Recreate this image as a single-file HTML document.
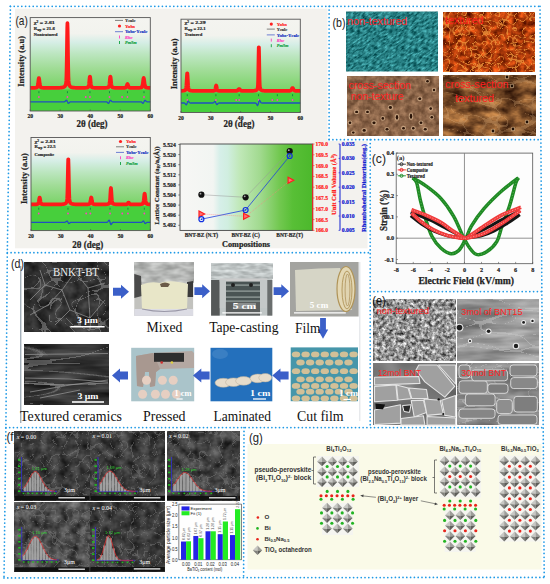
<!DOCTYPE html>
<html><head><meta charset="utf-8"><style>html,body{margin:0;padding:0;background:#fff;width:550px;height:584px;overflow:hidden}svg{display:block}</style></head><body><svg width="550" height="584" viewBox="0 0 550 584"><defs><linearGradient id="g1" x1="0" y1="0" x2="0" y2="1"><stop offset="0" stop-color="#f4f4f0"/><stop offset="0.22" stop-color="#f2f3ee"/><stop offset="0.34" stop-color="#d6eee6"/><stop offset="0.5" stop-color="#bce6c0"/><stop offset="0.7" stop-color="#a0dc96"/><stop offset="0.88" stop-color="#86d676"/><stop offset="1" stop-color="#74d264"/></linearGradient><linearGradient id="g2" x1="0" y1="0" x2="0" y2="1"><stop offset="0" stop-color="#f4f4f0"/><stop offset="0.22" stop-color="#f2f3ee"/><stop offset="0.34" stop-color="#d6eee6"/><stop offset="0.5" stop-color="#bce6c0"/><stop offset="0.7" stop-color="#a0dc96"/><stop offset="0.88" stop-color="#86d676"/><stop offset="1" stop-color="#74d264"/></linearGradient><linearGradient id="g3" x1="0" y1="0" x2="0" y2="1"><stop offset="0" stop-color="#f4f4f0"/><stop offset="0.22" stop-color="#f2f3ee"/><stop offset="0.34" stop-color="#d6eee6"/><stop offset="0.5" stop-color="#bce6c0"/><stop offset="0.7" stop-color="#a0dc96"/><stop offset="0.88" stop-color="#86d676"/><stop offset="1" stop-color="#74d264"/></linearGradient><linearGradient id="g4" x1="0" y1="0" x2="1" y2="0"><stop offset="0" stop-color="#f7f7f5"/><stop offset="0.25" stop-color="#f2f5f2"/><stop offset="0.3" stop-color="#d6efe9"/><stop offset="0.36" stop-color="#d0eee0"/><stop offset="0.45" stop-color="#c0e8b8"/><stop offset="0.6" stop-color="#a2da90"/><stop offset="0.75" stop-color="#72c850"/><stop offset="0.85" stop-color="#58bf36"/><stop offset="1" stop-color="#4cb82c"/></linearGradient><clipPath id="cpteal"><rect x="346" y="11.5" width="92" height="60"/></clipPath><filter id="f1" x="0" y="0" width="1" height="1" color-interpolation-filters="sRGB"><feTurbulence type="fractalNoise" baseFrequency="0.22 0.6" numOctaves="3" seed="3"/><feColorMatrix type="matrix" values="0.588 0 0 0 -0.137 0.850 0 0 0 0.077 0.850 0 0 0 0.093 0 0 0 0 1"/></filter><filter id="f2" x="0" y="0" width="1" height="1" color-interpolation-filters="sRGB"><feTurbulence type="fractalNoise" baseFrequency="0.15" numOctaves="3" seed="5" result="n"/><feColorMatrix in="n" type="matrix" values="1.046 0 0 0 0.136 0.523 0 0 0 -0.042 0.196 0 0 0 -0.059 0 0 0 0 1" result="base"/><feTurbulence type="turbulence" baseFrequency="0.12 0.14" numOctaves="1" seed="9" result="t"/><feColorMatrix in="t" type="matrix" values="0 0 0 0 0.933 0 0 0 0 0.580 0 0 0 0 0.227 -11.000 0 0 0 0.770" result="lines"/><feComposite in="lines" in2="base" operator="over"/></filter><filter id="f3" x="0" y="0" width="1" height="1" color-interpolation-filters="sRGB"><feTurbulence type="fractalNoise" baseFrequency="0.15" numOctaves="3" seed="8"/><feColorMatrix type="matrix" values="0.458 0 0 0 0.312 0.392 0 0 0 0.196 0.327 0 0 0 0.119 0 0 0 0 1"/></filter><filter id="f4" x="0" y="0" width="1" height="1" color-interpolation-filters="sRGB"><feTurbulence type="fractalNoise" baseFrequency="0.05 0.08" numOctaves="4" seed="11" result="n"/><feColorMatrix in="n" type="matrix" values="1.046 0 0 0 -0.029 0.784 0 0 0 -0.078 0.458 0 0 0 -0.064 0 0 0 0 1" result="base"/><feTurbulence type="turbulence" baseFrequency="0.03 0.06" numOctaves="1" seed="12" result="t"/><feColorMatrix in="t" type="matrix" values="0 0 0 0 0.843 0 0 0 0 0.667 0 0 0 0 0.471 -7.200 0 0 0 0.288" result="lines"/><feComposite in="lines" in2="base" operator="over"/></filter><filter id="f5" x="0" y="0" width="1" height="1" color-interpolation-filters="sRGB"><feTurbulence type="fractalNoise" baseFrequency="0.08" numOctaves="3" seed="21" result="n"/><feColorMatrix in="n" type="matrix" values="0.327 0 0 0 0.033 0.327 0 0 0 0.033 0.327 0 0 0 0.033 0 0 0 0 1" result="base"/><feTurbulence type="turbulence" baseFrequency="0.05" numOctaves="1" seed="22" result="t"/><feColorMatrix in="t" type="matrix" values="0 0 0 0 0.549 0 0 0 0 0.549 0 0 0 0 0.549 -22.000 0 0 0 0.550" result="lines"/><feComposite in="lines" in2="base" operator="over"/></filter><filter id="f6" x="0" y="0" width="1" height="1" color-interpolation-filters="sRGB"><feTurbulence type="fractalNoise" baseFrequency="0.02 0.12" numOctaves="3" seed="23" result="n"/><feColorMatrix in="n" type="matrix" values="0.327 0 0 0 0.033 0.327 0 0 0 0.033 0.327 0 0 0 0.033 0 0 0 0 1" result="base"/><feTurbulence type="turbulence" baseFrequency="0.006 0.05" numOctaves="1" seed="24" result="t"/><feColorMatrix in="t" type="matrix" values="0 0 0 0 0.588 0 0 0 0 0.588 0 0 0 0 0.588 -16.000 0 0 0 0.480" result="lines"/><feComposite in="lines" in2="base" operator="over"/></filter><filter id="f7" x="0" y="0" width="1" height="1" color-interpolation-filters="sRGB"><feTurbulence type="fractalNoise" baseFrequency="0.08 0.2" numOctaves="2" seed="61"/><feColorMatrix type="matrix" values="0.392 0 0 0 0.518 0.392 0 0 0 0.525 0.392 0 0 0 0.518 0 0 0 0 1"/></filter><filter id="f8" x="0" y="0" width="1" height="1" color-interpolation-filters="sRGB"><feTurbulence type="fractalNoise" baseFrequency="0.1 0.3" numOctaves="2" seed="62"/><feColorMatrix type="matrix" values="0.392 0 0 0 0.557 0.392 0 0 0 0.580 0.392 0 0 0 0.580 0 0 0 0 1"/></filter><filter id="f9" x="0" y="0" width="1" height="1" color-interpolation-filters="sRGB"><feTurbulence type="fractalNoise" baseFrequency="0.28" numOctaves="3" seed="31"/><feColorMatrix type="matrix" values="1.307 0 0 0 -0.073 1.307 0 0 0 -0.073 1.307 0 0 0 -0.073 0 0 0 0 1"/></filter><filter id="f10" x="0" y="0" width="1" height="1" color-interpolation-filters="sRGB"><feTurbulence type="fractalNoise" baseFrequency="0.02 0.1" numOctaves="3" seed="32" result="n"/><feColorMatrix in="n" type="matrix" values="0.523 0 0 0 0.327 0.523 0 0 0 0.327 0.523 0 0 0 0.327 0 0 0 0 1" result="base"/><feTurbulence type="turbulence" baseFrequency="0.02 0.06" numOctaves="1" seed="35" result="t"/><feColorMatrix in="t" type="matrix" values="0 0 0 0 0.804 0 0 0 0 0.804 0 0 0 0 0.804 -20.000 0 0 0 0.400" result="lines"/><feComposite in="lines" in2="base" operator="over"/></filter><filter id="f11" x="0" y="0" width="1" height="1" color-interpolation-filters="sRGB"><feTurbulence type="fractalNoise" baseFrequency="0.03" numOctaves="2" seed="33"/><feColorMatrix type="matrix" values="0.392 0 0 0 0.267 0.392 0 0 0 0.267 0.392 0 0 0 0.267 0 0 0 0 1"/></filter><filter id="f12" x="0" y="0" width="1" height="1" color-interpolation-filters="sRGB"><feTurbulence type="fractalNoise" baseFrequency="0.03 0.08" numOctaves="3" seed="34" result="n"/><feColorMatrix in="n" type="matrix" values="0.458 0 0 0 0.281 0.458 0 0 0 0.281 0.458 0 0 0 0.281 0 0 0 0 1" result="base"/><feTurbulence type="turbulence" baseFrequency="0.03 0.09" numOctaves="1" seed="36" result="t"/><feColorMatrix in="t" type="matrix" values="0 0 0 0 0.882 0 0 0 0 0.882 0 0 0 0 0.882 -13.200 0 0 0 0.264" result="lines"/><feComposite in="lines" in2="base" operator="over"/></filter><filter id="f13" x="0" y="0" width="1" height="1" color-interpolation-filters="sRGB"><feTurbulence type="fractalNoise" baseFrequency="0.1" numOctaves="3" seed="41" result="n"/><feColorMatrix in="n" type="matrix" values="0.366 0 0 0 0.041 0.366 0 0 0 0.041 0.366 0 0 0 0.041 0 0 0 0 1" result="base"/><feTurbulence type="turbulence" baseFrequency="0.09" numOctaves="1" seed="91" result="t"/><feColorMatrix in="t" type="matrix" values="0 0 0 0 0.471 0 0 0 0 0.471 0 0 0 0 0.471 -17.000 0 0 0 0.476" result="lines"/><feComposite in="lines" in2="base" operator="over"/></filter><filter id="f14" x="0" y="0" width="1" height="1" color-interpolation-filters="sRGB"><feTurbulence type="fractalNoise" baseFrequency="0.1" numOctaves="3" seed="42" result="n"/><feColorMatrix in="n" type="matrix" values="0.418 0 0 0 0.022 0.418 0 0 0 0.022 0.418 0 0 0 0.022 0 0 0 0 1" result="base"/><feTurbulence type="turbulence" baseFrequency="0.09" numOctaves="1" seed="92" result="t"/><feColorMatrix in="t" type="matrix" values="0 0 0 0 0.471 0 0 0 0 0.471 0 0 0 0 0.471 -17.000 0 0 0 0.476" result="lines"/><feComposite in="lines" in2="base" operator="over"/></filter><filter id="f15" x="0" y="0" width="1" height="1" color-interpolation-filters="sRGB"><feTurbulence type="fractalNoise" baseFrequency="0.1" numOctaves="3" seed="43" result="n"/><feColorMatrix in="n" type="matrix" values="0.471 0 0 0 0.020 0.471 0 0 0 0.020 0.471 0 0 0 0.020 0 0 0 0 1" result="base"/><feTurbulence type="turbulence" baseFrequency="0.09" numOctaves="1" seed="93" result="t"/><feColorMatrix in="t" type="matrix" values="0 0 0 0 0.471 0 0 0 0 0.471 0 0 0 0 0.471 -17.000 0 0 0 0.476" result="lines"/><feComposite in="lines" in2="base" operator="over"/></filter><filter id="f16" x="0" y="0" width="1" height="1" color-interpolation-filters="sRGB"><feTurbulence type="fractalNoise" baseFrequency="0.1" numOctaves="3" seed="44" result="n"/><feColorMatrix in="n" type="matrix" values="0.523 0 0 0 0.033 0.523 0 0 0 0.033 0.523 0 0 0 0.033 0 0 0 0 1" result="base"/><feTurbulence type="turbulence" baseFrequency="0.09" numOctaves="1" seed="94" result="t"/><feColorMatrix in="t" type="matrix" values="0 0 0 0 0.471 0 0 0 0 0.471 0 0 0 0 0.471 -17.000 0 0 0 0.476" result="lines"/><feComposite in="lines" in2="base" operator="over"/></filter><filter id="f17" x="0" y="0" width="1" height="1" color-interpolation-filters="sRGB"><feTurbulence type="fractalNoise" baseFrequency="0.1" numOctaves="3" seed="45" result="n"/><feColorMatrix in="n" type="matrix" values="0.366 0 0 0 0.041 0.366 0 0 0 0.041 0.366 0 0 0 0.041 0 0 0 0 1" result="base"/><feTurbulence type="turbulence" baseFrequency="0.09" numOctaves="1" seed="95" result="t"/><feColorMatrix in="t" type="matrix" values="0 0 0 0 0.471 0 0 0 0 0.471 0 0 0 0 0.471 -17.000 0 0 0 0.476" result="lines"/><feComposite in="lines" in2="base" operator="over"/></filter></defs><rect x="15" y="8.7" width="312.5" height="132.3" fill="#f3f2ee" /><rect x="15" y="141" width="352.5" height="107.3" fill="#f3f2ee" /><text x="15.5" y="25" font-family='"Liberation Sans", sans-serif' font-size="12.2" font-weight="normal" fill="#222" text-anchor="start" textLength="12.3" lengthAdjust="spacingAndGlyphs">(a)</text><rect x="30.2" y="17.6" width="120.1" height="72.4" fill="url(#g1)" /><rect x="30.2" y="89.5" width="120.1" height="21.5" fill="#47cf3c" /><line x1="38.91" y1="91.2" x2="38.91" y2="93.2" stroke="#109040" stroke-width="1" /><line x1="67.43" y1="91.2" x2="67.43" y2="93.2" stroke="#109040" stroke-width="1" /><line x1="89.95" y1="91.2" x2="89.95" y2="93.2" stroke="#109040" stroke-width="1" /><line x1="109.47" y1="91.2" x2="109.47" y2="93.2" stroke="#109040" stroke-width="1" /><line x1="127.48" y1="91.2" x2="127.48" y2="93.2" stroke="#109040" stroke-width="1" /><line x1="143.99" y1="91.2" x2="143.99" y2="93.2" stroke="#109040" stroke-width="1" /><circle cx="38.91" cy="97" r="0.9" fill="#ff40c0" /><circle cx="67.43" cy="97" r="0.9" fill="#ff40c0" /><circle cx="85.75" cy="97" r="0.9" fill="#ff40c0" /><circle cx="89.95" cy="97" r="0.9" fill="#ff40c0" /><circle cx="109.47" cy="97" r="0.9" fill="#ff40c0" /><circle cx="122.08" cy="97" r="0.9" fill="#ff40c0" /><circle cx="127.48" cy="97" r="0.9" fill="#ff40c0" /><circle cx="143.99" cy="97" r="0.9" fill="#ff40c0" /><polyline points="30.2,101.8 30.7,101.8 31.2,101.8 31.7,101.8 32.2,101.8 32.7,101.8 33.2,101.8 33.7,101.8 34.2,101.8 34.7,101.8 35.2,101.8 35.7,101.8 36.2,101.8 36.71,101.8 37.21,101.8 37.71,101.8 38.21,101.8 38.71,101.8 39.21,101.8 39.71,101.8 40.21,101.8 40.71,101.8 41.21,101.8 41.71,101.8 42.21,101.8 42.71,101.8 43.21,101.8 43.71,101.8 44.21,101.8 44.71,101.8 45.21,101.8 45.71,101.8 46.21,101.8 46.71,101.8 47.21,101.8 47.71,101.8 48.22,101.8 48.72,101.8 49.22,101.8 49.72,101.8 50.22,101.8 50.72,101.8 51.22,101.8 51.72,101.8 52.22,101.8 52.72,101.8 53.22,101.8 53.72,101.8 54.22,101.8 54.72,101.8 55.22,101.8 55.72,101.8 56.22,101.8 56.72,101.8 57.22,101.8 57.72,101.8 58.22,101.8 58.72,101.8 59.22,101.8 59.72,101.8 60.23,101.8 60.73,101.8 61.23,101.8 61.73,101.8 62.23,101.8 62.73,101.8 63.23,101.81 63.73,101.82 64.23,101.81 64.73,101.69 65.23,101.35 65.73,100.78 66.23,100.31 66.73,100.42 67.23,101.31 67.73,102.52 68.23,103.27 68.73,103.23 69.23,102.7 69.73,102.16 70.23,101.87 70.73,101.79 71.23,101.78 71.73,101.79 72.23,101.8 72.74,101.8 73.24,101.8 73.74,101.8 74.24,101.8 74.74,101.8 75.24,101.8 75.74,101.8 76.24,101.8 76.74,101.8 77.24,101.8 77.74,101.8 78.24,101.8 78.74,101.8 79.24,101.8 79.74,101.8 80.24,101.8 80.74,101.8 81.24,101.8 81.74,101.8 82.24,101.8 82.74,101.8 83.24,101.8 83.74,101.8 84.25,101.8 84.75,101.8 85.25,101.8 85.75,101.8 86.25,101.8 86.75,101.8 87.25,101.8 87.75,101.8 88.25,101.8 88.75,101.8 89.25,101.8 89.75,101.8 90.25,101.8 90.75,101.8 91.25,101.8 91.75,101.8 92.25,101.8 92.75,101.8 93.25,101.8 93.75,101.8 94.25,101.8 94.75,101.8 95.25,101.8 95.75,101.8 96.26,101.8 96.76,101.8 97.26,101.8 97.76,101.8 98.26,101.8 98.76,101.8 99.26,101.8 99.76,101.8 100.26,101.8 100.76,101.8 101.26,101.8 101.76,101.8 102.26,101.8 102.76,101.8 103.26,101.8 103.76,101.8 104.26,101.8 104.76,101.8 105.26,101.79 105.76,101.78 106.26,101.79 106.76,101.91 107.26,102.25 107.76,102.82 108.27,103.29 108.77,103.18 109.27,102.29 109.77,101.08 110.27,100.33 110.77,100.37 111.27,100.9 111.77,101.44 112.27,101.73 112.77,101.81 113.27,101.82 113.77,101.81 114.27,101.8 114.77,101.8 115.27,101.8 115.77,101.8 116.27,101.8 116.77,101.8 117.27,101.8 117.77,101.8 118.27,101.8 118.77,101.8 119.27,101.8 119.77,101.8 120.28,101.8 120.78,101.8 121.28,101.8 121.78,101.8 122.28,101.8 122.78,101.8 123.28,101.8 123.78,101.8 124.28,101.8 124.78,101.8 125.28,101.8 125.78,101.8 126.28,101.8 126.78,101.8 127.28,101.8 127.78,101.8 128.28,101.8 128.78,101.8 129.28,101.8 129.78,101.8 130.28,101.8 130.78,101.8 131.28,101.8 131.78,101.8 132.28,101.8 132.79,101.8 133.29,101.8 133.79,101.8 134.29,101.8 134.79,101.8 135.29,101.8 135.79,101.8 136.29,101.8 136.79,101.8 137.29,101.8 137.79,101.8 138.29,101.8 138.79,101.8 139.29,101.8 139.79,101.79 140.29,101.78 140.79,101.79 141.29,101.91 141.79,102.25 142.29,102.82 142.79,103.29 143.29,103.18 143.79,102.29 144.3,101.08 144.8,100.33 145.3,100.37 145.8,100.9 146.3,101.44 146.8,101.73 147.3,101.81 147.8,101.82 148.3,101.81 148.8,101.8 149.3,101.8 149.8,101.8 150.3,101.8" fill="none" stroke="#2050c0" stroke-width="1.3" /><polyline points="30.2,87.95 30.4,87.94 30.6,87.94 30.8,87.94 31,87.94 31.2,87.93 31.4,87.93 31.6,87.93 31.8,87.93 32,87.92 32.2,87.92 32.4,87.91 32.6,87.91 32.8,87.9 33,87.9 33.2,87.89 33.4,87.89 33.6,87.88 33.8,87.87 34,87.86 34.2,87.85 34.4,87.84 34.6,87.83 34.8,87.81 35,87.79 35.2,87.78 35.4,87.75 35.6,87.73 35.8,87.7 36,87.67 36.2,87.63 36.41,87.58 36.61,87.52 36.81,87.44 37.01,87.33 37.21,87.15 37.41,86.84 37.61,86.31 37.81,85.43 38.01,84.14 38.21,82.47 38.41,80.65 38.61,79.05 38.81,78.11 39.01,78.11 39.21,79.05 39.41,80.65 39.61,82.47 39.81,84.14 40.01,85.43 40.21,86.3 40.41,86.84 40.61,87.15 40.81,87.33 41.01,87.44 41.21,87.52 41.41,87.57 41.61,87.62 41.81,87.66 42.01,87.69 42.21,87.72 42.41,87.74 42.61,87.77 42.81,87.78 43.01,87.8 43.21,87.81 43.41,87.83 43.61,87.84 43.81,87.85 44.01,87.86 44.21,87.86 44.41,87.87 44.61,87.88 44.81,87.88 45.01,87.89 45.21,87.89 45.41,87.9 45.61,87.9 45.81,87.9 46.01,87.91 46.21,87.91 46.41,87.91 46.61,87.91 46.81,87.92 47.01,87.92 47.21,87.92 47.41,87.92 47.61,87.92 47.81,87.92 48.01,87.92 48.22,87.92 48.42,87.92 48.62,87.93 48.82,87.93 49.02,87.93 49.22,87.93 49.42,87.93 49.62,87.93 49.82,87.93 50.02,87.93 50.22,87.93 50.42,87.93 50.62,87.93 50.82,87.93 51.02,87.93 51.22,87.93 51.42,87.92 51.62,87.92 51.82,87.92 52.02,87.92 52.22,87.92 52.42,87.92 52.62,87.92 52.82,87.92 53.02,87.92 53.22,87.92 53.42,87.91 53.62,87.91 53.82,87.91 54.02,87.91 54.22,87.91 54.42,87.9 54.62,87.9 54.82,87.9 55.02,87.9 55.22,87.9 55.42,87.89 55.62,87.89 55.82,87.89 56.02,87.88 56.22,87.88 56.42,87.88 56.62,87.87 56.82,87.87 57.02,87.87 57.22,87.86 57.42,87.86 57.62,87.85 57.82,87.85 58.02,87.84 58.22,87.83 58.42,87.83 58.62,87.82 58.82,87.81 59.02,87.8 59.22,87.8 59.42,87.79 59.62,87.78 59.82,87.76 60.02,87.75 60.23,87.74 60.43,87.73 60.63,87.71 60.83,87.69 61.03,87.68 61.23,87.66 61.43,87.64 61.63,87.61 61.83,87.58 62.03,87.56 62.23,87.52 62.43,87.49 62.63,87.45 62.83,87.4 63.03,87.35 63.23,87.29 63.43,87.22 63.63,87.15 63.83,87.06 64.03,86.96 64.23,86.84 64.43,86.7 64.63,86.53 64.83,86.33 65.03,86.09 65.23,85.79 65.43,85.43 65.63,84.96 65.83,84.29 66.03,83.15 66.23,80.93 66.43,76.45 66.63,68.29 66.83,55.82 67.03,40.84 67.23,28.07 67.43,22.99 67.63,28.07 67.83,40.84 68.03,55.82 68.23,68.29 68.43,76.45 68.63,80.92 68.83,83.15 69.03,84.29 69.23,84.96 69.43,85.43 69.63,85.79 69.83,86.09 70.03,86.33 70.23,86.53 70.43,86.69 70.63,86.83 70.83,86.95 71.03,87.06 71.23,87.14 71.43,87.22 71.63,87.29 71.83,87.34 72.03,87.4 72.23,87.44 72.44,87.48 72.64,87.52 72.84,87.55 73.04,87.58 73.24,87.6 73.44,87.63 73.64,87.65 73.84,87.67 74.04,87.69 74.24,87.7 74.44,87.72 74.64,87.73 74.84,87.74 75.04,87.75 75.24,87.77 75.44,87.78 75.64,87.78 75.84,87.79 76.04,87.8 76.24,87.81 76.44,87.81 76.64,87.82 76.84,87.83 77.04,87.83 77.24,87.84 77.44,87.84 77.64,87.84 77.84,87.85 78.04,87.85 78.24,87.86 78.44,87.86 78.64,87.86 78.84,87.86 79.04,87.87 79.24,87.87 79.44,87.87 79.64,87.87 79.84,87.87 80.04,87.87 80.24,87.87 80.44,87.88 80.64,87.88 80.84,87.88 81.04,87.88 81.24,87.88 81.44,87.88 81.64,87.87 81.84,87.87 82.04,87.87 82.24,87.87 82.44,87.87 82.64,87.87 82.84,87.87 83.04,87.86 83.24,87.86 83.44,87.86 83.64,87.85 83.84,87.85 84.04,87.84 84.25,87.84 84.45,87.83 84.65,87.82 84.85,87.81 85.05,87.8 85.25,87.79 85.45,87.78 85.65,87.77 85.85,87.75 86.05,87.73 86.25,87.71 86.45,87.69 86.65,87.66 86.85,87.63 87.05,87.59 87.25,87.54 87.45,87.49 87.65,87.43 87.85,87.34 88.05,87.21 88.25,87.01 88.45,86.65 88.65,86.03 88.85,85.02 89.05,83.54 89.25,81.62 89.45,79.53 89.65,77.69 89.85,76.61 90.05,76.61 90.25,77.69 90.45,79.53 90.65,81.63 90.85,83.54 91.05,85.03 91.25,86.03 91.45,86.65 91.65,87.01 91.85,87.22 92.05,87.34 92.25,87.43 92.45,87.5 92.65,87.55 92.85,87.6 93.05,87.64 93.25,87.67 93.45,87.7 93.65,87.72 93.85,87.74 94.05,87.76 94.25,87.78 94.45,87.79 94.65,87.81 94.85,87.82 95.05,87.83 95.25,87.84 95.45,87.85 95.65,87.85 95.85,87.86 96.05,87.87 96.26,87.87 96.46,87.88 96.66,87.88 96.86,87.88 97.06,87.89 97.26,87.89 97.46,87.89 97.66,87.9 97.86,87.9 98.06,87.9 98.26,87.9 98.46,87.91 98.66,87.91 98.86,87.91 99.06,87.91 99.26,87.91 99.46,87.91 99.66,87.91 99.86,87.91 100.06,87.91 100.26,87.91 100.46,87.91 100.66,87.91 100.86,87.91 101.06,87.91 101.26,87.91 101.46,87.91 101.66,87.91 101.86,87.91 102.06,87.91 102.26,87.9 102.46,87.9 102.66,87.9 102.86,87.9 103.06,87.89 103.26,87.89 103.46,87.89 103.66,87.88 103.86,87.88 104.06,87.88 104.26,87.87 104.46,87.86 104.66,87.86 104.86,87.85 105.06,87.84 105.26,87.83 105.46,87.82 105.66,87.81 105.86,87.8 106.06,87.79 106.26,87.77 106.46,87.75 106.66,87.73 106.86,87.71 107.06,87.68 107.26,87.64 107.46,87.61 107.66,87.56 107.86,87.51 108.06,87.44 108.27,87.35 108.47,87.23 108.67,87.02 108.87,86.66 109.07,86.05 109.27,85.04 109.47,83.55 109.67,81.64 109.87,79.54 110.07,77.7 110.27,76.62 110.47,76.62 110.67,77.7 110.87,79.54 111.07,81.64 111.27,83.55 111.47,85.04 111.67,86.05 111.87,86.66 112.07,87.02 112.27,87.23 112.47,87.36 112.67,87.44 112.87,87.51 113.07,87.56 113.27,87.61 113.47,87.65 113.67,87.68 113.87,87.71 114.07,87.73 114.27,87.75 114.47,87.77 114.67,87.79 114.87,87.8 115.07,87.82 115.27,87.83 115.47,87.84 115.67,87.85 115.87,87.86 116.07,87.86 116.27,87.87 116.47,87.88 116.67,87.88 116.87,87.89 117.07,87.89 117.27,87.89 117.47,87.9 117.67,87.9 117.87,87.9 118.07,87.91 118.27,87.91 118.47,87.91 118.67,87.91 118.87,87.91 119.07,87.92 119.27,87.92 119.47,87.92 119.67,87.92 119.87,87.92 120.07,87.92 120.28,87.92 120.48,87.92 120.68,87.92 120.88,87.92 121.08,87.92 121.28,87.92 121.48,87.91 121.68,87.91 121.88,87.91 122.08,87.91 122.28,87.91 122.48,87.9 122.68,87.9 122.88,87.9 123.08,87.89 123.28,87.89 123.48,87.88 123.68,87.87 123.88,87.86 124.08,87.85 124.28,87.84 124.48,87.83 124.68,87.81 124.88,87.79 125.08,87.77 125.28,87.74 125.48,87.7 125.68,87.62 125.88,87.5 126.08,87.3 126.28,86.99 126.48,86.53 126.68,85.93 126.88,85.25 127.08,84.61 127.28,84.14 127.48,83.97 127.68,84.14 127.88,84.61 128.08,85.25 128.28,85.93 128.48,86.53 128.68,86.99 128.88,87.3 129.08,87.5 129.28,87.62 129.48,87.7 129.68,87.74 129.88,87.77 130.08,87.79 130.28,87.81 130.48,87.83 130.68,87.84 130.88,87.85 131.08,87.86 131.28,87.87 131.48,87.88 131.68,87.88 131.88,87.89 132.08,87.89 132.28,87.9 132.49,87.9 132.69,87.91 132.89,87.91 133.09,87.91 133.29,87.91 133.49,87.91 133.69,87.91 133.89,87.92 134.09,87.92 134.29,87.92 134.49,87.92 134.69,87.92 134.89,87.92 135.09,87.91 135.29,87.91 135.49,87.91 135.69,87.91 135.89,87.91 136.09,87.91 136.29,87.91 136.49,87.9 136.69,87.9 136.89,87.9 137.09,87.89 137.29,87.89 137.49,87.88 137.69,87.88 137.89,87.87 138.09,87.87 138.29,87.86 138.49,87.85 138.69,87.84 138.89,87.83 139.09,87.82 139.29,87.81 139.49,87.79 139.69,87.77 139.89,87.76 140.09,87.73 140.29,87.71 140.49,87.68 140.69,87.65 140.89,87.61 141.09,87.56 141.29,87.5 141.49,87.42 141.69,87.31 141.89,87.13 142.09,86.83 142.29,86.33 142.49,85.54 142.69,84.39 142.89,82.89 143.09,81.2 143.29,79.59 143.49,78.42 143.69,77.99 143.89,78.42 144.09,79.59 144.3,81.2 144.5,82.89 144.7,84.39 144.9,85.54 145.1,86.33 145.3,86.84 145.5,87.14 145.7,87.32 145.9,87.43 146.1,87.51 146.3,87.56 146.5,87.61 146.7,87.65 146.9,87.69 147.1,87.72 147.3,87.74 147.5,87.76 147.7,87.78 147.9,87.8 148.1,87.82 148.3,87.83 148.5,87.84 148.7,87.85 148.9,87.86 149.1,87.87 149.3,87.88 149.5,87.89 149.7,87.89 149.9,87.9 150.1,87.9 150.3,87.91" fill="none" stroke="#ff1a1a" stroke-width="3.7" stroke-linejoin="round"/><rect x="30.2" y="17.6" width="120.1" height="93.4" fill="none" stroke="#555" stroke-width="0.9"/><text x="30.2" y="117.8" font-family='"Liberation Serif", serif' font-size="5.6" font-weight="bold" fill="#222" text-anchor="middle" stroke="#222" stroke-width="0.2" stroke-linejoin="round">20</text><line x1="30.2" y1="111" x2="30.2" y2="109.5" stroke="#555" stroke-width="0.7" /><text x="60.23" y="117.8" font-family='"Liberation Serif", serif' font-size="5.6" font-weight="bold" fill="#222" text-anchor="middle" stroke="#222" stroke-width="0.2" stroke-linejoin="round">30</text><line x1="60.23" y1="111" x2="60.23" y2="109.5" stroke="#555" stroke-width="0.7" /><text x="90.25" y="117.8" font-family='"Liberation Serif", serif' font-size="5.6" font-weight="bold" fill="#222" text-anchor="middle" stroke="#222" stroke-width="0.2" stroke-linejoin="round">40</text><line x1="90.25" y1="111" x2="90.25" y2="109.5" stroke="#555" stroke-width="0.7" /><text x="120.28" y="117.8" font-family='"Liberation Serif", serif' font-size="5.6" font-weight="bold" fill="#222" text-anchor="middle" stroke="#222" stroke-width="0.2" stroke-linejoin="round">50</text><line x1="120.28" y1="111" x2="120.28" y2="109.5" stroke="#555" stroke-width="0.7" /><text x="150.3" y="117.8" font-family='"Liberation Serif", serif' font-size="5.6" font-weight="bold" fill="#222" text-anchor="middle" stroke="#222" stroke-width="0.2" stroke-linejoin="round">60</text><line x1="150.3" y1="111" x2="150.3" y2="109.5" stroke="#555" stroke-width="0.7" /><text x="33.8" y="23.6" font-family='"Liberation Serif", serif' font-size="4.8" font-weight="bold" fill="#222" text-anchor="start" textLength="21" lengthAdjust="spacingAndGlyphs" stroke="#222" stroke-width="0.18" stroke-linejoin="round">χ² = 2.61</text><text x="33.8" y="29.5" font-family='"Liberation Serif", serif' font-size="4.8" font-weight="bold" fill="#222" text-anchor="start" textLength="21" lengthAdjust="spacingAndGlyphs" stroke="#222" stroke-width="0.18" stroke-linejoin="round">R<tspan font-size="3.3" dy="1">wp</tspan><tspan dy="-1"> = 21.6</tspan></text><text x="33.8" y="36" font-family='"Liberation Serif", serif' font-size="4.8" font-weight="bold" fill="#222" text-anchor="start" textLength="23.7" lengthAdjust="spacingAndGlyphs" stroke="#222" stroke-width="0.18" stroke-linejoin="round">Nontextured</text><line x1="115" y1="20.4" x2="123" y2="20.4" stroke="#333" stroke-width="0.6" /><text x="125" y="22" font-family='"Liberation Serif", serif' font-size="4.9" font-weight="bold" fill="#333" text-anchor="start" textLength="10.4" lengthAdjust="spacingAndGlyphs" stroke="#333" stroke-width="0.18" stroke-linejoin="round">Ycalc</text><circle cx="119.5" cy="26" r="1.6" fill="#ff2020" /><text x="125" y="27.5" font-family='"Liberation Serif", serif' font-size="4.9" font-weight="bold" fill="#ff2020" text-anchor="start" textLength="10" lengthAdjust="spacingAndGlyphs" stroke="#ff2020" stroke-width="0.18" stroke-linejoin="round">Yobs</text><line x1="115" y1="31.7" x2="123" y2="31.7" stroke="#1030c0" stroke-width="0.6" /><text x="125" y="33.3" font-family='"Liberation Serif", serif' font-size="4.9" font-weight="bold" fill="#1030c0" text-anchor="start" textLength="22.3" lengthAdjust="spacingAndGlyphs" stroke="#1030c0" stroke-width="0.18" stroke-linejoin="round">Yobs-Ycalc</text><line x1="119.5" y1="35.5" x2="119.5" y2="38.5" stroke="#ff40c0" stroke-width="0.9" /><text x="125" y="38.5" font-family='"Liberation Serif", serif' font-size="4.9" font-weight="bold" fill="#ff40c0" text-anchor="start" font-style="italic" textLength="7.4" lengthAdjust="spacingAndGlyphs" stroke="#ff40c0" stroke-width="0.18" stroke-linejoin="round">Rhc</text><line x1="119.5" y1="41" x2="119.5" y2="44" stroke="#10a040" stroke-width="0.9" /><text x="125" y="44" font-family='"Liberation Serif", serif' font-size="4.9" font-weight="bold" fill="#10a040" text-anchor="start" font-style="italic" textLength="11.6" lengthAdjust="spacingAndGlyphs" stroke="#10a040" stroke-width="0.18" stroke-linejoin="round">Pm3m</text><text x="24.2" y="61.4" font-family='"Liberation Serif", serif' font-size="8.6" font-weight="bold" fill="#222" text-anchor="middle" transform="rotate(-90 24.2 61.4)" textLength="50.8" lengthAdjust="spacingAndGlyphs" stroke="#222" stroke-width="0.2" stroke-linejoin="round">Intensity (a.u)</text><text x="92.1" y="127" font-family='"Liberation Serif", serif' font-size="9.4" font-weight="bold" fill="#222" text-anchor="middle" textLength="31" lengthAdjust="spacingAndGlyphs" stroke="#222" stroke-width="0.2" stroke-linejoin="round">2θ (deg)</text><rect x="181" y="19.2" width="119.3" height="73.8" fill="url(#g2)" /><rect x="181" y="92.5" width="119.3" height="20" fill="#47cf3c" /><line x1="187.26" y1="94.2" x2="187.26" y2="96.2" stroke="#109040" stroke-width="1" /><line x1="215.9" y1="94.2" x2="215.9" y2="96.2" stroke="#109040" stroke-width="1" /><line x1="239.16" y1="94.2" x2="239.16" y2="96.2" stroke="#109040" stroke-width="1" /><line x1="258.55" y1="94.2" x2="258.55" y2="96.2" stroke="#109040" stroke-width="1" /><line x1="277.33" y1="94.2" x2="277.33" y2="96.2" stroke="#109040" stroke-width="1" /><line x1="292.55" y1="94.2" x2="292.55" y2="96.2" stroke="#109040" stroke-width="1" /><circle cx="187.26" cy="100" r="0.9" fill="#ff40c0" /><circle cx="215.9" cy="100" r="0.9" fill="#ff40c0" /><circle cx="236.18" cy="100" r="0.9" fill="#ff40c0" /><circle cx="239.16" cy="100" r="0.9" fill="#ff40c0" /><circle cx="258.55" cy="100" r="0.9" fill="#ff40c0" /><circle cx="272.26" cy="100" r="0.9" fill="#ff40c0" /><circle cx="277.33" cy="100" r="0.9" fill="#ff40c0" /><circle cx="292.55" cy="100" r="0.9" fill="#ff40c0" /><polyline points="181,103 181.5,103 181.99,103 182.49,103 182.99,102.99 183.49,102.98 183.98,102.98 184.48,103.09 184.98,103.44 185.47,104.07 185.97,104.72 186.47,104.77 186.97,103.86 187.46,102.41 187.96,101.34 188.46,101.21 188.95,101.78 189.45,102.46 189.95,102.86 190.44,103.01 190.94,103.02 191.44,103.01 191.94,103 192.43,103 192.93,103 193.43,103 193.92,103 194.42,103 194.92,103 195.42,103 195.91,103 196.41,103 196.91,103 197.4,103 197.9,103 198.4,103 198.9,103 199.39,103 199.89,103 200.39,103 200.88,103 201.38,103 201.88,103 202.37,103 202.87,103 203.37,103 203.87,103 204.36,103 204.86,103 205.36,103 205.85,103 206.35,103 206.85,103 207.35,103 207.84,103 208.34,103 208.84,103 209.33,103 209.83,103 210.33,103 210.82,103 211.32,103 211.82,103.01 212.32,103.02 212.81,102.99 213.31,102.84 213.81,102.45 214.3,101.87 214.8,101.47 215.3,101.74 215.8,102.75 216.29,103.93 216.79,104.53 217.29,104.35 217.78,103.78 218.28,103.29 218.78,103.04 219.28,102.98 219.77,102.98 220.27,102.99 220.77,103 221.26,103 221.76,103 222.26,103 222.75,103 223.25,103 223.75,103 224.25,103 224.74,103 225.24,103 225.74,103 226.23,103 226.73,103 227.23,103 227.73,103 228.22,103 228.72,103 229.22,103 229.71,103 230.21,103 230.71,103 231.21,103 231.7,103 232.2,103 232.7,103 233.19,103 233.69,103 234.19,103 234.69,103 235.18,103 235.68,103 236.18,103 236.67,103 237.17,103 237.67,103 238.16,103 238.66,103 239.16,103 239.66,103 240.15,103 240.65,103 241.15,103 241.64,103 242.14,103 242.64,103 243.14,103 243.63,103 244.13,103 244.63,103 245.12,103 245.62,103 246.12,103 246.62,103 247.11,103 247.61,103 248.11,103 248.6,103 249.1,103 249.6,103 250.09,103 250.59,103 251.09,103 251.59,103 252.08,103 252.58,103 253.08,103 253.57,103 254.07,102.99 254.57,102.98 255.07,102.97 255.56,103.04 256.06,103.35 256.56,104.06 257.05,104.99 257.55,105.47 258.05,104.78 258.55,103 259.04,101.22 259.54,100.53 260.04,101.01 260.53,101.94 261.03,102.65 261.53,102.96 262.02,103.03 262.52,103.02 263.02,103.01 263.52,103 264.01,103 264.51,103 265.01,103 265.5,103 266,103 266.5,103 267,103 267.49,103 267.99,103 268.49,103 268.98,103 269.48,103 269.98,103 270.48,103 270.97,103 271.47,103 271.97,103 272.46,103 272.96,103 273.46,103 273.95,103 274.45,103 274.95,103 275.45,103 275.94,103 276.44,103 276.94,103 277.43,103 277.93,103 278.43,103 278.93,103 279.42,103 279.92,103 280.42,103 280.91,103 281.41,103 281.91,103 282.41,103 282.9,103 283.4,103 283.9,103 284.39,103 284.89,103 285.39,103 285.88,103 286.38,103 286.88,103 287.38,103 287.87,103 288.37,103 288.87,103 289.36,103 289.86,103 290.36,103 290.86,103 291.35,103 291.85,103 292.35,103 292.84,103 293.34,103 293.84,103 294.34,103 294.83,103 295.33,103 295.83,103 296.32,103 296.82,103 297.32,103 297.81,103 298.31,103 298.81,103 299.31,103 299.8,103 300.3,103" fill="none" stroke="#2050c0" stroke-width="1.3" /><polyline points="181,90.88 181.2,90.88 181.4,90.87 181.6,90.86 181.8,90.85 181.99,90.84 182.19,90.83 182.39,90.81 182.59,90.8 182.79,90.78 182.99,90.76 183.19,90.74 183.39,90.72 183.58,90.69 183.78,90.66 183.98,90.62 184.18,90.57 184.38,90.52 184.58,90.46 184.78,90.39 184.98,90.3 185.18,90.19 185.37,90.05 185.57,89.83 185.77,89.46 185.97,88.77 186.17,87.52 186.37,85.43 186.57,82.4 186.77,78.77 186.97,75.37 187.16,73.28 187.36,73.28 187.56,75.37 187.76,78.77 187.96,82.4 188.16,85.43 188.36,87.52 188.56,88.77 188.75,89.46 188.95,89.83 189.15,90.05 189.35,90.19 189.55,90.3 189.75,90.39 189.95,90.46 190.15,90.52 190.35,90.57 190.54,90.62 190.74,90.65 190.94,90.69 191.14,90.72 191.34,90.74 191.54,90.76 191.74,90.78 191.94,90.8 192.13,90.81 192.33,90.83 192.53,90.84 192.73,90.85 192.93,90.86 193.13,90.87 193.33,90.87 193.53,90.88 193.73,90.89 193.92,90.89 194.12,90.9 194.32,90.9 194.52,90.91 194.72,90.91 194.92,90.92 195.12,90.92 195.32,90.92 195.51,90.93 195.71,90.93 195.91,90.93 196.11,90.94 196.31,90.94 196.51,90.94 196.71,90.94 196.91,90.94 197.11,90.95 197.3,90.95 197.5,90.95 197.7,90.95 197.9,90.95 198.1,90.95 198.3,90.96 198.5,90.96 198.7,90.96 198.9,90.96 199.09,90.96 199.29,90.96 199.49,90.96 199.69,90.96 199.89,90.96 200.09,90.96 200.29,90.96 200.49,90.97 200.68,90.97 200.88,90.97 201.08,90.97 201.28,90.97 201.48,90.97 201.68,90.97 201.88,90.97 202.08,90.97 202.28,90.97 202.47,90.97 202.67,90.97 202.87,90.97 203.07,90.97 203.27,90.97 203.47,90.97 203.67,90.97 203.87,90.97 204.06,90.97 204.26,90.97 204.46,90.97 204.66,90.97 204.86,90.97 205.06,90.97 205.26,90.97 205.46,90.97 205.66,90.97 205.85,90.97 206.05,90.97 206.25,90.97 206.45,90.97 206.65,90.97 206.85,90.97 207.05,90.97 207.25,90.97 207.44,90.97 207.64,90.97 207.84,90.97 208.04,90.96 208.24,90.96 208.44,90.96 208.64,90.96 208.84,90.96 209.04,90.96 209.23,90.96 209.43,90.96 209.63,90.95 209.83,90.95 210.03,90.95 210.23,90.95 210.43,90.95 210.63,90.94 210.82,90.94 211.02,90.94 211.22,90.93 211.42,90.93 211.62,90.92 211.82,90.92 212.02,90.91 212.22,90.91 212.42,90.9 212.61,90.89 212.81,90.88 213.01,90.87 213.21,90.85 213.41,90.83 213.61,90.81 213.81,90.79 214.01,90.76 214.21,90.72 214.4,90.67 214.6,90.58 214.8,90.43 215,90.14 215.2,89.64 215.4,88.86 215.6,87.82 215.8,86.7 215.99,85.82 216.19,85.49 216.39,85.82 216.59,86.7 216.79,87.82 216.99,88.86 217.19,89.64 217.39,90.14 217.59,90.43 217.78,90.58 217.98,90.67 218.18,90.72 218.38,90.76 218.58,90.79 218.78,90.81 218.98,90.83 219.18,90.85 219.37,90.87 219.57,90.88 219.77,90.89 219.97,90.9 220.17,90.91 220.37,90.91 220.57,90.92 220.77,90.92 220.97,90.93 221.16,90.93 221.36,90.94 221.56,90.94 221.76,90.94 221.96,90.95 222.16,90.95 222.36,90.95 222.56,90.95 222.75,90.95 222.95,90.96 223.15,90.96 223.35,90.96 223.55,90.96 223.75,90.96 223.95,90.96 224.15,90.96 224.35,90.96 224.54,90.97 224.74,90.97 224.94,90.97 225.14,90.97 225.34,90.97 225.54,90.97 225.74,90.97 225.94,90.97 226.14,90.97 226.33,90.97 226.53,90.97 226.73,90.97 226.93,90.97 227.13,90.97 227.33,90.97 227.53,90.97 227.73,90.97 227.92,90.97 228.12,90.97 228.32,90.97 228.52,90.97 228.72,90.97 228.92,90.97 229.12,90.97 229.32,90.97 229.52,90.97 229.71,90.97 229.91,90.97 230.11,90.97 230.31,90.97 230.51,90.97 230.71,90.97 230.91,90.96 231.11,90.96 231.3,90.96 231.5,90.96 231.7,90.96 231.9,90.96 232.1,90.96 232.3,90.96 232.5,90.96 232.7,90.95 232.9,90.95 233.09,90.95 233.29,90.95 233.49,90.95 233.69,90.94 233.89,90.94 234.09,90.94 234.29,90.94 234.49,90.93 234.69,90.93 234.88,90.92 235.08,90.92 235.28,90.91 235.48,90.91 235.68,90.9 235.88,90.89 236.08,90.88 236.28,90.87 236.47,90.85 236.67,90.83 236.87,90.79 237.07,90.74 237.27,90.67 237.47,90.56 237.67,90.41 237.87,90.23 238.07,90 238.26,89.75 238.46,89.5 238.66,89.26 238.86,89.09 239.06,88.99 239.26,88.99 239.46,89.09 239.66,89.26 239.85,89.49 240.05,89.75 240.25,90 240.45,90.22 240.65,90.41 240.85,90.55 241.05,90.66 241.25,90.74 241.45,90.79 241.64,90.82 241.84,90.84 242.04,90.86 242.24,90.87 242.44,90.88 242.64,90.89 242.84,90.9 243.04,90.9 243.23,90.91 243.43,90.91 243.63,90.91 243.83,90.92 244.03,90.92 244.23,90.92 244.43,90.93 244.63,90.93 244.83,90.93 245.02,90.93 245.22,90.93 245.42,90.93 245.62,90.93 245.82,90.93 246.02,90.93 246.22,90.93 246.42,90.93 246.62,90.93 246.81,90.93 247.01,90.93 247.21,90.93 247.41,90.93 247.61,90.93 247.81,90.93 248.01,90.93 248.21,90.93 248.4,90.93 248.6,90.93 248.8,90.92 249,90.92 249.2,90.92 249.4,90.92 249.6,90.92 249.8,90.91 250,90.91 250.19,90.91 250.39,90.9 250.59,90.9 250.79,90.9 250.99,90.89 251.19,90.89 251.39,90.88 251.59,90.88 251.78,90.87 251.98,90.86 252.18,90.86 252.38,90.85 252.58,90.84 252.78,90.83 252.98,90.82 253.18,90.81 253.38,90.8 253.57,90.78 253.77,90.76 253.97,90.75 254.17,90.73 254.37,90.7 254.57,90.68 254.77,90.65 254.97,90.61 255.16,90.57 255.36,90.53 255.56,90.47 255.76,90.41 255.96,90.33 256.16,90.24 256.36,90.13 256.56,89.99 256.76,89.82 256.95,89.6 257.15,89.33 257.35,88.96 257.55,88.4 257.75,87.32 257.95,84.81 258.15,79.23 258.35,69.27 258.55,56.66 258.74,47.34 258.94,47.34 259.14,56.66 259.34,69.27 259.54,79.23 259.74,84.81 259.94,87.32 260.14,88.4 260.33,88.96 260.53,89.33 260.73,89.61 260.93,89.82 261.13,89.99 261.33,90.13 261.53,90.24 261.73,90.33 261.93,90.41 262.12,90.47 262.32,90.53 262.52,90.58 262.72,90.62 262.92,90.65 263.12,90.68 263.32,90.71 263.52,90.73 263.71,90.75 263.91,90.77 264.11,90.78 264.31,90.8 264.51,90.81 264.71,90.82 264.91,90.83 265.11,90.84 265.31,90.85 265.5,90.86 265.7,90.87 265.9,90.88 266.1,90.88 266.3,90.89 266.5,90.89 266.7,90.9 266.9,90.9 267.09,90.91 267.29,90.91 267.49,90.91 267.69,90.92 267.89,90.92 268.09,90.92 268.29,90.93 268.49,90.93 268.69,90.93 268.88,90.93 269.08,90.94 269.28,90.94 269.48,90.94 269.68,90.94 269.88,90.94 270.08,90.95 270.28,90.95 270.48,90.95 270.67,90.95 270.87,90.95 271.07,90.95 271.27,90.95 271.47,90.96 271.67,90.96 271.87,90.96 272.07,90.96 272.26,90.96 272.46,90.96 272.66,90.96 272.86,90.96 273.06,90.96 273.26,90.96 273.46,90.96 273.66,90.97 273.86,90.97 274.05,90.97 274.25,90.97 274.45,90.97 274.65,90.97 274.85,90.97 275.05,90.97 275.25,90.97 275.45,90.97 275.64,90.97 275.84,90.97 276.04,90.97 276.24,90.97 276.44,90.97 276.64,90.97 276.84,90.97 277.04,90.97 277.24,90.97 277.43,90.97 277.63,90.97 277.83,90.97 278.03,90.97 278.23,90.97 278.43,90.97 278.63,90.97 278.83,90.97 279.02,90.97 279.22,90.97 279.42,90.97 279.62,90.97 279.82,90.97 280.02,90.97 280.22,90.97 280.42,90.97 280.62,90.97 280.81,90.97 281.01,90.97 281.21,90.97 281.41,90.97 281.61,90.97 281.81,90.97 282.01,90.97 282.21,90.97 282.41,90.97 282.6,90.97 282.8,90.97 283,90.97 283.2,90.97 283.4,90.97 283.6,90.97 283.8,90.96 284,90.96 284.19,90.96 284.39,90.96 284.59,90.96 284.79,90.96 284.99,90.96 285.19,90.96 285.39,90.95 285.59,90.95 285.79,90.95 285.98,90.95 286.18,90.95 286.38,90.94 286.58,90.94 286.78,90.94 286.98,90.93 287.18,90.93 287.38,90.93 287.57,90.92 287.77,90.92 287.97,90.91 288.17,90.91 288.37,90.9 288.57,90.89 288.77,90.88 288.97,90.87 289.17,90.86 289.36,90.85 289.56,90.83 289.76,90.81 289.96,90.78 290.16,90.74 290.36,90.67 290.56,90.58 290.76,90.45 290.95,90.26 291.15,90.01 291.35,89.7 291.55,89.34 291.75,88.96 291.95,88.59 292.15,88.27 292.35,88.07 292.55,87.99 292.74,88.07 292.94,88.27 293.14,88.59 293.34,88.96 293.54,89.34 293.74,89.7 293.94,90.01 294.14,90.26 294.34,90.45 294.53,90.58 294.73,90.68 294.93,90.74 295.13,90.78 295.33,90.81 295.53,90.83 295.73,90.85 295.93,90.86 296.12,90.87 296.32,90.88 296.52,90.89 296.72,90.9 296.92,90.91 297.12,90.91 297.32,90.92 297.52,90.93 297.72,90.93 297.91,90.93 298.11,90.94 298.31,90.94 298.51,90.95 298.71,90.95 298.91,90.95 299.11,90.95 299.31,90.96 299.5,90.96 299.7,90.96 299.9,90.96 300.1,90.96 300.3,90.96" fill="none" stroke="#ff1a1a" stroke-width="3.7" stroke-linejoin="round"/><rect x="181" y="19.2" width="119.3" height="93.3" fill="none" stroke="#555" stroke-width="0.9"/><text x="181" y="119.7" font-family='"Liberation Serif", serif' font-size="5.6" font-weight="bold" fill="#222" text-anchor="middle" stroke="#222" stroke-width="0.2" stroke-linejoin="round">20</text><line x1="181" y1="112.5" x2="181" y2="111" stroke="#555" stroke-width="0.7" /><text x="210.82" y="119.7" font-family='"Liberation Serif", serif' font-size="5.6" font-weight="bold" fill="#222" text-anchor="middle" stroke="#222" stroke-width="0.2" stroke-linejoin="round">30</text><line x1="210.82" y1="112.5" x2="210.82" y2="111" stroke="#555" stroke-width="0.7" /><text x="240.65" y="119.7" font-family='"Liberation Serif", serif' font-size="5.6" font-weight="bold" fill="#222" text-anchor="middle" stroke="#222" stroke-width="0.2" stroke-linejoin="round">40</text><line x1="240.65" y1="112.5" x2="240.65" y2="111" stroke="#555" stroke-width="0.7" /><text x="270.48" y="119.7" font-family='"Liberation Serif", serif' font-size="5.6" font-weight="bold" fill="#222" text-anchor="middle" stroke="#222" stroke-width="0.2" stroke-linejoin="round">50</text><line x1="270.48" y1="112.5" x2="270.48" y2="111" stroke="#555" stroke-width="0.7" /><text x="300.3" y="119.7" font-family='"Liberation Serif", serif' font-size="5.6" font-weight="bold" fill="#222" text-anchor="middle" stroke="#222" stroke-width="0.2" stroke-linejoin="round">60</text><line x1="300.3" y1="112.5" x2="300.3" y2="111" stroke="#555" stroke-width="0.7" /><text x="184.6" y="23.9" font-family='"Liberation Serif", serif' font-size="4.8" font-weight="bold" fill="#222" text-anchor="start" textLength="21" lengthAdjust="spacingAndGlyphs" stroke="#222" stroke-width="0.18" stroke-linejoin="round">χ² = 2.29</text><text x="184.6" y="29.5" font-family='"Liberation Serif", serif' font-size="4.8" font-weight="bold" fill="#222" text-anchor="start" textLength="21" lengthAdjust="spacingAndGlyphs" stroke="#222" stroke-width="0.18" stroke-linejoin="round">R<tspan font-size="3.3" dy="1">wp</tspan><tspan dy="-1"> = 22.1</tspan></text><text x="184.6" y="36.4" font-family='"Liberation Serif", serif' font-size="4.8" font-weight="bold" fill="#222" text-anchor="start" textLength="17.6" lengthAdjust="spacingAndGlyphs" stroke="#222" stroke-width="0.18" stroke-linejoin="round">Textured</text><circle cx="271.3" cy="24.1" r="1.6" fill="#ff2020" /><text x="276.8" y="25.6" font-family='"Liberation Serif", serif' font-size="4.9" font-weight="bold" fill="#ff2020" text-anchor="start" textLength="10" lengthAdjust="spacingAndGlyphs" stroke="#ff2020" stroke-width="0.18" stroke-linejoin="round">Yobs</text><line x1="266.8" y1="29.1" x2="274.8" y2="29.1" stroke="#333" stroke-width="0.6" /><text x="276.8" y="30.7" font-family='"Liberation Serif", serif' font-size="4.9" font-weight="bold" fill="#333" text-anchor="start" textLength="10.4" lengthAdjust="spacingAndGlyphs" stroke="#333" stroke-width="0.18" stroke-linejoin="round">Ycalc</text><line x1="266.8" y1="34.9" x2="274.8" y2="34.9" stroke="#1030c0" stroke-width="0.6" /><text x="276.8" y="36.5" font-family='"Liberation Serif", serif' font-size="4.9" font-weight="bold" fill="#1030c0" text-anchor="start" textLength="22.3" lengthAdjust="spacingAndGlyphs" stroke="#1030c0" stroke-width="0.18" stroke-linejoin="round">Yobs-Ycalc</text><line x1="271.3" y1="38.6" x2="271.3" y2="41.6" stroke="#ff40c0" stroke-width="0.9" /><text x="276.8" y="41.6" font-family='"Liberation Serif", serif' font-size="4.9" font-weight="bold" fill="#ff40c0" text-anchor="start" font-style="italic" textLength="7.4" lengthAdjust="spacingAndGlyphs" stroke="#ff40c0" stroke-width="0.18" stroke-linejoin="round">Rhc</text><line x1="271.3" y1="44.2" x2="271.3" y2="47.2" stroke="#10a040" stroke-width="0.9" /><text x="276.8" y="47.2" font-family='"Liberation Serif", serif' font-size="4.9" font-weight="bold" fill="#10a040" text-anchor="start" font-style="italic" textLength="11.6" lengthAdjust="spacingAndGlyphs" stroke="#10a040" stroke-width="0.18" stroke-linejoin="round">Pm3m</text><text x="176.8" y="63.9" font-family='"Liberation Serif", serif' font-size="8.6" font-weight="bold" fill="#222" text-anchor="middle" transform="rotate(-90 176.8 63.9)" textLength="50.8" lengthAdjust="spacingAndGlyphs" stroke="#222" stroke-width="0.2" stroke-linejoin="round">Intensity (a.u)</text><text x="238.9" y="127" font-family='"Liberation Serif", serif' font-size="9.4" font-weight="bold" fill="#222" text-anchor="middle" textLength="31" lengthAdjust="spacingAndGlyphs" stroke="#222" stroke-width="0.2" stroke-linejoin="round">2θ (deg)</text><rect x="31" y="137.5" width="119.3" height="69" fill="url(#g3)" /><rect x="31" y="206" width="119.3" height="24.6" fill="#47cf3c" /><line x1="38.75" y1="207.7" x2="38.75" y2="209.7" stroke="#109040" stroke-width="1" /><line x1="67.98" y1="207.7" x2="67.98" y2="209.7" stroke="#109040" stroke-width="1" /><line x1="90.35" y1="207.7" x2="90.35" y2="209.7" stroke="#109040" stroke-width="1" /><line x1="110.04" y1="207.7" x2="110.04" y2="209.7" stroke="#109040" stroke-width="1" /><line x1="127.93" y1="207.7" x2="127.93" y2="209.7" stroke="#109040" stroke-width="1" /><line x1="144.34" y1="207.7" x2="144.34" y2="209.7" stroke="#109040" stroke-width="1" /><circle cx="38.75" cy="213.5" r="0.9" fill="#ff40c0" /><circle cx="67.98" cy="213.5" r="0.9" fill="#ff40c0" /><circle cx="86.18" cy="213.5" r="0.9" fill="#ff40c0" /><circle cx="90.35" cy="213.5" r="0.9" fill="#ff40c0" /><circle cx="110.04" cy="213.5" r="0.9" fill="#ff40c0" /><circle cx="122.26" cy="213.5" r="0.9" fill="#ff40c0" /><circle cx="127.93" cy="213.5" r="0.9" fill="#ff40c0" /><circle cx="144.34" cy="213.5" r="0.9" fill="#ff40c0" /><polyline points="31,222.3 31.5,222.3 31.99,222.3 32.49,222.3 32.99,222.3 33.49,222.3 33.98,222.3 34.48,222.3 34.98,222.3 35.47,222.3 35.97,222.3 36.47,222.3 36.97,222.3 37.46,222.3 37.96,222.3 38.46,222.3 38.95,222.3 39.45,222.3 39.95,222.3 40.44,222.3 40.94,222.3 41.44,222.3 41.94,222.3 42.43,222.3 42.93,222.3 43.43,222.3 43.92,222.3 44.42,222.3 44.92,222.3 45.42,222.3 45.91,222.3 46.41,222.3 46.91,222.3 47.4,222.3 47.9,222.3 48.4,222.3 48.9,222.3 49.39,222.3 49.89,222.3 50.39,222.3 50.88,222.3 51.38,222.3 51.88,222.3 52.37,222.3 52.87,222.3 53.37,222.3 53.87,222.3 54.36,222.3 54.86,222.3 55.36,222.3 55.85,222.3 56.35,222.3 56.85,222.3 57.35,222.3 57.84,222.3 58.34,222.3 58.84,222.3 59.33,222.3 59.83,222.3 60.33,222.3 60.83,222.3 61.32,222.3 61.82,222.3 62.32,222.3 62.81,222.3 63.31,222.3 63.81,222.31 64.3,222.32 64.8,222.3 65.3,222.21 65.8,221.94 66.29,221.49 66.79,221.1 67.29,221.19 67.78,221.91 68.28,222.87 68.78,223.48 69.28,223.44 69.77,223.02 70.27,222.59 70.77,222.36 71.26,222.29 71.76,222.29 72.26,222.29 72.75,222.3 73.25,222.3 73.75,222.3 74.25,222.3 74.74,222.3 75.24,222.3 75.74,222.3 76.23,222.3 76.73,222.3 77.23,222.3 77.73,222.3 78.22,222.3 78.72,222.3 79.22,222.3 79.71,222.3 80.21,222.3 80.71,222.3 81.21,222.3 81.7,222.3 82.2,222.3 82.7,222.3 83.19,222.3 83.69,222.3 84.19,222.3 84.69,222.3 85.18,222.3 85.68,222.3 86.18,222.3 86.67,222.3 87.17,222.3 87.67,222.3 88.16,222.3 88.66,222.3 89.16,222.3 89.66,222.3 90.15,222.3 90.65,222.3 91.15,222.3 91.64,222.3 92.14,222.3 92.64,222.3 93.14,222.3 93.63,222.3 94.13,222.3 94.63,222.3 95.12,222.3 95.62,222.3 96.12,222.3 96.62,222.3 97.11,222.3 97.61,222.3 98.11,222.3 98.6,222.3 99.1,222.3 99.6,222.3 100.09,222.3 100.59,222.3 101.09,222.3 101.59,222.3 102.08,222.3 102.58,222.3 103.08,222.3 103.57,222.3 104.07,222.3 104.57,222.3 105.07,222.3 105.56,222.31 106.06,222.32 106.56,222.33 107.05,222.27 107.55,222 108.05,221.37 108.55,220.56 109.04,220.14 109.54,220.75 110.04,222.3 110.53,223.85 111.03,224.46 111.53,224.04 112.02,223.23 112.52,222.6 113.02,222.33 113.52,222.27 114.01,222.28 114.51,222.29 115.01,222.3 115.5,222.3 116,222.3 116.5,222.3 117,222.3 117.49,222.3 117.99,222.3 118.49,222.3 118.98,222.3 119.48,222.3 119.98,222.3 120.48,222.3 120.97,222.3 121.47,222.3 121.97,222.3 122.46,222.3 122.96,222.3 123.46,222.3 123.95,222.3 124.45,222.3 124.95,222.3 125.45,222.3 125.94,222.3 126.44,222.3 126.94,222.3 127.43,222.3 127.93,222.3 128.43,222.3 128.93,222.3 129.42,222.3 129.92,222.3 130.42,222.3 130.91,222.3 131.41,222.3 131.91,222.3 132.41,222.3 132.9,222.3 133.4,222.3 133.9,222.3 134.39,222.3 134.89,222.3 135.39,222.3 135.88,222.3 136.38,222.3 136.88,222.3 137.38,222.3 137.87,222.3 138.37,222.3 138.87,222.3 139.36,222.3 139.86,222.3 140.36,222.31 140.86,222.32 141.35,222.28 141.85,222.13 142.35,221.77 142.84,221.3 143.34,221.06 143.84,221.41 144.34,222.3 144.83,223.19 145.33,223.54 145.83,223.3 146.32,222.83 146.82,222.47 147.32,222.32 147.81,222.28 148.31,222.29 148.81,222.3 149.31,222.3 149.8,222.3 150.3,222.3" fill="none" stroke="#2050c0" stroke-width="1.3" /><polyline points="31,204.46 31.2,204.46 31.4,204.46 31.6,204.46 31.8,204.46 31.99,204.45 32.19,204.45 32.39,204.45 32.59,204.45 32.79,204.44 32.99,204.44 33.19,204.44 33.39,204.44 33.58,204.43 33.78,204.43 33.98,204.42 34.18,204.42 34.38,204.41 34.58,204.41 34.78,204.4 34.98,204.39 35.18,204.39 35.37,204.38 35.57,204.37 35.77,204.36 35.97,204.34 36.17,204.33 36.37,204.31 36.57,204.29 36.77,204.27 36.97,204.24 37.16,204.21 37.36,204.16 37.56,204.11 37.76,204.03 37.96,203.91 38.16,203.69 38.36,203.31 38.56,202.7 38.75,201.8 38.95,200.63 39.15,199.35 39.35,198.23 39.55,197.57 39.75,197.57 39.95,198.23 40.15,199.35 40.35,200.63 40.54,201.79 40.74,202.7 40.94,203.31 41.14,203.69 41.34,203.91 41.54,204.03 41.74,204.11 41.94,204.16 42.13,204.2 42.33,204.23 42.53,204.26 42.73,204.28 42.93,204.3 43.13,204.32 43.33,204.34 43.53,204.35 43.73,204.36 43.92,204.37 44.12,204.38 44.32,204.39 44.52,204.39 44.72,204.4 44.92,204.4 45.12,204.41 45.32,204.41 45.51,204.42 45.71,204.42 45.91,204.42 46.11,204.43 46.31,204.43 46.51,204.43 46.71,204.43 46.91,204.44 47.11,204.44 47.3,204.44 47.5,204.44 47.7,204.44 47.9,204.44 48.1,204.44 48.3,204.45 48.5,204.45 48.7,204.45 48.9,204.45 49.09,204.45 49.29,204.45 49.49,204.45 49.69,204.45 49.89,204.45 50.09,204.45 50.29,204.45 50.49,204.45 50.68,204.45 50.88,204.45 51.08,204.45 51.28,204.45 51.48,204.45 51.68,204.45 51.88,204.45 52.08,204.45 52.28,204.45 52.47,204.45 52.67,204.45 52.87,204.45 53.07,204.45 53.27,204.44 53.47,204.44 53.67,204.44 53.87,204.44 54.06,204.44 54.26,204.44 54.46,204.44 54.66,204.44 54.86,204.44 55.06,204.44 55.26,204.43 55.46,204.43 55.66,204.43 55.85,204.43 56.05,204.43 56.25,204.43 56.45,204.42 56.65,204.42 56.85,204.42 57.05,204.42 57.25,204.41 57.44,204.41 57.64,204.41 57.84,204.41 58.04,204.4 58.24,204.4 58.44,204.4 58.64,204.39 58.84,204.39 59.04,204.38 59.23,204.38 59.43,204.37 59.63,204.37 59.83,204.36 60.03,204.36 60.23,204.35 60.43,204.34 60.63,204.34 60.83,204.33 61.02,204.32 61.22,204.31 61.42,204.3 61.62,204.29 61.82,204.28 62.02,204.26 62.22,204.25 62.42,204.23 62.61,204.22 62.81,204.2 63.01,204.17 63.21,204.15 63.41,204.12 63.61,204.09 63.81,204.06 64.01,204.02 64.21,203.98 64.4,203.92 64.6,203.87 64.8,203.8 65,203.72 65.2,203.63 65.4,203.52 65.6,203.39 65.8,203.24 65.99,203.05 66.19,202.82 66.39,202.53 66.59,202.14 66.79,201.53 66.99,200.42 67.19,198.17 67.39,193.82 67.59,186.49 67.78,176.48 67.98,166.15 68.18,159.42 68.38,159.42 68.58,166.15 68.78,176.48 68.98,186.49 69.18,193.82 69.37,198.17 69.57,200.42 69.77,201.53 69.97,202.13 70.17,202.53 70.37,202.82 70.57,203.05 70.77,203.24 70.97,203.39 71.16,203.52 71.36,203.63 71.56,203.72 71.76,203.8 71.96,203.86 72.16,203.92 72.36,203.97 72.56,204.02 72.75,204.06 72.95,204.09 73.15,204.12 73.35,204.15 73.55,204.17 73.75,204.19 73.95,204.21 74.15,204.23 74.35,204.25 74.54,204.26 74.74,204.27 74.94,204.28 75.14,204.3 75.34,204.31 75.54,204.32 75.74,204.32 75.94,204.33 76.14,204.34 76.33,204.35 76.53,204.35 76.73,204.36 76.93,204.36 77.13,204.37 77.33,204.37 77.53,204.38 77.73,204.38 77.92,204.38 78.12,204.39 78.32,204.39 78.52,204.39 78.72,204.4 78.92,204.4 79.12,204.4 79.32,204.4 79.52,204.41 79.71,204.41 79.91,204.41 80.11,204.41 80.31,204.41 80.51,204.41 80.71,204.41 80.91,204.42 81.11,204.42 81.3,204.42 81.5,204.42 81.7,204.42 81.9,204.42 82.1,204.42 82.3,204.42 82.5,204.42 82.7,204.42 82.9,204.42 83.09,204.42 83.29,204.42 83.49,204.42 83.69,204.42 83.89,204.41 84.09,204.41 84.29,204.41 84.49,204.41 84.69,204.41 84.88,204.41 85.08,204.4 85.28,204.4 85.48,204.4 85.68,204.39 85.88,204.39 86.08,204.38 86.28,204.38 86.47,204.37 86.67,204.36 86.87,204.36 87.07,204.35 87.27,204.34 87.47,204.33 87.67,204.31 87.87,204.3 88.07,204.28 88.26,204.26 88.46,204.23 88.66,204.2 88.86,204.16 89.06,204.12 89.26,204.06 89.46,203.96 89.66,203.79 89.85,203.51 90.05,203.02 90.25,202.27 90.45,201.22 90.65,199.97 90.85,198.74 91.05,197.81 91.25,197.47 91.45,197.81 91.64,198.74 91.84,199.97 92.04,201.22 92.24,202.27 92.44,203.02 92.64,203.51 92.84,203.8 93.04,203.96 93.23,204.06 93.43,204.12 93.63,204.17 93.83,204.2 94.03,204.23 94.23,204.26 94.43,204.28 94.63,204.3 94.83,204.31 95.02,204.33 95.22,204.34 95.42,204.35 95.62,204.36 95.82,204.37 96.02,204.37 96.22,204.38 96.42,204.39 96.62,204.39 96.81,204.4 97.01,204.4 97.21,204.4 97.41,204.41 97.61,204.41 97.81,204.41 98.01,204.41 98.21,204.42 98.4,204.42 98.6,204.42 98.8,204.42 99,204.42 99.2,204.42 99.4,204.42 99.6,204.42 99.8,204.42 100,204.42 100.19,204.42 100.39,204.42 100.59,204.42 100.79,204.42 100.99,204.42 101.19,204.42 101.39,204.42 101.59,204.42 101.78,204.42 101.98,204.42 102.18,204.42 102.38,204.41 102.58,204.41 102.78,204.41 102.98,204.41 103.18,204.4 103.38,204.4 103.57,204.4 103.77,204.39 103.97,204.39 104.17,204.39 104.37,204.38 104.57,204.38 104.77,204.37 104.97,204.36 105.16,204.36 105.36,204.35 105.56,204.34 105.76,204.33 105.96,204.32 106.16,204.3 106.36,204.29 106.56,204.27 106.76,204.26 106.95,204.24 107.15,204.21 107.35,204.18 107.55,204.15 107.75,204.11 107.95,204.07 108.15,204.02 108.35,203.96 108.55,203.89 108.74,203.8 108.94,203.68 109.14,203.53 109.34,203.27 109.54,202.81 109.74,201.95 109.94,200.44 110.14,198.09 110.33,194.97 110.53,191.63 110.73,188.99 110.93,187.98 111.13,188.99 111.33,191.63 111.53,194.97 111.73,198.09 111.93,200.44 112.12,201.95 112.32,202.81 112.52,203.27 112.72,203.53 112.92,203.69 113.12,203.8 113.32,203.89 113.52,203.96 113.71,204.02 113.91,204.07 114.11,204.12 114.31,204.15 114.51,204.19 114.71,204.21 114.91,204.24 115.11,204.26 115.31,204.28 115.5,204.29 115.7,204.31 115.9,204.32 116.1,204.33 116.3,204.34 116.5,204.35 116.7,204.36 116.9,204.37 117.09,204.37 117.29,204.38 117.49,204.39 117.69,204.39 117.89,204.4 118.09,204.4 118.29,204.4 118.49,204.41 118.69,204.41 118.88,204.41 119.08,204.42 119.28,204.42 119.48,204.42 119.68,204.42 119.88,204.43 120.08,204.43 120.28,204.43 120.48,204.43 120.67,204.43 120.87,204.43 121.07,204.43 121.27,204.43 121.47,204.44 121.67,204.44 121.87,204.44 122.07,204.44 122.26,204.44 122.46,204.44 122.66,204.44 122.86,204.44 123.06,204.44 123.26,204.43 123.46,204.43 123.66,204.43 123.86,204.43 124.05,204.43 124.25,204.43 124.45,204.42 124.65,204.42 124.85,204.42 125.05,204.41 125.25,204.41 125.45,204.4 125.64,204.39 125.84,204.39 126.04,204.38 126.24,204.36 126.44,204.34 126.64,204.32 126.84,204.27 127.04,204.19 127.24,204.07 127.43,203.87 127.63,203.61 127.83,203.28 128.03,202.94 128.23,202.66 128.43,202.49 128.63,202.49 128.83,202.66 129.02,202.94 129.22,203.28 129.42,203.61 129.62,203.87 129.82,204.07 130.02,204.19 130.22,204.27 130.42,204.32 130.62,204.35 130.81,204.36 131.01,204.38 131.21,204.39 131.41,204.39 131.61,204.4 131.81,204.41 132.01,204.41 132.21,204.42 132.41,204.42 132.6,204.42 132.8,204.43 133,204.43 133.2,204.43 133.4,204.43 133.6,204.43 133.8,204.43 134,204.43 134.19,204.44 134.39,204.44 134.59,204.44 134.79,204.44 134.99,204.44 135.19,204.43 135.39,204.43 135.59,204.43 135.79,204.43 135.98,204.43 136.18,204.43 136.38,204.43 136.58,204.43 136.78,204.42 136.98,204.42 137.18,204.42 137.38,204.42 137.57,204.41 137.77,204.41 137.97,204.41 138.17,204.4 138.37,204.4 138.57,204.39 138.77,204.39 138.97,204.38 139.17,204.37 139.36,204.37 139.56,204.36 139.76,204.35 139.96,204.34 140.16,204.32 140.36,204.31 140.56,204.3 140.76,204.28 140.95,204.26 141.15,204.23 141.35,204.21 141.55,204.18 141.75,204.14 141.95,204.1 142.15,204.04 142.35,203.98 142.55,203.9 142.74,203.78 142.94,203.58 143.14,203.24 143.34,202.64 143.54,201.68 143.74,200.26 143.94,198.43 144.14,196.42 144.34,194.66 144.53,193.63 144.73,193.63 144.93,194.67 145.13,196.42 145.33,198.43 145.53,200.26 145.73,201.68 145.93,202.65 146.12,203.24 146.32,203.58 146.52,203.78 146.72,203.9 146.92,203.98 147.12,204.05 147.32,204.1 147.52,204.14 147.72,204.18 147.91,204.21 148.11,204.24 148.31,204.26 148.51,204.28 148.71,204.3 148.91,204.32 149.11,204.33 149.31,204.34 149.5,204.35 149.7,204.36 149.9,204.37 150.1,204.38 150.3,204.39" fill="none" stroke="#ff1a1a" stroke-width="3.7" stroke-linejoin="round"/><rect x="31" y="137.5" width="119.3" height="93.1" fill="none" stroke="#555" stroke-width="0.9"/><text x="31" y="238.3" font-family='"Liberation Serif", serif' font-size="5.6" font-weight="bold" fill="#222" text-anchor="middle" stroke="#222" stroke-width="0.2" stroke-linejoin="round">20</text><line x1="31" y1="230.6" x2="31" y2="229.1" stroke="#555" stroke-width="0.7" /><text x="60.83" y="238.3" font-family='"Liberation Serif", serif' font-size="5.6" font-weight="bold" fill="#222" text-anchor="middle" stroke="#222" stroke-width="0.2" stroke-linejoin="round">30</text><line x1="60.83" y1="230.6" x2="60.83" y2="229.1" stroke="#555" stroke-width="0.7" /><text x="90.65" y="238.3" font-family='"Liberation Serif", serif' font-size="5.6" font-weight="bold" fill="#222" text-anchor="middle" stroke="#222" stroke-width="0.2" stroke-linejoin="round">40</text><line x1="90.65" y1="230.6" x2="90.65" y2="229.1" stroke="#555" stroke-width="0.7" /><text x="120.48" y="238.3" font-family='"Liberation Serif", serif' font-size="5.6" font-weight="bold" fill="#222" text-anchor="middle" stroke="#222" stroke-width="0.2" stroke-linejoin="round">50</text><line x1="120.48" y1="230.6" x2="120.48" y2="229.1" stroke="#555" stroke-width="0.7" /><text x="150.3" y="238.3" font-family='"Liberation Serif", serif' font-size="5.6" font-weight="bold" fill="#222" text-anchor="middle" stroke="#222" stroke-width="0.2" stroke-linejoin="round">60</text><line x1="150.3" y1="230.6" x2="150.3" y2="229.1" stroke="#555" stroke-width="0.7" /><text x="34.6" y="142.9" font-family='"Liberation Serif", serif' font-size="4.8" font-weight="bold" fill="#222" text-anchor="start" textLength="21" lengthAdjust="spacingAndGlyphs" stroke="#222" stroke-width="0.18" stroke-linejoin="round">χ² = 2.81</text><text x="34.6" y="148.2" font-family='"Liberation Serif", serif' font-size="4.8" font-weight="bold" fill="#222" text-anchor="start" textLength="21" lengthAdjust="spacingAndGlyphs" stroke="#222" stroke-width="0.18" stroke-linejoin="round">R<tspan font-size="3.3" dy="1">wp</tspan><tspan dy="-1"> = 22.5</tspan></text><text x="34.6" y="155.5" font-family='"Liberation Serif", serif' font-size="4.8" font-weight="bold" fill="#222" text-anchor="start" textLength="19.6" lengthAdjust="spacingAndGlyphs" stroke="#222" stroke-width="0.18" stroke-linejoin="round">Composite</text><circle cx="120.5" cy="141.5" r="1.6" fill="#ff2020" /><text x="126" y="143" font-family='"Liberation Serif", serif' font-size="4.9" font-weight="bold" fill="#ff2020" text-anchor="start" textLength="10" lengthAdjust="spacingAndGlyphs" stroke="#ff2020" stroke-width="0.18" stroke-linejoin="round">Yobs</text><line x1="116" y1="146.8" x2="124" y2="146.8" stroke="#333" stroke-width="0.6" /><text x="126" y="148.4" font-family='"Liberation Serif", serif' font-size="4.9" font-weight="bold" fill="#333" text-anchor="start" textLength="10.4" lengthAdjust="spacingAndGlyphs" stroke="#333" stroke-width="0.18" stroke-linejoin="round">Ycalc</text><line x1="116" y1="152.4" x2="124" y2="152.4" stroke="#1030c0" stroke-width="0.6" /><text x="126" y="154" font-family='"Liberation Serif", serif' font-size="4.9" font-weight="bold" fill="#1030c0" text-anchor="start" textLength="22.3" lengthAdjust="spacingAndGlyphs" stroke="#1030c0" stroke-width="0.18" stroke-linejoin="round">Yobs-Ycalc</text><line x1="120.5" y1="156.3" x2="120.5" y2="159.3" stroke="#ff40c0" stroke-width="0.9" /><text x="126" y="159.3" font-family='"Liberation Serif", serif' font-size="4.9" font-weight="bold" fill="#ff40c0" text-anchor="start" font-style="italic" textLength="7.4" lengthAdjust="spacingAndGlyphs" stroke="#ff40c0" stroke-width="0.18" stroke-linejoin="round">Rhc</text><line x1="120.5" y1="162" x2="120.5" y2="165" stroke="#10a040" stroke-width="0.9" /><text x="126" y="165" font-family='"Liberation Serif", serif' font-size="4.9" font-weight="bold" fill="#10a040" text-anchor="start" font-style="italic" textLength="11.6" lengthAdjust="spacingAndGlyphs" stroke="#10a040" stroke-width="0.18" stroke-linejoin="round">Pm3m</text><text x="26.8" y="178.6" font-family='"Liberation Serif", serif' font-size="8.6" font-weight="bold" fill="#222" text-anchor="middle" transform="rotate(-90 26.8 178.6)" textLength="50.8" lengthAdjust="spacingAndGlyphs" stroke="#222" stroke-width="0.2" stroke-linejoin="round">Intensity (a.u)</text><text x="87.7" y="248" font-family='"Liberation Serif", serif' font-size="9.4" font-weight="bold" fill="#222" text-anchor="middle" textLength="31" lengthAdjust="spacingAndGlyphs" stroke="#222" stroke-width="0.2" stroke-linejoin="round">2θ (deg)</text><rect x="180" y="144" width="132.7" height="86.4" fill="url(#g4)" /><rect x="180" y="144" width="132.7" height="86.4" fill="none" stroke="#444" stroke-width="0.9"/><text x="175.8" y="146.5" font-family='"Liberation Serif", serif' font-size="5.7" font-weight="bold" fill="#222" text-anchor="end" textLength="12.9" lengthAdjust="spacingAndGlyphs" stroke="#222" stroke-width="0.2" stroke-linejoin="round">5.524</text><line x1="178.2" y1="144.5" x2="180" y2="144.5" stroke="#444" stroke-width="0.6" /><text x="175.8" y="156.6" font-family='"Liberation Serif", serif' font-size="5.7" font-weight="bold" fill="#222" text-anchor="end" textLength="12.9" lengthAdjust="spacingAndGlyphs" stroke="#222" stroke-width="0.2" stroke-linejoin="round">5.520</text><line x1="178.2" y1="154.6" x2="180" y2="154.6" stroke="#444" stroke-width="0.6" /><text x="175.8" y="166.7" font-family='"Liberation Serif", serif' font-size="5.7" font-weight="bold" fill="#222" text-anchor="end" textLength="12.9" lengthAdjust="spacingAndGlyphs" stroke="#222" stroke-width="0.2" stroke-linejoin="round">5.516</text><line x1="178.2" y1="164.7" x2="180" y2="164.7" stroke="#444" stroke-width="0.6" /><text x="175.8" y="176.8" font-family='"Liberation Serif", serif' font-size="5.7" font-weight="bold" fill="#222" text-anchor="end" textLength="12.9" lengthAdjust="spacingAndGlyphs" stroke="#222" stroke-width="0.2" stroke-linejoin="round">5.512</text><line x1="178.2" y1="174.8" x2="180" y2="174.8" stroke="#444" stroke-width="0.6" /><text x="175.8" y="186.9" font-family='"Liberation Serif", serif' font-size="5.7" font-weight="bold" fill="#222" text-anchor="end" textLength="12.9" lengthAdjust="spacingAndGlyphs" stroke="#222" stroke-width="0.2" stroke-linejoin="round">5.508</text><line x1="178.2" y1="184.9" x2="180" y2="184.9" stroke="#444" stroke-width="0.6" /><text x="175.8" y="197" font-family='"Liberation Serif", serif' font-size="5.7" font-weight="bold" fill="#222" text-anchor="end" textLength="12.9" lengthAdjust="spacingAndGlyphs" stroke="#222" stroke-width="0.2" stroke-linejoin="round">5.504</text><line x1="178.2" y1="195" x2="180" y2="195" stroke="#444" stroke-width="0.6" /><text x="175.8" y="207.1" font-family='"Liberation Serif", serif' font-size="5.7" font-weight="bold" fill="#222" text-anchor="end" textLength="12.9" lengthAdjust="spacingAndGlyphs" stroke="#222" stroke-width="0.2" stroke-linejoin="round">5.500</text><line x1="178.2" y1="205.1" x2="180" y2="205.1" stroke="#444" stroke-width="0.6" /><text x="175.8" y="217.2" font-family='"Liberation Serif", serif' font-size="5.7" font-weight="bold" fill="#222" text-anchor="end" textLength="12.9" lengthAdjust="spacingAndGlyphs" stroke="#222" stroke-width="0.2" stroke-linejoin="round">5.496</text><line x1="178.2" y1="215.2" x2="180" y2="215.2" stroke="#444" stroke-width="0.6" /><text x="175.8" y="227.3" font-family='"Liberation Serif", serif' font-size="5.7" font-weight="bold" fill="#222" text-anchor="end" textLength="12.9" lengthAdjust="spacingAndGlyphs" stroke="#222" stroke-width="0.2" stroke-linejoin="round">5.492</text><line x1="178.2" y1="225.3" x2="180" y2="225.3" stroke="#444" stroke-width="0.6" /><text x="315.6" y="146" font-family='"Liberation Serif", serif' font-size="5.5" font-weight="bold" fill="#ff2020" text-anchor="start" textLength="12.4" lengthAdjust="spacingAndGlyphs" stroke="#ff2020" stroke-width="0.2" stroke-linejoin="round">170.0</text><line x1="312.7" y1="144" x2="314.5" y2="144" stroke="#ff2020" stroke-width="0.6" /><text x="315.6" y="156.8" font-family='"Liberation Serif", serif' font-size="5.5" font-weight="bold" fill="#ff2020" text-anchor="start" textLength="12.4" lengthAdjust="spacingAndGlyphs" stroke="#ff2020" stroke-width="0.2" stroke-linejoin="round">169.5</text><line x1="312.7" y1="154.8" x2="314.5" y2="154.8" stroke="#ff2020" stroke-width="0.6" /><text x="315.6" y="167.6" font-family='"Liberation Serif", serif' font-size="5.5" font-weight="bold" fill="#ff2020" text-anchor="start" textLength="12.4" lengthAdjust="spacingAndGlyphs" stroke="#ff2020" stroke-width="0.2" stroke-linejoin="round">169.0</text><line x1="312.7" y1="165.6" x2="314.5" y2="165.6" stroke="#ff2020" stroke-width="0.6" /><text x="315.6" y="178.4" font-family='"Liberation Serif", serif' font-size="5.5" font-weight="bold" fill="#ff2020" text-anchor="start" textLength="12.4" lengthAdjust="spacingAndGlyphs" stroke="#ff2020" stroke-width="0.2" stroke-linejoin="round">168.5</text><line x1="312.7" y1="176.4" x2="314.5" y2="176.4" stroke="#ff2020" stroke-width="0.6" /><text x="315.6" y="189.2" font-family='"Liberation Serif", serif' font-size="5.5" font-weight="bold" fill="#ff2020" text-anchor="start" textLength="12.4" lengthAdjust="spacingAndGlyphs" stroke="#ff2020" stroke-width="0.2" stroke-linejoin="round">168.0</text><line x1="312.7" y1="187.2" x2="314.5" y2="187.2" stroke="#ff2020" stroke-width="0.6" /><text x="315.6" y="200" font-family='"Liberation Serif", serif' font-size="5.5" font-weight="bold" fill="#ff2020" text-anchor="start" textLength="12.4" lengthAdjust="spacingAndGlyphs" stroke="#ff2020" stroke-width="0.2" stroke-linejoin="round">167.5</text><line x1="312.7" y1="198" x2="314.5" y2="198" stroke="#ff2020" stroke-width="0.6" /><text x="315.6" y="210.8" font-family='"Liberation Serif", serif' font-size="5.5" font-weight="bold" fill="#ff2020" text-anchor="start" textLength="12.4" lengthAdjust="spacingAndGlyphs" stroke="#ff2020" stroke-width="0.2" stroke-linejoin="round">167.0</text><line x1="312.7" y1="208.8" x2="314.5" y2="208.8" stroke="#ff2020" stroke-width="0.6" /><text x="315.6" y="221.6" font-family='"Liberation Serif", serif' font-size="5.5" font-weight="bold" fill="#ff2020" text-anchor="start" textLength="12.4" lengthAdjust="spacingAndGlyphs" stroke="#ff2020" stroke-width="0.2" stroke-linejoin="round">166.5</text><line x1="312.7" y1="219.6" x2="314.5" y2="219.6" stroke="#ff2020" stroke-width="0.6" /><text x="315.6" y="232.4" font-family='"Liberation Serif", serif' font-size="5.5" font-weight="bold" fill="#ff2020" text-anchor="start" textLength="12.4" lengthAdjust="spacingAndGlyphs" stroke="#ff2020" stroke-width="0.2" stroke-linejoin="round">166.0</text><line x1="312.7" y1="230.4" x2="314.5" y2="230.4" stroke="#ff2020" stroke-width="0.6" /><line x1="312.7" y1="144" x2="312.7" y2="230.4" stroke="#ff2020" stroke-width="1.0" /><line x1="340" y1="144" x2="340" y2="230.4" stroke="#1020d0" stroke-width="1.0" /><text x="341.8" y="146" font-family='"Liberation Serif", serif' font-size="5.5" font-weight="bold" fill="#1020d0" text-anchor="start" textLength="12.8" lengthAdjust="spacingAndGlyphs" stroke="#1020d0" stroke-width="0.2" stroke-linejoin="round">0.035</text><line x1="338.5" y1="144" x2="340" y2="144" stroke="#1020d0" stroke-width="0.6" /><text x="341.8" y="160.4" font-family='"Liberation Serif", serif' font-size="5.5" font-weight="bold" fill="#1020d0" text-anchor="start" textLength="12.8" lengthAdjust="spacingAndGlyphs" stroke="#1020d0" stroke-width="0.2" stroke-linejoin="round">0.030</text><line x1="338.5" y1="158.4" x2="340" y2="158.4" stroke="#1020d0" stroke-width="0.6" /><text x="341.8" y="174.8" font-family='"Liberation Serif", serif' font-size="5.5" font-weight="bold" fill="#1020d0" text-anchor="start" textLength="12.8" lengthAdjust="spacingAndGlyphs" stroke="#1020d0" stroke-width="0.2" stroke-linejoin="round">0.025</text><line x1="338.5" y1="172.8" x2="340" y2="172.8" stroke="#1020d0" stroke-width="0.6" /><text x="341.8" y="189.2" font-family='"Liberation Serif", serif' font-size="5.5" font-weight="bold" fill="#1020d0" text-anchor="start" textLength="12.8" lengthAdjust="spacingAndGlyphs" stroke="#1020d0" stroke-width="0.2" stroke-linejoin="round">0.020</text><line x1="338.5" y1="187.2" x2="340" y2="187.2" stroke="#1020d0" stroke-width="0.6" /><text x="341.8" y="203.6" font-family='"Liberation Serif", serif' font-size="5.5" font-weight="bold" fill="#1020d0" text-anchor="start" textLength="12.8" lengthAdjust="spacingAndGlyphs" stroke="#1020d0" stroke-width="0.2" stroke-linejoin="round">0.015</text><line x1="338.5" y1="201.6" x2="340" y2="201.6" stroke="#1020d0" stroke-width="0.6" /><text x="341.8" y="218" font-family='"Liberation Serif", serif' font-size="5.5" font-weight="bold" fill="#1020d0" text-anchor="start" textLength="12.8" lengthAdjust="spacingAndGlyphs" stroke="#1020d0" stroke-width="0.2" stroke-linejoin="round">0.010</text><line x1="338.5" y1="216" x2="340" y2="216" stroke="#1020d0" stroke-width="0.6" /><text x="341.8" y="232.4" font-family='"Liberation Serif", serif' font-size="5.5" font-weight="bold" fill="#1020d0" text-anchor="start" textLength="12.8" lengthAdjust="spacingAndGlyphs" stroke="#1020d0" stroke-width="0.2" stroke-linejoin="round">0.005</text><line x1="338.5" y1="230.4" x2="340" y2="230.4" stroke="#1020d0" stroke-width="0.6" /><text x="159.4" y="185.5" font-family='"Liberation Serif", serif' font-size="6.3" font-weight="bold" fill="#222" text-anchor="middle" transform="rotate(-90 159.4 185.5)" textLength="78" lengthAdjust="spacingAndGlyphs" stroke="#222" stroke-width="0.2" stroke-linejoin="round">Lattice Constant (a<tspan font-size="4" dy="1">R</tspan><tspan dy="-1">/a</tspan><tspan font-size="4" dy="1">t</tspan><tspan dy="-1">(Å))</tspan></text><text x="336.2" y="184.5" font-family='"Liberation Serif", serif' font-size="6.3" font-weight="bold" fill="#ff2020" text-anchor="middle" transform="rotate(-90 336.2 184.5)" textLength="61" lengthAdjust="spacingAndGlyphs" stroke="#ff2020" stroke-width="0.2" stroke-linejoin="round">Unit Cell Volume (Å<tspan font-size="4" dy="-2">3</tspan><tspan dy="2">)</tspan></text><text x="366.2" y="188" font-family='"Liberation Serif", serif' font-size="6.3" font-weight="bold" fill="#1020d0" text-anchor="middle" transform="rotate(-90 366.2 188)" textLength="88" lengthAdjust="spacingAndGlyphs" stroke="#1020d0" stroke-width="0.2" stroke-linejoin="round">Rhombohedral Distortion(deg.)</text><polyline points="201.4,194.7 245.6,197.3 289.7,151.2" fill="none" stroke="#999" stroke-width="0.5" /><polyline points="201.4,219.2 245.6,210 289.7,156" fill="none" stroke="#2040e0" stroke-width="0.8" /><polyline points="201.4,214 246,216.3 290.5,180.2" fill="none" stroke="#ff8080" stroke-width="0.6" stroke-dasharray="1 1"/><circle cx="201.4" cy="194.7" r="3.1" fill="#111" /><circle cx="200.5" cy="193.7" r="0.9" fill="#aaa" /><circle cx="245.6" cy="197.3" r="3.1" fill="#111" /><circle cx="244.7" cy="196.3" r="0.9" fill="#aaa" /><circle cx="289.7" cy="151.2" r="3.1" fill="#111" /><circle cx="288.8" cy="150.2" r="0.9" fill="#aaa" /><polygon points="199,211 199,217 204.6,214" fill="#ff7070" stroke="#ff2020" stroke-width="1.2"/><polygon points="243.6,213.3 243.6,219.3 249.2,216.3" fill="#ff7070" stroke="#ff2020" stroke-width="1.2"/><polygon points="288.1,177.2 288.1,183.2 293.7,180.2" fill="#ff7070" stroke="#ff2020" stroke-width="1.2"/><circle cx="201.4" cy="219.2" r="2.5" fill="none" stroke="#1030e0" stroke-width="1.2"/><circle cx="201.4" cy="219.2" r="0.8" fill="#1030e0" /><circle cx="245.6" cy="210" r="2.5" fill="none" stroke="#1030e0" stroke-width="1.2"/><circle cx="245.6" cy="210" r="0.8" fill="#1030e0" /><circle cx="289.7" cy="156" r="2.5" fill="none" stroke="#1030e0" stroke-width="1.2"/><circle cx="289.7" cy="156" r="0.8" fill="#1030e0" /><text x="201.4" y="237.3" font-family='"Liberation Serif", serif' font-size="5.4" font-weight="bold" fill="#222" text-anchor="middle" stroke="#222" stroke-width="0.18" stroke-linejoin="round">BNT-BZ (N.T)</text><text x="245.6" y="237.3" font-family='"Liberation Serif", serif' font-size="5.4" font-weight="bold" fill="#222" text-anchor="middle" stroke="#222" stroke-width="0.18" stroke-linejoin="round">BNT-BZ (C)</text><text x="289.7" y="237.3" font-family='"Liberation Serif", serif' font-size="5.4" font-weight="bold" fill="#222" text-anchor="middle" stroke="#222" stroke-width="0.18" stroke-linejoin="round">BNT-BZ(T)</text><text x="246" y="246.8" font-family='"Liberation Serif", serif' font-size="8.2" font-weight="bold" fill="#222" text-anchor="middle" textLength="48" lengthAdjust="spacingAndGlyphs" stroke="#222" stroke-width="0.2" stroke-linejoin="round">Compositions</text><g clip-path="url(#cpteal)"><g transform="rotate(-35 392 41.5)"><rect x="320" y="-20" width="145" height="125" fill="#888" filter="url(#f1)" /></g></g><rect x="443" y="12" width="91.5" height="59.5" fill="#888" filter="url(#f2)" /><rect x="347" y="76" width="91.5" height="60" fill="#888" filter="url(#f3)" /><ellipse cx="390.4" cy="107.5" rx="2.7" ry="2.5" fill="#caa886" opacity="0.85"/><ellipse cx="390.4" cy="107.5" rx="1.6" ry="1.4" fill="#2a1408"/><ellipse cx="397" cy="117.3" rx="2.3" ry="3.5" fill="#caa886" opacity="0.85"/><ellipse cx="397" cy="117.3" rx="1.2" ry="2.4" fill="#2a1408"/><ellipse cx="411" cy="116.2" rx="2.3" ry="3.7" fill="#caa886" opacity="0.85"/><ellipse cx="411" cy="116.2" rx="1.2" ry="2.6" fill="#2a1408"/><ellipse cx="419.8" cy="98.8" rx="2.6" ry="2.4000000000000004" fill="#caa886" opacity="0.85"/><ellipse cx="419.8" cy="98.8" rx="1.5" ry="1.3" fill="#2a1408"/><ellipse cx="356.6" cy="111.9" rx="2.6" ry="2.3" fill="#caa886" opacity="0.85"/><ellipse cx="356.6" cy="111.9" rx="1.5" ry="1.2" fill="#2a1408"/><ellipse cx="367.5" cy="111.9" rx="2.5" ry="2.3" fill="#caa886" opacity="0.85"/><ellipse cx="367.5" cy="111.9" rx="1.4" ry="1.2" fill="#2a1408"/><ellipse cx="374" cy="122.8" rx="2.7" ry="2.5" fill="#caa886" opacity="0.85"/><ellipse cx="374" cy="122.8" rx="1.6" ry="1.4" fill="#2a1408"/><ellipse cx="382.8" cy="118.4" rx="2.4000000000000004" ry="2.4000000000000004" fill="#caa886" opacity="0.85"/><ellipse cx="382.8" cy="118.4" rx="1.3" ry="1.3" fill="#2a1408"/><ellipse cx="387" cy="129.3" rx="2.6" ry="2.3" fill="#caa886" opacity="0.85"/><ellipse cx="387" cy="129.3" rx="1.5" ry="1.2" fill="#2a1408"/><ellipse cx="403.5" cy="128.2" rx="2.5" ry="2.4000000000000004" fill="#caa886" opacity="0.85"/><ellipse cx="403.5" cy="128.2" rx="1.4" ry="1.3" fill="#2a1408"/><ellipse cx="413.3" cy="128.2" rx="2.4000000000000004" ry="2.3" fill="#caa886" opacity="0.85"/><ellipse cx="413.3" cy="128.2" rx="1.3" ry="1.2" fill="#2a1408"/><ellipse cx="425.3" cy="129.3" rx="2.6" ry="2.4000000000000004" fill="#caa886" opacity="0.85"/><ellipse cx="425.3" cy="129.3" rx="1.5" ry="1.3" fill="#2a1408"/><ellipse cx="430.7" cy="108.6" rx="2.4000000000000004" ry="2.4000000000000004" fill="#caa886" opacity="0.85"/><ellipse cx="430.7" cy="108.6" rx="1.3" ry="1.3" fill="#2a1408"/><ellipse cx="431.8" cy="117.3" rx="2.4000000000000004" ry="2.4000000000000004" fill="#caa886" opacity="0.85"/><ellipse cx="431.8" cy="117.3" rx="1.3" ry="1.3" fill="#2a1408"/><ellipse cx="364.2" cy="130.4" rx="2.7" ry="2.4000000000000004" fill="#caa886" opacity="0.85"/><ellipse cx="364.2" cy="130.4" rx="1.6" ry="1.3" fill="#2a1408"/><ellipse cx="350" cy="122.8" rx="2.4000000000000004" ry="2.3" fill="#caa886" opacity="0.85"/><ellipse cx="350" cy="122.8" rx="1.3" ry="1.2" fill="#2a1408"/><ellipse cx="353.3" cy="132.6" rx="2.5" ry="2.2" fill="#caa886" opacity="0.85"/><ellipse cx="353.3" cy="132.6" rx="1.4" ry="1.1" fill="#2a1408"/><ellipse cx="421" cy="122.8" rx="2.5" ry="2.4000000000000004" fill="#caa886" opacity="0.85"/><ellipse cx="421" cy="122.8" rx="1.4" ry="1.3" fill="#2a1408"/><ellipse cx="434" cy="90" rx="2.3" ry="2.3" fill="#caa886" opacity="0.85"/><ellipse cx="434" cy="90" rx="1.2" ry="1.2" fill="#2a1408"/><ellipse cx="427.5" cy="81.3" rx="2.4000000000000004" ry="2.3" fill="#caa886" opacity="0.85"/><ellipse cx="427.5" cy="81.3" rx="1.3" ry="1.2" fill="#2a1408"/><rect x="443" y="75" width="92.5" height="60.5" fill="#888" filter="url(#f4)" /><circle cx="507" cy="77" r="2.2" fill="#d8b890" opacity="0.8"/><circle cx="507" cy="77" r="1.4" fill="#1e0e04"/><circle cx="512" cy="86" r="2.2" fill="#d8b890" opacity="0.8"/><circle cx="512" cy="86" r="1.4" fill="#1e0e04"/><circle cx="460" cy="100" r="2.2" fill="#d8b890" opacity="0.8"/><circle cx="460" cy="100" r="1.4" fill="#1e0e04"/><circle cx="493" cy="131" r="2.2" fill="#d8b890" opacity="0.8"/><circle cx="493" cy="131" r="1.4" fill="#1e0e04"/><circle cx="513" cy="129" r="2.2" fill="#d8b890" opacity="0.8"/><circle cx="513" cy="129" r="1.4" fill="#1e0e04"/><circle cx="527" cy="122" r="2.2" fill="#d8b890" opacity="0.8"/><circle cx="527" cy="122" r="1.4" fill="#1e0e04"/><text x="332.5" y="26.5" font-family='"Liberation Sans", sans-serif' font-size="12.2" font-weight="normal" fill="#222" text-anchor="start" textLength="13" lengthAdjust="spacingAndGlyphs">(b)</text><text x="347.3" y="24.7" font-family='"Liberation Sans", sans-serif' font-size="10.6" font-weight="normal" fill="#ff2424" text-anchor="start" textLength="60" lengthAdjust="spacingAndGlyphs">non-textured</text><text x="445" y="23.5" font-family='"Liberation Sans", sans-serif' font-size="10.6" font-weight="normal" fill="#ff2020" text-anchor="start" textLength="38.5" lengthAdjust="spacingAndGlyphs">textured</text><text x="348.5" y="89.3" font-family='"Liberation Sans", sans-serif' font-size="10.6" font-weight="normal" fill="#ff2424" text-anchor="start" textLength="62.5" lengthAdjust="spacingAndGlyphs">cross-section</text><text x="350.7" y="99.8" font-family='"Liberation Sans", sans-serif' font-size="10.6" font-weight="normal" fill="#ff2424" text-anchor="start" textLength="52.8" lengthAdjust="spacingAndGlyphs">non-texture</text><text x="445" y="88.3" font-family='"Liberation Sans", sans-serif' font-size="10.6" font-weight="normal" fill="#ff2020" text-anchor="start" textLength="63.5" lengthAdjust="spacingAndGlyphs">cross-section</text><text x="455" y="102.3" font-family='"Liberation Sans", sans-serif' font-size="10.6" font-weight="normal" fill="#ff2020" text-anchor="start" textLength="39" lengthAdjust="spacingAndGlyphs">textured</text><rect x="371" y="141" width="170" height="150" fill="#fbfbfb" /><rect x="396.2" y="153.1" width="136.5" height="110.6" fill="#fdfdfd" stroke="#555" stroke-width="0.8"/><line x1="464.45" y1="153.1" x2="464.45" y2="263.7" stroke="#777" stroke-width="0.8" /><line x1="396.2" y1="238.2" x2="532.7" y2="238.2" stroke="#777" stroke-width="0.8" /><text x="394.2" y="155" font-family='"Liberation Serif", serif' font-size="6.2" font-weight="bold" fill="#222" text-anchor="end" stroke="#222" stroke-width="0.2" stroke-linejoin="round">0.4</text><line x1="396.2" y1="153" x2="398" y2="153" stroke="#555" stroke-width="0.6" /><text x="394.2" y="176.3" font-family='"Liberation Serif", serif' font-size="6.2" font-weight="bold" fill="#222" text-anchor="end" stroke="#222" stroke-width="0.2" stroke-linejoin="round">0.3</text><line x1="396.2" y1="174.3" x2="398" y2="174.3" stroke="#555" stroke-width="0.6" /><text x="394.2" y="197.6" font-family='"Liberation Serif", serif' font-size="6.2" font-weight="bold" fill="#222" text-anchor="end" stroke="#222" stroke-width="0.2" stroke-linejoin="round">0.2</text><line x1="396.2" y1="195.6" x2="398" y2="195.6" stroke="#555" stroke-width="0.6" /><text x="394.2" y="218.9" font-family='"Liberation Serif", serif' font-size="6.2" font-weight="bold" fill="#222" text-anchor="end" stroke="#222" stroke-width="0.2" stroke-linejoin="round">0.1</text><line x1="396.2" y1="216.9" x2="398" y2="216.9" stroke="#555" stroke-width="0.6" /><text x="394.2" y="240.2" font-family='"Liberation Serif", serif' font-size="6.2" font-weight="bold" fill="#222" text-anchor="end" stroke="#222" stroke-width="0.2" stroke-linejoin="round">0.0</text><line x1="396.2" y1="238.2" x2="398" y2="238.2" stroke="#555" stroke-width="0.6" /><text x="394.2" y="261.5" font-family='"Liberation Serif", serif' font-size="6.2" font-weight="bold" fill="#222" text-anchor="end" stroke="#222" stroke-width="0.2" stroke-linejoin="round">-0.1</text><line x1="396.2" y1="259.5" x2="398" y2="259.5" stroke="#555" stroke-width="0.6" /><text x="396.21" y="272" font-family='"Liberation Serif", serif' font-size="6.2" font-weight="bold" fill="#222" text-anchor="middle" stroke="#222" stroke-width="0.2" stroke-linejoin="round">-8</text><line x1="396.21" y1="263.7" x2="396.21" y2="261.9" stroke="#555" stroke-width="0.6" /><text x="413.27" y="272" font-family='"Liberation Serif", serif' font-size="6.2" font-weight="bold" fill="#222" text-anchor="middle" stroke="#222" stroke-width="0.2" stroke-linejoin="round">-6</text><line x1="413.27" y1="263.7" x2="413.27" y2="261.9" stroke="#555" stroke-width="0.6" /><text x="430.33" y="272" font-family='"Liberation Serif", serif' font-size="6.2" font-weight="bold" fill="#222" text-anchor="middle" stroke="#222" stroke-width="0.2" stroke-linejoin="round">-4</text><line x1="430.33" y1="263.7" x2="430.33" y2="261.9" stroke="#555" stroke-width="0.6" /><text x="447.39" y="272" font-family='"Liberation Serif", serif' font-size="6.2" font-weight="bold" fill="#222" text-anchor="middle" stroke="#222" stroke-width="0.2" stroke-linejoin="round">-2</text><line x1="447.39" y1="263.7" x2="447.39" y2="261.9" stroke="#555" stroke-width="0.6" /><text x="464.45" y="272" font-family='"Liberation Serif", serif' font-size="6.2" font-weight="bold" fill="#222" text-anchor="middle" stroke="#222" stroke-width="0.2" stroke-linejoin="round">0</text><line x1="464.45" y1="263.7" x2="464.45" y2="261.9" stroke="#555" stroke-width="0.6" /><text x="481.51" y="272" font-family='"Liberation Serif", serif' font-size="6.2" font-weight="bold" fill="#222" text-anchor="middle" stroke="#222" stroke-width="0.2" stroke-linejoin="round">2</text><line x1="481.51" y1="263.7" x2="481.51" y2="261.9" stroke="#555" stroke-width="0.6" /><text x="498.57" y="272" font-family='"Liberation Serif", serif' font-size="6.2" font-weight="bold" fill="#222" text-anchor="middle" stroke="#222" stroke-width="0.2" stroke-linejoin="round">4</text><line x1="498.57" y1="263.7" x2="498.57" y2="261.9" stroke="#555" stroke-width="0.6" /><text x="515.63" y="272" font-family='"Liberation Serif", serif' font-size="6.2" font-weight="bold" fill="#222" text-anchor="middle" stroke="#222" stroke-width="0.2" stroke-linejoin="round">6</text><line x1="515.63" y1="263.7" x2="515.63" y2="261.9" stroke="#555" stroke-width="0.6" /><text x="532.69" y="272" font-family='"Liberation Serif", serif' font-size="6.2" font-weight="bold" fill="#222" text-anchor="middle" stroke="#222" stroke-width="0.2" stroke-linejoin="round">8</text><line x1="532.69" y1="263.7" x2="532.69" y2="261.9" stroke="#555" stroke-width="0.6" /><text x="466.2" y="283.5" font-family='"Liberation Serif", serif' font-size="10.4" font-weight="bold" fill="#222" text-anchor="middle" textLength="95.6" lengthAdjust="spacingAndGlyphs" stroke="#222" stroke-width="0.25" stroke-linejoin="round">Electric Field (kV/mm)</text><text x="387" y="210.6" font-family='"Liberation Serif", serif' font-size="10.5" font-weight="bold" fill="#222" text-anchor="middle" transform="rotate(-90 387 210.6)" textLength="41" lengthAdjust="spacingAndGlyphs" stroke="#222" stroke-width="0.25" stroke-linejoin="round">Strain (%)</text><text x="371.8" y="162.5" font-family='"Liberation Sans", sans-serif' font-size="12.4" font-weight="normal" fill="#222" text-anchor="start" textLength="14.2" lengthAdjust="spacingAndGlyphs">(c)</text><path d="M412.84,177.92 C414.95,179.2 420.8,182.18 425.47,185.59 C430.13,189 436.14,193.29 440.82,198.37 C445.5,203.45 449.93,209.91 453.53,216.05 C457.13,222.19 460.58,231.38 462.4,235.22 C464.22,239.05 464.11,238.41 464.45,239.05" fill="none" stroke="#1f8a24" stroke-width="3.5" stroke-linejoin="round" /><path d="M412.84,177.92 C414.95,179.2 420.8,182.18 425.47,185.59 C430.13,189 436.14,193.29 440.82,198.37 C445.5,203.45 449.93,209.91 453.53,216.05 C457.13,222.19 460.58,231.38 462.4,235.22 C464.22,239.05 464.11,238.41 464.45,239.05" fill="none" stroke="#52b052" stroke-width="0.9" stroke-linejoin="round" stroke-dasharray="1.2 1.8"/><path d="M412.84,177.92 C413.48,178.74 415.4,178.99 416.68,182.82 C417.96,186.65 419.06,194.96 420.52,200.92 C421.98,206.89 423.55,212.68 425.47,218.6 C427.39,224.53 429.48,231.6 432.04,236.5 C434.6,241.39 437.67,245.12 440.82,248 C443.98,250.87 448.02,253.32 450.97,253.75 C453.93,254.18 456.45,252.36 458.56,250.55 C460.68,248.74 462.7,244.8 463.68,242.89 C464.66,240.97 464.32,239.69 464.45,239.05" fill="none" stroke="#1f8a24" stroke-width="3.5" stroke-linejoin="round" /><path d="M412.84,177.92 C413.48,178.74 415.4,178.99 416.68,182.82 C417.96,186.65 419.06,194.96 420.52,200.92 C421.98,206.89 423.55,212.68 425.47,218.6 C427.39,224.53 429.48,231.6 432.04,236.5 C434.6,241.39 437.67,245.12 440.82,248 C443.98,250.87 448.02,253.32 450.97,253.75 C453.93,254.18 456.45,252.36 458.56,250.55 C460.68,248.74 462.7,244.8 463.68,242.89 C464.66,240.97 464.32,239.69 464.45,239.05" fill="none" stroke="#52b052" stroke-width="0.9" stroke-linejoin="round" stroke-dasharray="1.2 1.8"/><path d="M518.44,177.92 C515.69,180.05 507.64,185.59 501.9,190.7 C496.15,195.81 489.07,202.7 483.98,208.59 C478.89,214.49 474.3,221.2 471.36,226.06 C468.42,230.92 467.48,235.61 466.33,237.77 C465.18,239.94 464.76,238.84 464.45,239.05" fill="none" stroke="#1f8a24" stroke-width="3.5" stroke-linejoin="round" /><path d="M518.44,177.92 C515.69,180.05 507.64,185.59 501.9,190.7 C496.15,195.81 489.07,202.7 483.98,208.59 C478.89,214.49 474.3,221.2 471.36,226.06 C468.42,230.92 467.48,235.61 466.33,237.77 C465.18,239.94 464.76,238.84 464.45,239.05" fill="none" stroke="#52b052" stroke-width="0.9" stroke-linejoin="round" stroke-dasharray="1.2 1.8"/><path d="M518.44,177.92 C518.02,178.74 517.38,178.13 515.89,182.82 C514.39,187.51 511.82,198.76 509.49,206.04 C507.16,213.31 504.01,220.56 501.9,226.48 C499.78,232.41 499.32,237.38 496.78,241.61 C494.23,245.83 490.03,249.7 486.63,251.83 C483.23,253.96 479.36,255.24 476.39,254.39 C473.42,253.54 470.79,249.28 468.8,246.72 C466.81,244.16 465.18,240.33 464.45,239.05" fill="none" stroke="#1f8a24" stroke-width="3.5" stroke-linejoin="round" /><path d="M518.44,177.92 C518.02,178.74 517.38,178.13 515.89,182.82 C514.39,187.51 511.82,198.76 509.49,206.04 C507.16,213.31 504.01,220.56 501.9,226.48 C499.78,232.41 499.32,237.38 496.78,241.61 C494.23,245.83 490.03,249.7 486.63,251.83 C483.23,253.96 479.36,255.24 476.39,254.39 C473.42,253.54 470.79,249.28 468.8,246.72 C466.81,244.16 465.18,240.33 464.45,239.05" fill="none" stroke="#52b052" stroke-width="0.9" stroke-linejoin="round" stroke-dasharray="1.2 1.8"/><path d="M410.71,212.21 C413.98,213.53 424.22,217.29 430.33,220.09 C436.44,222.9 441.7,226.02 447.39,229.04 C453.08,232.06 461.61,236.67 464.45,238.2" fill="none" stroke="#151515" stroke-width="3.2" stroke-linejoin="round" /><path d="M410.71,215.62 C412.56,217.04 417.82,221.51 421.8,224.14 C425.78,226.77 430.33,229.47 434.59,231.38 C438.86,233.3 442.41,234.51 447.39,235.64 C452.37,236.78 461.61,237.77 464.45,238.2" fill="none" stroke="#151515" stroke-width="3.2" stroke-linejoin="round" /><path d="M519.89,211.15 C516.91,212.57 507.95,216.65 501.98,219.67 C496.01,222.69 490.32,226.17 484.07,229.25 C477.81,232.34 467.72,236.71 464.45,238.2" fill="none" stroke="#151515" stroke-width="3.2" stroke-linejoin="round" /><path d="M519.89,214.77 C517.76,216.19 511.36,220.63 507.1,223.29 C502.83,225.95 498.57,228.69 494.31,230.74 C490.04,232.8 486.49,234.4 481.51,235.64 C476.53,236.89 467.29,237.77 464.45,238.2" fill="none" stroke="#151515" stroke-width="3.2" stroke-linejoin="round" /><path d="M411.48,209.87 C413.81,210.72 420.58,212.89 425.47,214.98 C430.36,217.08 436.14,219.7 440.82,222.44 C445.5,225.17 449.59,228.76 453.53,231.38 C457.47,234.01 462.63,237.06 464.45,238.2" fill="none" stroke="#f03c3c" stroke-width="3.8" stroke-linejoin="round" /><path d="M411.48,209.87 C413.81,210.72 420.58,212.89 425.47,214.98 C430.36,217.08 436.14,219.7 440.82,222.44 C445.5,225.17 449.59,228.76 453.53,231.38 C457.47,234.01 462.63,237.06 464.45,238.2" fill="none" stroke="#ff9a9a" stroke-width="0.9" stroke-linejoin="round" stroke-dasharray="1.2 1.6"/><path d="M411.48,213.07 C412.99,214.41 416.9,218.39 420.52,221.16 C424.15,223.93 428.99,227.37 433.23,229.68 C437.47,231.99 441.72,233.66 445.94,235 C450.16,236.35 455.48,237.24 458.56,237.77 C461.65,238.31 463.47,238.13 464.45,238.2" fill="none" stroke="#f03c3c" stroke-width="3.8" stroke-linejoin="round" /><path d="M411.48,213.07 C412.99,214.41 416.9,218.39 420.52,221.16 C424.15,223.93 428.99,227.37 433.23,229.68 C437.47,231.99 441.72,233.66 445.94,235 C450.16,236.35 455.48,237.24 458.56,237.77 C461.65,238.31 463.47,238.13 464.45,238.2" fill="none" stroke="#ff9a9a" stroke-width="0.9" stroke-linejoin="round" stroke-dasharray="1.2 1.6"/><path d="M521,207.31 C517.82,208.59 508.07,211.86 501.9,214.98 C495.73,218.11 489.71,222.33 483.98,226.06 C478.25,229.79 470.78,235.32 467.52,237.35 C464.27,239.37 464.96,238.06 464.45,238.2" fill="none" stroke="#f03c3c" stroke-width="3.8" stroke-linejoin="round" /><path d="M521,207.31 C517.82,208.59 508.07,211.86 501.9,214.98 C495.73,218.11 489.71,222.33 483.98,226.06 C478.25,229.79 470.78,235.32 467.52,237.35 C464.27,239.37 464.96,238.06 464.45,238.2" fill="none" stroke="#ff9a9a" stroke-width="0.9" stroke-linejoin="round" stroke-dasharray="1.2 1.6"/><path d="M520.32,210.51 C517.25,212.64 507.95,219.46 501.9,223.29 C495.84,227.12 489.71,231.06 483.98,233.51 C478.25,235.96 470.78,237.21 467.52,237.99 C464.27,238.77 464.96,238.16 464.45,238.2" fill="none" stroke="#f03c3c" stroke-width="3.8" stroke-linejoin="round" /><path d="M520.32,210.51 C517.25,212.64 507.95,219.46 501.9,223.29 C495.84,227.12 489.71,231.06 483.98,233.51 C478.25,235.96 470.78,237.21 467.52,237.99 C464.27,238.77 464.96,238.16 464.45,238.2" fill="none" stroke="#ff9a9a" stroke-width="0.9" stroke-linejoin="round" stroke-dasharray="1.2 1.6"/><text x="396.8" y="159.8" font-family='"Liberation Serif", serif' font-size="5.5" font-weight="bold" fill="#222" text-anchor="start" textLength="7.7" lengthAdjust="spacingAndGlyphs">(a)</text><line x1="397.7" y1="164.2" x2="405.9" y2="164.2" stroke="#333" stroke-width="0.9" /><circle cx="401.5" cy="164.2" r="1.5" fill="none" stroke="#333" stroke-width="1"/><text x="406.8" y="166" font-family='"Liberation Serif", serif' font-size="5.5" font-weight="bold" fill="#222" text-anchor="start" textLength="25.9" lengthAdjust="spacingAndGlyphs" stroke="#222" stroke-width="0.18" stroke-linejoin="round">Non-textured</text><line x1="397.7" y1="169.9" x2="405.9" y2="169.9" stroke="#ee2020" stroke-width="0.9" /><circle cx="401.5" cy="169.9" r="1.5" fill="none" stroke="#ee2020" stroke-width="1"/><text x="406.8" y="171.7" font-family='"Liberation Serif", serif' font-size="5.5" font-weight="bold" fill="#222" text-anchor="start" textLength="20.9" lengthAdjust="spacingAndGlyphs" stroke="#222" stroke-width="0.18" stroke-linejoin="round">Composite</text><line x1="397.7" y1="175.8" x2="405.9" y2="175.8" stroke="#1f8c2a" stroke-width="0.9" /><circle cx="401.5" cy="175.8" r="1.5" fill="none" stroke="#1f8c2a" stroke-width="1"/><text x="406.8" y="177.6" font-family='"Liberation Serif", serif' font-size="5.5" font-weight="bold" fill="#222" text-anchor="start" textLength="18" lengthAdjust="spacingAndGlyphs" stroke="#222" stroke-width="0.18" stroke-linejoin="round">Textured</text><line x1="20.8" y1="266" x2="20.8" y2="423" stroke="#7d8d9c" stroke-width="1.0" /><line x1="359.8" y1="262" x2="359.8" y2="421" stroke="#d4d8dc" stroke-width="0.8" /><rect x="24.7" y="262.7" width="84.3" height="69.1" fill="#888" filter="url(#f5)" /><polyline points="30,300 45,285 62,290 75,272 95,268" fill="none" stroke="#8a8a8a" stroke-width="1.0" opacity="0.8"/><polyline points="45,285 40,270" fill="none" stroke="#8a8a8a" stroke-width="1.0" opacity="0.8"/><polyline points="62,290 70,310 90,318 105,300" fill="none" stroke="#8a8a8a" stroke-width="1.0" opacity="0.8"/><polyline points="70,310 55,325" fill="none" stroke="#8a8a8a" stroke-width="1.0" opacity="0.8"/><polyline points="75,272 88,288 105,283" fill="none" stroke="#8a8a8a" stroke-width="1.0" opacity="0.8"/><polyline points="30,315 48,305 62,290" fill="none" stroke="#8a8a8a" stroke-width="1.0" opacity="0.8"/><polyline points="88,288 90,318" fill="none" stroke="#8a8a8a" stroke-width="1.0" opacity="0.8"/><text x="76" y="275.5" font-family='"Liberation Serif", serif' font-size="12.5" font-weight="normal" fill="#eeeeee" text-anchor="middle" textLength="46" lengthAdjust="spacingAndGlyphs">BNKT-BT</text><line x1="70.3" y1="326.7" x2="104.6" y2="326.7" stroke="#fff" stroke-width="1.6" /><text x="87.4" y="323" font-family='"Liberation Serif", serif' font-size="9" font-weight="bold" fill="#fff" text-anchor="middle" textLength="21" lengthAdjust="spacingAndGlyphs">3 μm</text><rect x="24.7" y="344.5" width="84.3" height="60" fill="#888" filter="url(#f6)" /><polyline points="25,354.5 108,353.5" fill="none" stroke="#9a9a9a" stroke-width="1.0" opacity="0.7"/><polyline points="25,378 70,379 108,382" fill="none" stroke="#9a9a9a" stroke-width="1.0" opacity="0.7"/><polyline points="25,383 60,385 108,383" fill="none" stroke="#9a9a9a" stroke-width="1.0" opacity="0.7"/><polyline points="30,392 70,385 108,380" fill="none" stroke="#9a9a9a" stroke-width="1.0" opacity="0.7"/><polyline points="40,398 80,390" fill="none" stroke="#9a9a9a" stroke-width="1.0" opacity="0.7"/><line x1="72" y1="402" x2="104" y2="402" stroke="#fff" stroke-width="1.6" /><text x="88" y="398.5" font-family='"Liberation Serif", serif' font-size="9" font-weight="bold" fill="#fff" text-anchor="middle" textLength="21" lengthAdjust="spacingAndGlyphs">3 μm</text><rect x="134.3" y="262.9" width="58.8" height="53" fill="#c2c2be" /><rect x="134.3" y="262.9" width="58.8" height="20" fill="#888" filter="url(#f7)" /><path d="M134.3,274 L141,276 L142,296 L134.3,298 Z" fill="#4a4a4a"/><path d="M193.1,281 L187,282 L187,297 L193.1,297 Z" fill="#3a3a3a"/><path d="M141,285 Q150,281 160,283 Q170,279 188,284 L187,309 Q164,314 142,309 Z" fill="#e8e6c8"/><path d="M160,284 Q165,281 170,284 L168,287 L161,287 Z" fill="#6a5a48"/><rect x="134.3" y="309" width="58.8" height="6.9" fill="#dcdce4" /><path d="M142,309 Q164,314 187,309" fill="none" stroke="#9a98a8" stroke-width="1.2"/><rect x="211.1" y="263.1" width="61.2" height="52.5" fill="#c0c6c6" /><rect x="211.1" y="263.1" width="61.2" height="15.5" fill="#888" filter="url(#f8)" /><rect x="211.1" y="280" width="8.6" height="35.6" fill="#555858" /><rect x="219.7" y="278.5" width="47.6" height="3.2" fill="#cccccc" /><rect x="225.9" y="281.6" width="34.1" height="20.4" fill="#4a5454" /><rect x="226" y="284.5" width="34" height="1.2" fill="#9aa4a2" /><rect x="226" y="290.5" width="34" height="1.2" fill="#9aa4a2" /><rect x="226" y="296.5" width="34" height="1.2" fill="#9aa4a2" /><rect x="226" y="300.5" width="34" height="1.2" fill="#9aa4a2" /><circle cx="233" cy="285" r="2" fill="#202020" /><circle cx="251" cy="285" r="2" fill="#202020" /><rect x="219.7" y="279.8" width="6.2" height="28.4" fill="#c4c8c8" /><rect x="260" y="279.8" width="7.3" height="28.4" fill="#c4c8c8" /><rect x="267.3" y="280" width="5" height="35.6" fill="#6a6e6e" /><rect x="225.9" y="302" width="34.1" height="13.6" fill="#5a5e5e" /><rect x="233" y="303" width="23" height="6" fill="#8a8e8e" /><line x1="222.3" y1="312.9" x2="261.8" y2="312.9" stroke="#fff" stroke-width="1.4" /><text x="244.5" y="308.8" font-family='"Liberation Serif", serif' font-size="8.5" font-weight="bold" fill="#fff" text-anchor="middle" textLength="23.5" lengthAdjust="spacingAndGlyphs">5 cm</text><rect x="290" y="262" width="68.6" height="54.5" fill="#a4a4a0" /><path d="M295,270 Q320,268 340,268 L352,310 L296,311 Z" fill="#d6d5c6"/><rect x="296" y="270" width="45" height="40" fill="#d6d5c6" /><ellipse cx="346" cy="289" rx="9" ry="22.5" fill="#e4d8b4" stroke="#b09458" stroke-width="1.2"/><ellipse cx="347" cy="290" rx="5" ry="19" fill="#e0d4b0" stroke="#b09458" stroke-width="0.9"/><ellipse cx="347.5" cy="290" rx="2.4" ry="16" fill="none" stroke="#b09460" stroke-width="0.8"/><line x1="294" y1="312.9" x2="345.8" y2="312.9" stroke="#fff" stroke-width="1.4" /><text x="319" y="308.4" font-family='"Liberation Serif", serif' font-size="9" font-weight="bold" fill="#fff" text-anchor="middle" textLength="18.5" lengthAdjust="spacingAndGlyphs">5 cm</text><rect x="131.2" y="347.8" width="63" height="53.5" fill="#aac4ca" /><path d="M136,356 L153,353 L192,351 L194,353 L194,368 L160,369 L156,372 L155,386 L150,387 L149,372 L145,372 L143,387 L137,386 Z" fill="#b4a8a2"/><path d="M136,356 L153,353 L160,369 L156,372 L155,386 L150,387 L149,372 L145,372 L143,387 L137,386 Z" fill="#a89890"/><rect x="154" y="352.9" width="30" height="8.9" fill="#2e2e2e" /><circle cx="161.7" cy="362.5" r="1.3" fill="#d03030" /><circle cx="171.9" cy="362.5" r="1.3" fill="#e0d040" /><circle cx="146.5" cy="380.3" r="4.5" fill="#e6cfc2" /><circle cx="162.4" cy="380.3" r="4.5" fill="#e6cfc2" /><circle cx="173.2" cy="380.3" r="4.5" fill="#e6cfc2" /><circle cx="142.6" cy="394.3" r="4.5" fill="#e6cfc2" /><circle cx="155.4" cy="394.3" r="4.5" fill="#e6cfc2" /><circle cx="165.5" cy="394.3" r="4.5" fill="#e6cfc2" /><circle cx="176.4" cy="394.3" r="4.5" fill="#e6cfc2" /><text x="183" y="396" font-family='"Liberation Serif", serif' font-size="8.5" font-weight="bold" fill="#fff" text-anchor="middle" textLength="17" lengthAdjust="spacingAndGlyphs">1 cm</text><line x1="176.4" y1="399" x2="182.7" y2="399" stroke="#fff" stroke-width="1.2" /><rect x="210.5" y="347.8" width="61.8" height="53.5" fill="#2470bc" /><ellipse cx="220" cy="354" rx="8" ry="5" fill="#4a88c8" opacity="0.6"/><ellipse cx="223.3" cy="382.8" rx="8.3" ry="4.5" fill="#e6dccb" stroke="#b8ac98" stroke-width="0.5"/><ellipse cx="233.5" cy="382.2" rx="8" ry="4.3" fill="#e6dccb" stroke="#b8ac98" stroke-width="0.5"/><ellipse cx="243.6" cy="380.9" rx="8" ry="4.3" fill="#e6dccb" stroke="#b8ac98" stroke-width="0.5"/><ellipse cx="257.6" cy="378.4" rx="7.6" ry="4.3" fill="#e6dccb" stroke="#b8ac98" stroke-width="0.5"/><ellipse cx="265.3" cy="377.7" rx="6.5" ry="4.2" fill="#e6dccb" stroke="#b8ac98" stroke-width="0.5"/><text x="260.2" y="396" font-family='"Liberation Serif", serif' font-size="9" font-weight="bold" fill="#fff" text-anchor="middle" textLength="20.4" lengthAdjust="spacingAndGlyphs">1 cm</text><line x1="253" y1="399" x2="266" y2="399" stroke="#fff" stroke-width="1.3" /><rect x="290.7" y="347.4" width="67.3" height="53.8" fill="#4696aa" /><ellipse cx="296" cy="354.4" rx="4.2" ry="2.9" fill="#d2c098"/><ellipse cx="305.6" cy="354.4" rx="4.2" ry="2.9" fill="#d2c098"/><ellipse cx="315.2" cy="354.4" rx="4.2" ry="2.9" fill="#d2c098"/><ellipse cx="324.8" cy="354.4" rx="4.2" ry="2.9" fill="#d2c098"/><ellipse cx="334.4" cy="354.4" rx="4.2" ry="2.9" fill="#d2c098"/><ellipse cx="344" cy="354.4" rx="4.2" ry="2.9" fill="#d2c098"/><ellipse cx="353.6" cy="354.4" rx="4.2" ry="2.9" fill="#d2c098"/><ellipse cx="300.5" cy="362.5" rx="4.2" ry="2.9" fill="#d2c098"/><ellipse cx="310.1" cy="362.5" rx="4.2" ry="2.9" fill="#d2c098"/><ellipse cx="319.7" cy="362.5" rx="4.2" ry="2.9" fill="#d2c098"/><ellipse cx="329.3" cy="362.5" rx="4.2" ry="2.9" fill="#d2c098"/><ellipse cx="338.9" cy="362.5" rx="4.2" ry="2.9" fill="#d2c098"/><ellipse cx="348.5" cy="362.5" rx="4.2" ry="2.9" fill="#d2c098"/><ellipse cx="296" cy="371.2" rx="4.2" ry="2.9" fill="#d2c098"/><ellipse cx="305.6" cy="371.2" rx="4.2" ry="2.9" fill="#d2c098"/><ellipse cx="315.2" cy="371.2" rx="4.2" ry="2.9" fill="#d2c098"/><ellipse cx="324.8" cy="371.2" rx="4.2" ry="2.9" fill="#d2c098"/><ellipse cx="334.4" cy="371.2" rx="4.2" ry="2.9" fill="#d2c098"/><ellipse cx="344" cy="371.2" rx="4.2" ry="2.9" fill="#d2c098"/><ellipse cx="353.6" cy="371.2" rx="4.2" ry="2.9" fill="#d2c098"/><ellipse cx="300.5" cy="379.3" rx="4.2" ry="2.9" fill="#d2c098"/><ellipse cx="310.1" cy="379.3" rx="4.2" ry="2.9" fill="#d2c098"/><ellipse cx="319.7" cy="379.3" rx="4.2" ry="2.9" fill="#d2c098"/><ellipse cx="329.3" cy="379.3" rx="4.2" ry="2.9" fill="#d2c098"/><ellipse cx="338.9" cy="379.3" rx="4.2" ry="2.9" fill="#d2c098"/><ellipse cx="348.5" cy="379.3" rx="4.2" ry="2.9" fill="#d2c098"/><ellipse cx="296" cy="385.9" rx="4.2" ry="2.9" fill="#d2c098"/><ellipse cx="305.6" cy="385.9" rx="4.2" ry="2.9" fill="#d2c098"/><ellipse cx="315.2" cy="385.9" rx="4.2" ry="2.9" fill="#d2c098"/><ellipse cx="324.8" cy="385.9" rx="4.2" ry="2.9" fill="#d2c098"/><ellipse cx="334.4" cy="385.9" rx="4.2" ry="2.9" fill="#d2c098"/><ellipse cx="344" cy="385.9" rx="4.2" ry="2.9" fill="#d2c098"/><ellipse cx="353.6" cy="385.9" rx="4.2" ry="2.9" fill="#d2c098"/><ellipse cx="300.5" cy="391.7" rx="4.2" ry="2.9" fill="#d2c098"/><ellipse cx="310.1" cy="391.7" rx="4.2" ry="2.9" fill="#d2c098"/><ellipse cx="319.7" cy="391.7" rx="4.2" ry="2.9" fill="#d2c098"/><ellipse cx="329.3" cy="391.7" rx="4.2" ry="2.9" fill="#d2c098"/><ellipse cx="338.9" cy="391.7" rx="4.2" ry="2.9" fill="#d2c098"/><ellipse cx="348.5" cy="391.7" rx="4.2" ry="2.9" fill="#d2c098"/><ellipse cx="296" cy="398.4" rx="4.2" ry="2.9" fill="#d2c098"/><ellipse cx="305.6" cy="398.4" rx="4.2" ry="2.9" fill="#d2c098"/><ellipse cx="315.2" cy="398.4" rx="4.2" ry="2.9" fill="#d2c098"/><ellipse cx="324.8" cy="398.4" rx="4.2" ry="2.9" fill="#d2c098"/><ellipse cx="334.4" cy="398.4" rx="4.2" ry="2.9" fill="#d2c098"/><ellipse cx="344" cy="398.4" rx="4.2" ry="2.9" fill="#d2c098"/><ellipse cx="353.6" cy="398.4" rx="4.2" ry="2.9" fill="#d2c098"/><text x="348.5" y="396" font-family='"Liberation Serif", serif' font-size="9" font-weight="bold" fill="#fff" text-anchor="middle" textLength="19" lengthAdjust="spacingAndGlyphs">1 cm</text><line x1="343.5" y1="399.5" x2="351" y2="399.5" stroke="#fff" stroke-width="1.2" /><polygon points="113,287.86 121,287.86 121,284.8 129,291.75 121,298.7 121,295.64 113,295.64" fill="#3b5fc8" /><polygon points="194.4,287.28 202.2,287.28 202.2,284.2 210,291.2 202.2,298.2 202.2,295.12 194.4,295.12" fill="#3b5fc8" /><polygon points="273.6,287.28 281.3,287.28 281.3,284.2 289,291.2 281.3,298.2 281.3,295.12 273.6,295.12" fill="#3b5fc8" /><polygon points="320.09,318 325.91,318 325.91,329.38 328.2,329.38 323,338.7 317.8,329.38 320.09,329.38" fill="#3b5fc8" /><polygon points="128,371.52 120,371.52 120,368.4 112,375.5 120,382.6 120,379.48 128,379.48" fill="#3b5fc8" /><polygon points="209.6,371.52 201.3,371.52 201.3,368.4 193,375.5 201.3,382.6 201.3,379.48 209.6,379.48" fill="#3b5fc8" /><polygon points="288.6,371.52 280.45,371.52 280.45,368.4 272.3,375.5 280.45,382.6 280.45,379.48 288.6,379.48" fill="#3b5fc8" /><text x="164.5" y="332" font-family='"Liberation Serif", serif' font-size="13.8" font-weight="normal" fill="#111" text-anchor="middle" textLength="35.8" lengthAdjust="spacingAndGlyphs">Mixed</text><text x="243.8" y="332" font-family='"Liberation Serif", serif' font-size="13.8" font-weight="normal" fill="#111" text-anchor="middle" textLength="69.3" lengthAdjust="spacingAndGlyphs">Tape-casting</text><text x="294.9" y="332.5" font-family='"Liberation Serif", serif' font-size="13.8" font-weight="normal" fill="#111" text-anchor="start" textLength="25.6" lengthAdjust="spacingAndGlyphs">Film</text><text x="71" y="421.3" font-family='"Liberation Serif", serif' font-size="13.8" font-weight="normal" fill="#111" text-anchor="middle" textLength="102" lengthAdjust="spacingAndGlyphs">Textured ceramics</text><text x="164.3" y="421.3" font-family='"Liberation Serif", serif' font-size="13.8" font-weight="normal" fill="#111" text-anchor="middle" textLength="42.5" lengthAdjust="spacingAndGlyphs">Pressed</text><text x="242.3" y="421.3" font-family='"Liberation Serif", serif' font-size="13.8" font-weight="normal" fill="#111" text-anchor="middle" textLength="57.5" lengthAdjust="spacingAndGlyphs">Laminated</text><text x="320.3" y="421.3" font-family='"Liberation Serif", serif' font-size="13.8" font-weight="normal" fill="#111" text-anchor="middle" textLength="46.6" lengthAdjust="spacingAndGlyphs">Cut film</text><text x="11" y="267.5" font-family='"Liberation Sans", sans-serif' font-size="12.2" font-weight="normal" fill="#222" text-anchor="start" textLength="13" lengthAdjust="spacingAndGlyphs">(d)</text><rect x="373.8" y="299.7" width="81.7" height="61.2" fill="#888" filter="url(#f9)" /><rect x="457.5" y="299.7" width="81.1" height="61.2" fill="#888" filter="url(#f10)" /><rect x="373.8" y="363.4" width="81.7" height="61.5" fill="#888" filter="url(#f11)" /><rect x="457.5" y="363.4" width="81.1" height="61.5" fill="#888" filter="url(#f12)" /><polygon points="418.8,365 437.1,365 454.7,386.4 444.8,397.1 424.9,381.9 416,370" fill="#a0a0a0" stroke="#e4e4e4" stroke-width="1.1" stroke-linejoin="round"/><polygon points="438.5,365 455.5,365 455.5,384" fill="#a0a0a0" stroke="#e4e4e4" stroke-width="1.1" stroke-linejoin="round"/><polygon points="374.5,377.3 418.8,376.5 420,383.4 374.5,385" fill="#a0a0a0" stroke="#e4e4e4" stroke-width="1.1" stroke-linejoin="round"/><polygon points="374.5,386.4 395.9,384.9 397.4,400.2 374.5,401.7" fill="#a0a0a0" stroke="#e4e4e4" stroke-width="1.1" stroke-linejoin="round"/><polygon points="396.5,385 408.1,388 411.2,398.6 398,400" fill="#a0a0a0" stroke="#e4e4e4" stroke-width="1.1" stroke-linejoin="round"/><polygon points="408.8,388 426.5,389.5 428,398.6 411.8,398.6" fill="#a0a0a0" stroke="#e4e4e4" stroke-width="1.1" stroke-linejoin="round"/><polygon points="411.2,400.6 423.4,400.2 426.5,412.4 414.2,417" fill="#a0a0a0" stroke="#e4e4e4" stroke-width="1.1" stroke-linejoin="round"/><polygon points="424,399 440.2,400.2 443.3,413.9 427,415.4" fill="#a0a0a0" stroke="#e4e4e4" stroke-width="1.1" stroke-linejoin="round"/><polygon points="441.7,400.2 455.5,395.6 455.5,417 444.8,415.4" fill="#a0a0a0" stroke="#e4e4e4" stroke-width="1.1" stroke-linejoin="round"/><polygon points="374.5,410 400.5,404.8 400.5,423.1 374.5,424.6" fill="#a0a0a0" stroke="#e4e4e4" stroke-width="1.1" stroke-linejoin="round"/><polygon points="401,418.5 423.4,415.8 424.9,425 401,425" fill="#a0a0a0" stroke="#e4e4e4" stroke-width="1.1" stroke-linejoin="round"/><polygon points="427,416.5 455.5,418 455.5,425 427,425" fill="#a0a0a0" stroke="#e4e4e4" stroke-width="1.1" stroke-linejoin="round"/><polygon points="375.3,403.6 385.2,404.6 383,409.3 376,409" fill="#101010" /><polygon points="402.5,405.5 411,404.8 409.5,412.4 404,411.5" fill="#2a2a2a" stroke="#f0f0f0" stroke-width="1"/><circle cx="438.7" cy="399.4" r="1.2" fill="#151515" /><circle cx="443.3" cy="414" r="1.1" fill="#151515" /><rect x="459" y="380.8" width="28.3" height="12.5" rx="3" fill="#8a8a8a" stroke="#dedede" stroke-width="0.9"/><rect x="487.8" y="383.9" width="20.2" height="9.4" rx="3" fill="#7c7c7c" stroke="#dedede" stroke-width="0.9"/><rect x="510.7" y="377.6" width="26.6" height="11" rx="3" fill="#888" stroke="#dedede" stroke-width="0.9"/><rect x="465.4" y="394" width="29.7" height="11.8" rx="3" fill="#828282" stroke="#dedede" stroke-width="0.9"/><rect x="496.7" y="399.5" width="15.6" height="14.1" rx="3" fill="#8e8e8e" stroke="#dedede" stroke-width="0.9"/><rect x="513.9" y="396.4" width="23.4" height="15.6" rx="3" fill="#7e7e7e" stroke="#dedede" stroke-width="0.9"/><rect x="459" y="409" width="36" height="9.3" rx="3" fill="#868686" stroke="#dedede" stroke-width="0.9"/><rect x="471.6" y="370" width="36" height="10.8" rx="3" fill="#808080" stroke="#dedede" stroke-width="0.9"/><rect x="459" y="365" width="11" height="13" rx="3" fill="#8a8a8a" stroke="#dedede" stroke-width="0.9"/><rect x="510" y="365" width="27" height="11" rx="3" fill="#848484" stroke="#dedede" stroke-width="0.9"/><rect x="498" y="415" width="39" height="9.5" rx="3" fill="#828282" stroke="#dedede" stroke-width="0.9"/><circle cx="459.5" cy="327.6" r="3.9" fill="#e8e8e8" /><circle cx="459.5" cy="327.6" r="2.8" fill="#1e1e1e" /><circle cx="488.6" cy="331.3" r="2.9" fill="#e8e8e8" /><circle cx="488.6" cy="331.3" r="1.8" fill="#1e1e1e" /><circle cx="516" cy="346" r="3.3" fill="#e8e8e8" /><circle cx="516" cy="346" r="2.2" fill="#1e1e1e" /><circle cx="523.6" cy="322.4" r="2.5" fill="#e8e8e8" /><circle cx="523.6" cy="322.4" r="1.4" fill="#1e1e1e" /><circle cx="470" cy="341" r="2.2" fill="#e8e8e8" /><circle cx="470" cy="341" r="1.1" fill="#1e1e1e" /><circle cx="532.5" cy="320.9" r="2.3" fill="#e8e8e8" /><circle cx="532.5" cy="320.9" r="1.2" fill="#1e1e1e" /><rect x="372" y="296" width="13.5" height="4" fill="#ffffff" /><text x="376.5" y="313.5" font-family='"Liberation Sans", sans-serif' font-size="9.8" font-weight="normal" fill="#ff2424" text-anchor="start" textLength="52.5" lengthAdjust="spacingAndGlyphs">non-textured</text><text x="461.3" y="315" font-family='"Liberation Sans", sans-serif' font-size="9.8" font-weight="normal" fill="#ff2424" text-anchor="start" textLength="61.2" lengthAdjust="spacingAndGlyphs">3mol of BNT15</text><text x="377.7" y="375.5" font-family='"Liberation Sans", sans-serif' font-size="9.8" font-weight="normal" fill="#ff2424" text-anchor="start" textLength="43.3" lengthAdjust="spacingAndGlyphs">12mol BNT</text><text x="461.3" y="375.5" font-family='"Liberation Sans", sans-serif' font-size="9.8" font-weight="normal" fill="#ff2424" text-anchor="start" textLength="45" lengthAdjust="spacingAndGlyphs">30mol BNT</text><text x="372.3" y="305" font-family='"Liberation Sans", sans-serif' font-size="12.2" font-weight="normal" fill="#111" text-anchor="start" textLength="13.5" lengthAdjust="spacingAndGlyphs">(e)</text><text x="6.4" y="440.5" font-family='"Liberation Sans", sans-serif' font-size="12.2" font-weight="normal" fill="#222" text-anchor="start" textLength="11" lengthAdjust="spacingAndGlyphs">(f)</text><rect x="14.7" y="431.8" width="74.7" height="68.6" fill="#888" filter="url(#f13)" /><rect x="14.7" y="495.9" width="74.7" height="4.5" fill="#111" /><line x1="58.4" y1="497.8" x2="84.9" y2="497.8" stroke="#eee" stroke-width="1.3" /><text x="69.4" y="492.4" font-family='"Liberation Serif", serif' font-size="6" font-weight="normal" fill="#fff" text-anchor="middle">3μm</text><text x="16.7" y="438.8" font-family='"Liberation Serif", serif' font-size="6" font-weight="normal" fill="#fff" text-anchor="start"><tspan font-style="italic">x</tspan> = 0.00</text><line x1="21.5" y1="457" x2="21.5" y2="491.4" stroke="#3030d0" stroke-width="0.8" /><line x1="21.5" y1="491.4" x2="57" y2="491.4" stroke="#3030d0" stroke-width="0.8" /><rect x="18" y="490.4" width="2.4" height="1.6" fill="#20c020" /><rect x="18" y="484.15" width="2.4" height="1.6" fill="#20c020" /><rect x="18" y="477.89" width="2.4" height="1.6" fill="#20c020" /><rect x="18" y="471.64" width="2.4" height="1.6" fill="#20c020" /><rect x="18" y="465.38" width="2.4" height="1.6" fill="#20c020" /><rect x="18" y="459.13" width="2.4" height="1.6" fill="#20c020" /><rect x="22.7" y="492.7" width="1.6" height="1.4" fill="#20c020" /><rect x="27.17" y="492.7" width="1.6" height="1.4" fill="#20c020" /><rect x="31.63" y="492.7" width="1.6" height="1.4" fill="#20c020" /><rect x="36.1" y="492.7" width="1.6" height="1.4" fill="#20c020" /><rect x="40.57" y="492.7" width="1.6" height="1.4" fill="#20c020" /><rect x="45.03" y="492.7" width="1.6" height="1.4" fill="#20c020" /><rect x="49.5" y="492.7" width="1.6" height="1.4" fill="#20c020" /><rect x="53.97" y="492.7" width="1.6" height="1.4" fill="#20c020" /><rect x="23.7" y="486.56" width="2.23" height="4.84" fill="#a8a8a8" opacity="0.9"/><rect x="26.32" y="482.41" width="2.23" height="8.99" fill="#a8a8a8" opacity="0.9"/><rect x="28.95" y="477.41" width="2.23" height="13.99" fill="#a8a8a8" opacity="0.9"/><rect x="31.57" y="473.17" width="2.23" height="18.23" fill="#a8a8a8" opacity="0.9"/><rect x="34.2" y="471.5" width="2.23" height="19.9" fill="#a8a8a8" opacity="0.9"/><rect x="36.83" y="473.2" width="2.23" height="18.2" fill="#a8a8a8" opacity="0.9"/><rect x="39.45" y="477.46" width="2.23" height="13.94" fill="#a8a8a8" opacity="0.9"/><rect x="42.08" y="482.46" width="2.23" height="8.94" fill="#a8a8a8" opacity="0.9"/><rect x="44.7" y="486.59" width="2.23" height="4.81" fill="#a8a8a8" opacity="0.9"/><rect x="47.33" y="489.24" width="2.23" height="2.16" fill="#a8a8a8" opacity="0.9"/><rect x="49.95" y="490.58" width="2.23" height="0.82" fill="#a8a8a8" opacity="0.9"/><polyline points="23.5,488.08 24.29,487.21 25.07,486.21 25.86,485.07 26.65,483.79 27.44,482.41 28.23,480.94 29.01,479.43 29.8,477.91 30.59,476.44 31.38,475.08 32.16,473.87 32.95,472.86 33.74,472.11 34.52,471.65 35.31,471.5 36.1,471.66 36.89,472.13 37.67,472.89 38.46,473.9 39.25,475.12 40.04,476.49 40.83,477.96 41.61,479.48 42.4,480.99 43.19,482.46 43.98,483.84 44.76,485.11 45.55,486.24 46.34,487.24 47.12,488.1 47.91,488.82 48.7,489.42 49.49,489.9 50.27,490.29 51.06,490.58 51.85,490.81 52.64,490.98 53.42,491.11 54.21,491.2 55,491.26" fill="none" stroke="#e03030" stroke-width="0.8" /><text x="39.3" y="469.5" font-family='"Liberation Sans", sans-serif' font-size="4.2" font-weight="normal" fill="#30d030" text-anchor="middle">1.61 μm</text><rect x="90.5" y="431.4" width="74.4" height="69" fill="#888" filter="url(#f14)" /><rect x="90.5" y="495.9" width="74.4" height="4.5" fill="#111" /><line x1="133.9" y1="497.8" x2="160.4" y2="497.8" stroke="#eee" stroke-width="1.3" /><text x="144.9" y="492.4" font-family='"Liberation Serif", serif' font-size="6" font-weight="normal" fill="#fff" text-anchor="middle">3μm</text><text x="92.5" y="438.4" font-family='"Liberation Serif", serif' font-size="6" font-weight="normal" fill="#fff" text-anchor="start"><tspan font-style="italic">x</tspan> = 0.01</text><line x1="98" y1="457" x2="98" y2="491.4" stroke="#3030d0" stroke-width="0.8" /><line x1="98" y1="491.4" x2="137.5" y2="491.4" stroke="#3030d0" stroke-width="0.8" /><rect x="94.5" y="490.4" width="2.4" height="1.6" fill="#20c020" /><rect x="94.5" y="484.15" width="2.4" height="1.6" fill="#20c020" /><rect x="94.5" y="477.89" width="2.4" height="1.6" fill="#20c020" /><rect x="94.5" y="471.64" width="2.4" height="1.6" fill="#20c020" /><rect x="94.5" y="465.38" width="2.4" height="1.6" fill="#20c020" /><rect x="94.5" y="459.13" width="2.4" height="1.6" fill="#20c020" /><rect x="99.2" y="492.7" width="1.6" height="1.4" fill="#20c020" /><rect x="104.2" y="492.7" width="1.6" height="1.4" fill="#20c020" /><rect x="109.2" y="492.7" width="1.6" height="1.4" fill="#20c020" /><rect x="114.2" y="492.7" width="1.6" height="1.4" fill="#20c020" /><rect x="119.2" y="492.7" width="1.6" height="1.4" fill="#20c020" /><rect x="124.2" y="492.7" width="1.6" height="1.4" fill="#20c020" /><rect x="129.2" y="492.7" width="1.6" height="1.4" fill="#20c020" /><rect x="134.2" y="492.7" width="1.6" height="1.4" fill="#20c020" /><rect x="99.7" y="482.21" width="2.6" height="9.19" fill="#a8a8a8" opacity="0.9"/><rect x="102.7" y="477.09" width="2.6" height="14.31" fill="#a8a8a8" opacity="0.9"/><rect x="105.7" y="472.73" width="2.6" height="18.67" fill="#a8a8a8" opacity="0.9"/><rect x="108.7" y="471" width="2.6" height="20.4" fill="#a8a8a8" opacity="0.9"/><rect x="111.7" y="472.73" width="2.6" height="18.67" fill="#a8a8a8" opacity="0.9"/><rect x="114.7" y="477.09" width="2.6" height="14.31" fill="#a8a8a8" opacity="0.9"/><rect x="117.7" y="482.21" width="2.6" height="9.19" fill="#a8a8a8" opacity="0.9"/><rect x="120.7" y="486.46" width="2.6" height="4.94" fill="#a8a8a8" opacity="0.9"/><rect x="123.7" y="489.17" width="2.6" height="2.23" fill="#a8a8a8" opacity="0.9"/><rect x="126.7" y="490.56" width="2.6" height="0.84" fill="#a8a8a8" opacity="0.9"/><polyline points="99.5,484.51 100.4,483.16 101.3,481.71 102.2,480.19 103.1,478.63 104,477.09 104.9,475.61 105.8,474.25 106.7,473.07 107.6,472.12 108.5,471.45 109.4,471.07 110.3,471.02 111.2,471.29 112.1,471.87 113,472.73 113.9,473.84 114.8,475.14 115.7,476.58 116.6,478.11 117.5,479.67 118.4,481.21 119.3,482.69 120.2,484.07 121.1,485.33 122,486.46 122.9,487.43 123.8,488.27 124.7,488.97 125.6,489.54 126.5,490 127.4,490.36 128.3,490.64 129.2,490.86 130.1,491.02 131,491.13 131.9,491.22 132.8,491.28 133.7,491.32 134.6,491.35 135.5,491.37" fill="none" stroke="#e03030" stroke-width="0.8" /><text x="114" y="469" font-family='"Liberation Sans", sans-serif' font-size="4.2" font-weight="normal" fill="#30d030" text-anchor="middle">1.09 μm</text><rect x="167" y="431.4" width="73" height="69" fill="#888" filter="url(#f15)" /><rect x="167" y="495.9" width="73" height="4.5" fill="#111" /><line x1="209" y1="497.8" x2="235.5" y2="497.8" stroke="#eee" stroke-width="1.3" /><text x="220" y="492.4" font-family='"Liberation Serif", serif' font-size="6" font-weight="normal" fill="#fff" text-anchor="middle">3μm</text><text x="169" y="438.4" font-family='"Liberation Serif", serif' font-size="6" font-weight="normal" fill="#fff" text-anchor="start"><tspan font-style="italic">x</tspan> = 0.02</text><line x1="171.5" y1="457" x2="171.5" y2="491.4" stroke="#3030d0" stroke-width="0.8" /><line x1="171.5" y1="491.4" x2="214" y2="491.4" stroke="#3030d0" stroke-width="0.8" /><rect x="168" y="490.4" width="2.4" height="1.6" fill="#20c020" /><rect x="168" y="484.15" width="2.4" height="1.6" fill="#20c020" /><rect x="168" y="477.89" width="2.4" height="1.6" fill="#20c020" /><rect x="168" y="471.64" width="2.4" height="1.6" fill="#20c020" /><rect x="168" y="465.38" width="2.4" height="1.6" fill="#20c020" /><rect x="168" y="459.13" width="2.4" height="1.6" fill="#20c020" /><rect x="172.7" y="492.7" width="1.6" height="1.4" fill="#20c020" /><rect x="178.1" y="492.7" width="1.6" height="1.4" fill="#20c020" /><rect x="183.5" y="492.7" width="1.6" height="1.4" fill="#20c020" /><rect x="188.9" y="492.7" width="1.6" height="1.4" fill="#20c020" /><rect x="194.3" y="492.7" width="1.6" height="1.4" fill="#20c020" /><rect x="199.7" y="492.7" width="1.6" height="1.4" fill="#20c020" /><rect x="205.1" y="492.7" width="1.6" height="1.4" fill="#20c020" /><rect x="210.5" y="492.7" width="1.6" height="1.4" fill="#20c020" /><rect x="173.2" y="483.74" width="2.85" height="7.66" fill="#a8a8a8" opacity="0.9"/><rect x="176.45" y="479.05" width="2.85" height="12.35" fill="#a8a8a8" opacity="0.9"/><rect x="179.7" y="474.74" width="2.85" height="16.66" fill="#a8a8a8" opacity="0.9"/><rect x="182.95" y="472.56" width="2.85" height="18.84" fill="#a8a8a8" opacity="0.9"/><rect x="186.2" y="473.56" width="2.85" height="17.84" fill="#a8a8a8" opacity="0.9"/><rect x="189.45" y="477.25" width="2.85" height="14.15" fill="#a8a8a8" opacity="0.9"/><rect x="192.7" y="482" width="2.85" height="9.4" fill="#a8a8a8" opacity="0.9"/><rect x="195.95" y="486.17" width="2.85" height="5.23" fill="#a8a8a8" opacity="0.9"/><rect x="199.2" y="488.96" width="2.85" height="2.44" fill="#a8a8a8" opacity="0.9"/><rect x="202.45" y="490.45" width="2.85" height="0.95" fill="#a8a8a8" opacity="0.9"/><polyline points="173,485.75 173.97,484.58 174.95,483.3 175.93,481.93 176.9,480.5 177.88,479.05 178.85,477.64 179.82,476.3 180.8,475.1 181.78,474.08 182.75,473.29 183.72,472.76 184.7,472.51 185.68,472.57 186.65,472.93 187.62,473.56 188.6,474.45 189.57,475.54 190.55,476.8 191.53,478.17 192.5,479.61 193.47,481.05 194.45,482.46 195.43,483.8 196.4,485.04 197.38,486.17 198.35,487.16 199.32,488.02 200.3,488.75 201.28,489.35 202.25,489.84 203.22,490.23 204.2,490.54 205.18,490.78 206.15,490.96 207.12,491.09 208.1,491.18 209.07,491.25 210.05,491.3 211.03,491.34 212,491.36" fill="none" stroke="#e03030" stroke-width="0.8" /><text x="189" y="470.5" font-family='"Liberation Sans", sans-serif' font-size="4.2" font-weight="normal" fill="#30d030" text-anchor="middle">1.28 μm</text><rect x="14.7" y="502" width="74.7" height="69.8" fill="#888" filter="url(#f16)" /><rect x="14.7" y="567.3" width="74.7" height="4.5" fill="#111" /><line x1="58.4" y1="569.2" x2="84.9" y2="569.2" stroke="#eee" stroke-width="1.3" /><text x="69.4" y="563.8" font-family='"Liberation Serif", serif' font-size="6" font-weight="normal" fill="#fff" text-anchor="middle">3μm</text><text x="16.7" y="509" font-family='"Liberation Serif", serif' font-size="6" font-weight="normal" fill="#fff" text-anchor="start"><tspan font-style="italic">x</tspan> = 0.03</text><line x1="21.7" y1="527" x2="21.7" y2="560" stroke="#3030d0" stroke-width="0.8" /><line x1="21.7" y1="560" x2="58.7" y2="560" stroke="#3030d0" stroke-width="0.8" /><rect x="18.2" y="559" width="2.4" height="1.6" fill="#20c020" /><rect x="18.2" y="553" width="2.4" height="1.6" fill="#20c020" /><rect x="18.2" y="547" width="2.4" height="1.6" fill="#20c020" /><rect x="18.2" y="541" width="2.4" height="1.6" fill="#20c020" /><rect x="18.2" y="535" width="2.4" height="1.6" fill="#20c020" /><rect x="18.2" y="529" width="2.4" height="1.6" fill="#20c020" /><rect x="22.9" y="561.3" width="1.6" height="1.4" fill="#20c020" /><rect x="27.57" y="561.3" width="1.6" height="1.4" fill="#20c020" /><rect x="32.23" y="561.3" width="1.6" height="1.4" fill="#20c020" /><rect x="36.9" y="561.3" width="1.6" height="1.4" fill="#20c020" /><rect x="41.57" y="561.3" width="1.6" height="1.4" fill="#20c020" /><rect x="46.23" y="561.3" width="1.6" height="1.4" fill="#20c020" /><rect x="50.9" y="561.3" width="1.6" height="1.4" fill="#20c020" /><rect x="55.57" y="561.3" width="1.6" height="1.4" fill="#20c020" /><rect x="22.7" y="554.53" width="2.45" height="5.47" fill="#a8a8a8" opacity="0.9"/><rect x="25.55" y="549.71" width="2.45" height="10.29" fill="#a8a8a8" opacity="0.9"/><rect x="28.4" y="543.8" width="2.45" height="16.2" fill="#a8a8a8" opacity="0.9"/><rect x="31.25" y="538.64" width="2.45" height="21.36" fill="#a8a8a8" opacity="0.9"/><rect x="34.1" y="536.41" width="2.45" height="23.59" fill="#a8a8a8" opacity="0.9"/><rect x="36.95" y="538.17" width="2.45" height="21.83" fill="#a8a8a8" opacity="0.9"/><rect x="39.8" y="543.08" width="2.45" height="16.92" fill="#a8a8a8" opacity="0.9"/><rect x="42.65" y="549.02" width="2.45" height="10.98" fill="#a8a8a8" opacity="0.9"/><rect x="45.5" y="554.03" width="2.45" height="5.97" fill="#a8a8a8" opacity="0.9"/><rect x="48.35" y="557.28" width="2.45" height="2.72" fill="#a8a8a8" opacity="0.9"/><rect x="51.2" y="558.96" width="2.45" height="1.04" fill="#a8a8a8" opacity="0.9"/><polyline points="22.5,556.26 23.36,555.28 24.21,554.12 25.07,552.8 25.92,551.33 26.77,549.71 27.63,547.99 28.48,546.2 29.34,544.4 30.2,542.64 31.05,540.98 31.91,539.5 32.76,538.26 33.62,537.3 34.47,536.67 35.33,536.41 36.18,536.52 37.04,537 37.89,537.83 38.75,538.96 39.6,540.35 40.45,541.94 41.31,543.67 42.16,545.46 43.02,547.26 43.88,549.02 44.73,550.68 45.59,552.22 46.44,553.6 47.3,554.82 48.15,555.88 49.01,556.77 49.86,557.51 50.72,558.11 51.57,558.59 52.42,558.96 53.28,559.25 54.14,559.47 54.99,559.63 55.85,559.74 56.7,559.82" fill="none" stroke="#e03030" stroke-width="0.8" /><text x="39.5" y="534.4" font-family='"Liberation Sans", sans-serif' font-size="4.2" font-weight="normal" fill="#30d030" text-anchor="middle">1.16 μm</text><rect x="90.4" y="502.5" width="74.4" height="69" fill="#888" filter="url(#f17)" /><rect x="90.4" y="567" width="74.4" height="4.5" fill="#111" /><line x1="133.8" y1="568.9" x2="160.3" y2="568.9" stroke="#eee" stroke-width="1.3" /><text x="144.8" y="563.5" font-family='"Liberation Serif", serif' font-size="6" font-weight="normal" fill="#fff" text-anchor="middle">3μm</text><text x="92.4" y="509.5" font-family='"Liberation Serif", serif' font-size="6" font-weight="normal" fill="#fff" text-anchor="start"><tspan font-style="italic">x</tspan> = 0.04</text><line x1="95.5" y1="527" x2="95.5" y2="560.4" stroke="#3030d0" stroke-width="0.8" /><line x1="95.5" y1="560.4" x2="135" y2="560.4" stroke="#3030d0" stroke-width="0.8" /><rect x="92" y="559.4" width="2.4" height="1.6" fill="#20c020" /><rect x="92" y="553.33" width="2.4" height="1.6" fill="#20c020" /><rect x="92" y="547.25" width="2.4" height="1.6" fill="#20c020" /><rect x="92" y="541.18" width="2.4" height="1.6" fill="#20c020" /><rect x="92" y="535.11" width="2.4" height="1.6" fill="#20c020" /><rect x="92" y="529.04" width="2.4" height="1.6" fill="#20c020" /><rect x="96.7" y="561.7" width="1.6" height="1.4" fill="#20c020" /><rect x="101.7" y="561.7" width="1.6" height="1.4" fill="#20c020" /><rect x="106.7" y="561.7" width="1.6" height="1.4" fill="#20c020" /><rect x="111.7" y="561.7" width="1.6" height="1.4" fill="#20c020" /><rect x="116.7" y="561.7" width="1.6" height="1.4" fill="#20c020" /><rect x="121.7" y="561.7" width="1.6" height="1.4" fill="#20c020" /><rect x="126.7" y="561.7" width="1.6" height="1.4" fill="#20c020" /><rect x="131.7" y="561.7" width="1.6" height="1.4" fill="#20c020" /><rect x="97.2" y="559.25" width="2.6" height="1.15" fill="#a8a8a8" opacity="0.9"/><rect x="100.2" y="554.97" width="2.6" height="5.43" fill="#a8a8a8" opacity="0.9"/><rect x="103.2" y="545.46" width="2.6" height="14.94" fill="#a8a8a8" opacity="0.9"/><rect x="106.2" y="536.49" width="2.6" height="23.91" fill="#a8a8a8" opacity="0.9"/><rect x="109.2" y="538.16" width="2.6" height="22.24" fill="#a8a8a8" opacity="0.9"/><rect x="112.2" y="548.37" width="2.6" height="12.03" fill="#a8a8a8" opacity="0.9"/><rect x="115.2" y="556.62" width="2.6" height="3.78" fill="#a8a8a8" opacity="0.9"/><rect x="118.2" y="559.71" width="2.6" height="0.69" fill="#a8a8a8" opacity="0.9"/><polyline points="97,559.97 97.9,559.61 98.8,559.03 99.7,558.12 100.6,556.8 101.5,554.97 102.4,552.61 103.3,549.76 104.2,546.56 105.1,543.26 106,540.17 106.9,537.67 107.8,536.07 108.7,535.61 109.6,536.34 110.5,538.16 111.4,540.82 112.3,543.98 113.2,547.29 114.1,550.43 115,553.18 115.9,555.42 116.8,557.13 117.7,558.36 118.6,559.18 119.5,559.71 120.4,560.03 121.3,560.21 122.2,560.31 123.1,560.36 124,560.38 124.9,560.39 125.8,560.4 126.7,560.4 127.6,560.4 128.5,560.4 129.4,560.4 130.3,560.4 131.2,560.4 132.1,560.4 133,560.4" fill="none" stroke="#e03030" stroke-width="0.8" /><text x="112.6" y="533.6" font-family='"Liberation Sans", sans-serif' font-size="4.2" font-weight="normal" fill="#30d030" text-anchor="middle">1.12 μm</text><rect x="165.5" y="501.5" width="77" height="71" fill="#fefefe" /><rect x="178.9" y="504.1" width="62.5" height="55.7" fill="none" stroke="#333" stroke-width="0.6"/><rect x="181" y="541.53" width="5.1" height="18.27" fill="#2424e6" /><text x="184.55" y="540.03" font-family='"Liberation Sans", sans-serif' font-size="3.4" font-weight="normal" fill="#555" text-anchor="start" transform="rotate(-90 184.55 540.03)">0.82 μm</text><rect x="186.1" y="541.31" width="4.9" height="18.49" fill="#22ec22" /><text x="189.55" y="539.81" font-family='"Liberation Sans", sans-serif' font-size="3.4" font-weight="normal" fill="#555" text-anchor="start" transform="rotate(-90 189.55 539.81)">0.83 μm</text><rect x="193.3" y="535.96" width="5" height="23.84" fill="#2424e6" /><text x="196.8" y="534.46" font-family='"Liberation Sans", sans-serif' font-size="3.4" font-weight="normal" fill="#555" text-anchor="start" transform="rotate(-90 196.8 534.46)">1.07 μm</text><rect x="198.3" y="538.19" width="5.2" height="21.61" fill="#22ec22" /><text x="201.9" y="536.69" font-family='"Liberation Sans", sans-serif' font-size="3.4" font-weight="normal" fill="#555" text-anchor="start" transform="rotate(-90 201.9 536.69)">0.97 μm</text><rect x="205.5" y="531.28" width="5.1" height="28.52" fill="#2424e6" /><text x="209.05" y="529.78" font-family='"Liberation Sans", sans-serif' font-size="3.4" font-weight="normal" fill="#555" text-anchor="start" transform="rotate(-90 209.05 529.78)">1.28 μm</text><rect x="210.6" y="531.28" width="5.2" height="28.52" fill="#22ec22" /><text x="214.2" y="529.78" font-family='"Liberation Sans", sans-serif' font-size="3.4" font-weight="normal" fill="#555" text-anchor="start" transform="rotate(-90 214.2 529.78)">1.28 μm</text><rect x="217.7" y="534.18" width="5.1" height="25.62" fill="#2424e6" /><text x="221.25" y="532.68" font-family='"Liberation Sans", sans-serif' font-size="3.4" font-weight="normal" fill="#555" text-anchor="start" transform="rotate(-90 221.25 532.68)">1.15 μm</text><rect x="222.8" y="521.48" width="5.2" height="38.32" fill="#22ec22" /><text x="226.4" y="519.98" font-family='"Liberation Sans", sans-serif' font-size="3.4" font-weight="normal" fill="#555" text-anchor="start" transform="rotate(-90 226.4 519.98)">1.72 μm</text><rect x="230" y="535.07" width="5" height="24.73" fill="#2424e6" /><text x="233.5" y="533.57" font-family='"Liberation Sans", sans-serif' font-size="3.4" font-weight="normal" fill="#555" text-anchor="start" transform="rotate(-90 233.5 533.57)">1.11 μm</text><rect x="235" y="509.22" width="5.2" height="50.58" fill="#22ec22" /><text x="238.6" y="507.72" font-family='"Liberation Sans", sans-serif' font-size="3.4" font-weight="normal" fill="#555" text-anchor="start" transform="rotate(-90 238.6 507.72)">2.27 μm</text><text x="177.7" y="561.8" font-family='"Liberation Sans", sans-serif' font-size="5.6" font-weight="normal" fill="#222" text-anchor="end" textLength="5.8" lengthAdjust="spacingAndGlyphs">0.0</text><text x="177.7" y="550.66" font-family='"Liberation Sans", sans-serif' font-size="5.6" font-weight="normal" fill="#222" text-anchor="end" textLength="5.8" lengthAdjust="spacingAndGlyphs">0.5</text><text x="177.7" y="539.52" font-family='"Liberation Sans", sans-serif' font-size="5.6" font-weight="normal" fill="#222" text-anchor="end" textLength="5.8" lengthAdjust="spacingAndGlyphs">1.0</text><text x="177.7" y="528.38" font-family='"Liberation Sans", sans-serif' font-size="5.6" font-weight="normal" fill="#222" text-anchor="end" textLength="5.8" lengthAdjust="spacingAndGlyphs">1.5</text><text x="177.7" y="517.24" font-family='"Liberation Sans", sans-serif' font-size="5.6" font-weight="normal" fill="#222" text-anchor="end" textLength="5.8" lengthAdjust="spacingAndGlyphs">2.0</text><text x="177.7" y="506.1" font-family='"Liberation Sans", sans-serif' font-size="5.6" font-weight="normal" fill="#222" text-anchor="end" textLength="5.8" lengthAdjust="spacingAndGlyphs">2.5</text><text x="186.1" y="566" font-family='"Liberation Sans", sans-serif' font-size="5.4" font-weight="normal" fill="#222" text-anchor="middle" textLength="8.3" lengthAdjust="spacingAndGlyphs">0.00</text><text x="198.3" y="566" font-family='"Liberation Sans", sans-serif' font-size="5.4" font-weight="normal" fill="#222" text-anchor="middle" textLength="8.3" lengthAdjust="spacingAndGlyphs">0.01</text><text x="210.5" y="566" font-family='"Liberation Sans", sans-serif' font-size="5.4" font-weight="normal" fill="#222" text-anchor="middle" textLength="8.3" lengthAdjust="spacingAndGlyphs">0.02</text><text x="222.7" y="566" font-family='"Liberation Sans", sans-serif' font-size="5.4" font-weight="normal" fill="#222" text-anchor="middle" textLength="8.3" lengthAdjust="spacingAndGlyphs">0.03</text><text x="234.9" y="566" font-family='"Liberation Sans", sans-serif' font-size="5.4" font-weight="normal" fill="#222" text-anchor="middle" textLength="8.3" lengthAdjust="spacingAndGlyphs">0.04</text><text x="204.8" y="571.3" font-family='"Liberation Sans", sans-serif' font-size="5.4" font-weight="normal" fill="#222" text-anchor="middle" textLength="35" lengthAdjust="spacingAndGlyphs">BaTiO<tspan font-size="3.5" dy="1">3</tspan><tspan dy="-1"> content (mol)</tspan></text><text x="169.8" y="535" font-family='"Liberation Sans", sans-serif' font-size="5.2" font-weight="normal" fill="#222" text-anchor="middle" transform="rotate(-90 169.8 535)" textLength="58" lengthAdjust="spacingAndGlyphs">Average particle size (μm)</text><rect x="181.5" y="506.4" width="8" height="4.1" fill="#2424e6" /><text x="190.5" y="510" font-family='"Liberation Sans", sans-serif' font-size="4.2" font-weight="normal" fill="#111" text-anchor="start">Experiment</text><rect x="181.5" y="511.2" width="8" height="4.1" fill="#22ec22" /><text x="190.5" y="514.8" font-family='"Liberation Sans", sans-serif' font-size="4.2" font-weight="normal" fill="#111" text-anchor="start">Fit (1)</text><rect x="247.5" y="444" width="294" height="125.5" fill="#fafae8" /><text x="249" y="442.3" font-family='"Liberation Sans", sans-serif' font-size="12.2" font-weight="normal" fill="#222" text-anchor="start" textLength="13.8" lengthAdjust="spacingAndGlyphs">(g)</text><rect x="317" y="456" width="42" height="31" fill="#f5f5f0" /><rect x="322" y="503" width="31" height="32" fill="#f5f5f0" /><rect x="439.5" y="455.7" width="41.5" height="42" fill="#f5f5f0" /><rect x="444.7" y="510" width="31" height="42" fill="#f5f5f0" /><rect x="499" y="455.7" width="42" height="86" fill="#f5f5f0" /><polygon points="322,456.54 317.14,461.4 322,461.89" fill="#c8c8c4"/><polygon points="322,456.54 326.86,461.4 322,461.89" fill="#9e9e9a"/><polygon points="317.14,461.4 322,466.26 322,461.89" fill="#80807c"/><polygon points="326.86,461.4 322,466.26 322,461.89" fill="#5e5e5a"/><polygon points="332.35,456.54 327.49,461.4 332.35,461.89" fill="#c8c8c4"/><polygon points="332.35,456.54 337.21,461.4 332.35,461.89" fill="#9e9e9a"/><polygon points="327.49,461.4 332.35,466.26 332.35,461.89" fill="#80807c"/><polygon points="337.21,461.4 332.35,466.26 332.35,461.89" fill="#5e5e5a"/><polygon points="342.7,456.54 337.84,461.4 342.7,461.89" fill="#c8c8c4"/><polygon points="342.7,456.54 347.56,461.4 342.7,461.89" fill="#9e9e9a"/><polygon points="337.84,461.4 342.7,466.26 342.7,461.89" fill="#80807c"/><polygon points="347.56,461.4 342.7,466.26 342.7,461.89" fill="#5e5e5a"/><polygon points="353.05,456.54 348.19,461.4 353.05,461.89" fill="#c8c8c4"/><polygon points="353.05,456.54 357.91,461.4 353.05,461.89" fill="#9e9e9a"/><polygon points="348.19,461.4 353.05,466.26 353.05,461.89" fill="#80807c"/><polygon points="357.91,461.4 353.05,466.26 353.05,461.89" fill="#5e5e5a"/><polygon points="322,466.89 317.14,471.75 322,472.24" fill="#c8c8c4"/><polygon points="322,466.89 326.86,471.75 322,472.24" fill="#9e9e9a"/><polygon points="317.14,471.75 322,476.61 322,472.24" fill="#80807c"/><polygon points="326.86,471.75 322,476.61 322,472.24" fill="#5e5e5a"/><polygon points="332.35,466.89 327.49,471.75 332.35,472.24" fill="#c8c8c4"/><polygon points="332.35,466.89 337.21,471.75 332.35,472.24" fill="#9e9e9a"/><polygon points="327.49,471.75 332.35,476.61 332.35,472.24" fill="#80807c"/><polygon points="337.21,471.75 332.35,476.61 332.35,472.24" fill="#5e5e5a"/><polygon points="342.7,466.89 337.84,471.75 342.7,472.24" fill="#c8c8c4"/><polygon points="342.7,466.89 347.56,471.75 342.7,472.24" fill="#9e9e9a"/><polygon points="337.84,471.75 342.7,476.61 342.7,472.24" fill="#80807c"/><polygon points="347.56,471.75 342.7,476.61 342.7,472.24" fill="#5e5e5a"/><polygon points="353.05,466.89 348.19,471.75 353.05,472.24" fill="#c8c8c4"/><polygon points="353.05,466.89 357.91,471.75 353.05,472.24" fill="#9e9e9a"/><polygon points="348.19,471.75 353.05,476.61 353.05,472.24" fill="#80807c"/><polygon points="357.91,471.75 353.05,476.61 353.05,472.24" fill="#5e5e5a"/><polygon points="322,477.24 317.14,482.1 322,482.59" fill="#c8c8c4"/><polygon points="322,477.24 326.86,482.1 322,482.59" fill="#9e9e9a"/><polygon points="317.14,482.1 322,486.96 322,482.59" fill="#80807c"/><polygon points="326.86,482.1 322,486.96 322,482.59" fill="#5e5e5a"/><polygon points="332.35,477.24 327.49,482.1 332.35,482.59" fill="#c8c8c4"/><polygon points="332.35,477.24 337.21,482.1 332.35,482.59" fill="#9e9e9a"/><polygon points="327.49,482.1 332.35,486.96 332.35,482.59" fill="#80807c"/><polygon points="337.21,482.1 332.35,486.96 332.35,482.59" fill="#5e5e5a"/><polygon points="342.7,477.24 337.84,482.1 342.7,482.59" fill="#c8c8c4"/><polygon points="342.7,477.24 347.56,482.1 342.7,482.59" fill="#9e9e9a"/><polygon points="337.84,482.1 342.7,486.96 342.7,482.59" fill="#80807c"/><polygon points="347.56,482.1 342.7,486.96 342.7,482.59" fill="#5e5e5a"/><polygon points="353.05,477.24 348.19,482.1 353.05,482.59" fill="#c8c8c4"/><polygon points="353.05,477.24 357.91,482.1 353.05,482.59" fill="#9e9e9a"/><polygon points="348.19,482.1 353.05,486.96 353.05,482.59" fill="#80807c"/><polygon points="357.91,482.1 353.05,486.96 353.05,482.59" fill="#5e5e5a"/><circle cx="327.18" cy="466.57" r="1.55" fill="#22b422" /><circle cx="337.52" cy="466.57" r="1.55" fill="#22b422" /><circle cx="347.88" cy="466.57" r="1.55" fill="#22b422" /><circle cx="327.18" cy="476.92" r="1.55" fill="#22b422" /><circle cx="337.52" cy="476.92" r="1.55" fill="#22b422" /><circle cx="347.88" cy="476.92" r="1.55" fill="#22b422" /><circle cx="327.18" cy="491.4" r="1.55" fill="#22b422" /><circle cx="337.52" cy="491.4" r="1.55" fill="#22b422" /><circle cx="347.88" cy="491.4" r="1.55" fill="#22b422" /><circle cx="321" cy="495.7" r="1.55" fill="#e8241c" /><circle cx="326.35" cy="495.7" r="1.55" fill="#e8241c" /><circle cx="331.7" cy="495.7" r="1.55" fill="#e8241c" /><circle cx="337.05" cy="495.7" r="1.55" fill="#e8241c" /><circle cx="342.4" cy="495.7" r="1.55" fill="#e8241c" /><circle cx="347.75" cy="495.7" r="1.55" fill="#e8241c" /><circle cx="353.1" cy="495.7" r="1.55" fill="#e8241c" /><circle cx="321" cy="499.2" r="1.55" fill="#22b422" /><circle cx="331.7" cy="499.2" r="1.55" fill="#22b422" /><circle cx="342.4" cy="499.2" r="1.55" fill="#22b422" /><circle cx="353.1" cy="499.2" r="1.55" fill="#22b422" /><polygon points="327,502.84 322.14,507.7 327,508.19" fill="#c8c8c4"/><polygon points="327,502.84 331.86,507.7 327,508.19" fill="#9e9e9a"/><polygon points="322.14,507.7 327,512.56 327,508.19" fill="#80807c"/><polygon points="331.86,507.7 327,512.56 327,508.19" fill="#5e5e5a"/><polygon points="337.35,502.84 332.49,507.7 337.35,508.19" fill="#c8c8c4"/><polygon points="337.35,502.84 342.21,507.7 337.35,508.19" fill="#9e9e9a"/><polygon points="332.49,507.7 337.35,512.56 337.35,508.19" fill="#80807c"/><polygon points="342.21,507.7 337.35,512.56 337.35,508.19" fill="#5e5e5a"/><polygon points="347.7,502.84 342.84,507.7 347.7,508.19" fill="#c8c8c4"/><polygon points="347.7,502.84 352.56,507.7 347.7,508.19" fill="#9e9e9a"/><polygon points="342.84,507.7 347.7,512.56 347.7,508.19" fill="#80807c"/><polygon points="352.56,507.7 347.7,512.56 347.7,508.19" fill="#5e5e5a"/><polygon points="327,513.19 322.14,518.05 327,518.54" fill="#c8c8c4"/><polygon points="327,513.19 331.86,518.05 327,518.54" fill="#9e9e9a"/><polygon points="322.14,518.05 327,522.91 327,518.54" fill="#80807c"/><polygon points="331.86,518.05 327,522.91 327,518.54" fill="#5e5e5a"/><polygon points="337.35,513.19 332.49,518.05 337.35,518.54" fill="#c8c8c4"/><polygon points="337.35,513.19 342.21,518.05 337.35,518.54" fill="#9e9e9a"/><polygon points="332.49,518.05 337.35,522.91 337.35,518.54" fill="#80807c"/><polygon points="342.21,518.05 337.35,522.91 337.35,518.54" fill="#5e5e5a"/><polygon points="347.7,513.19 342.84,518.05 347.7,518.54" fill="#c8c8c4"/><polygon points="347.7,513.19 352.56,518.05 347.7,518.54" fill="#9e9e9a"/><polygon points="342.84,518.05 347.7,522.91 347.7,518.54" fill="#80807c"/><polygon points="352.56,518.05 347.7,522.91 347.7,518.54" fill="#5e5e5a"/><polygon points="327,523.54 322.14,528.4 327,528.89" fill="#c8c8c4"/><polygon points="327,523.54 331.86,528.4 327,528.89" fill="#9e9e9a"/><polygon points="322.14,528.4 327,533.26 327,528.89" fill="#80807c"/><polygon points="331.86,528.4 327,533.26 327,528.89" fill="#5e5e5a"/><polygon points="337.35,523.54 332.49,528.4 337.35,528.89" fill="#c8c8c4"/><polygon points="337.35,523.54 342.21,528.4 337.35,528.89" fill="#9e9e9a"/><polygon points="332.49,528.4 337.35,533.26 337.35,528.89" fill="#80807c"/><polygon points="342.21,528.4 337.35,533.26 337.35,528.89" fill="#5e5e5a"/><polygon points="347.7,523.54 342.84,528.4 347.7,528.89" fill="#c8c8c4"/><polygon points="347.7,523.54 352.56,528.4 347.7,528.89" fill="#9e9e9a"/><polygon points="342.84,528.4 347.7,533.26 347.7,528.89" fill="#80807c"/><polygon points="352.56,528.4 347.7,533.26 347.7,528.89" fill="#5e5e5a"/><circle cx="321.5" cy="512.9" r="1.55" fill="#22b422" /><circle cx="331.85" cy="512.9" r="1.55" fill="#22b422" /><circle cx="342.2" cy="512.9" r="1.55" fill="#22b422" /><circle cx="352.55" cy="512.9" r="1.55" fill="#22b422" /><circle cx="321.5" cy="523.25" r="1.55" fill="#22b422" /><circle cx="331.85" cy="523.25" r="1.55" fill="#22b422" /><circle cx="342.2" cy="523.25" r="1.55" fill="#22b422" /><circle cx="352.55" cy="523.25" r="1.55" fill="#22b422" /><polygon points="444.6,456.01 439.71,460.9 444.6,461.39" fill="#c8c8c4"/><polygon points="444.6,456.01 449.49,460.9 444.6,461.39" fill="#9e9e9a"/><polygon points="439.71,460.9 444.6,465.79 444.6,461.39" fill="#80807c"/><polygon points="449.49,460.9 444.6,465.79 444.6,461.39" fill="#5e5e5a"/><polygon points="455,456.01 450.11,460.9 455,461.39" fill="#c8c8c4"/><polygon points="455,456.01 459.89,460.9 455,461.39" fill="#9e9e9a"/><polygon points="450.11,460.9 455,465.79 455,461.39" fill="#80807c"/><polygon points="459.89,460.9 455,465.79 455,461.39" fill="#5e5e5a"/><polygon points="465.4,456.01 460.51,460.9 465.4,461.39" fill="#c8c8c4"/><polygon points="465.4,456.01 470.29,460.9 465.4,461.39" fill="#9e9e9a"/><polygon points="460.51,460.9 465.4,465.79 465.4,461.39" fill="#80807c"/><polygon points="470.29,460.9 465.4,465.79 465.4,461.39" fill="#5e5e5a"/><polygon points="475.8,456.01 470.91,460.9 475.8,461.39" fill="#c8c8c4"/><polygon points="475.8,456.01 480.69,460.9 475.8,461.39" fill="#9e9e9a"/><polygon points="470.91,460.9 475.8,465.79 475.8,461.39" fill="#80807c"/><polygon points="480.69,460.9 475.8,465.79 475.8,461.39" fill="#5e5e5a"/><polygon points="444.6,466.41 439.71,471.3 444.6,471.79" fill="#c8c8c4"/><polygon points="444.6,466.41 449.49,471.3 444.6,471.79" fill="#9e9e9a"/><polygon points="439.71,471.3 444.6,476.19 444.6,471.79" fill="#80807c"/><polygon points="449.49,471.3 444.6,476.19 444.6,471.79" fill="#5e5e5a"/><polygon points="455,466.41 450.11,471.3 455,471.79" fill="#c8c8c4"/><polygon points="455,466.41 459.89,471.3 455,471.79" fill="#9e9e9a"/><polygon points="450.11,471.3 455,476.19 455,471.79" fill="#80807c"/><polygon points="459.89,471.3 455,476.19 455,471.79" fill="#5e5e5a"/><polygon points="465.4,466.41 460.51,471.3 465.4,471.79" fill="#c8c8c4"/><polygon points="465.4,466.41 470.29,471.3 465.4,471.79" fill="#9e9e9a"/><polygon points="460.51,471.3 465.4,476.19 465.4,471.79" fill="#80807c"/><polygon points="470.29,471.3 465.4,476.19 465.4,471.79" fill="#5e5e5a"/><polygon points="475.8,466.41 470.91,471.3 475.8,471.79" fill="#c8c8c4"/><polygon points="475.8,466.41 480.69,471.3 475.8,471.79" fill="#9e9e9a"/><polygon points="470.91,471.3 475.8,476.19 475.8,471.79" fill="#80807c"/><polygon points="480.69,471.3 475.8,476.19 475.8,471.79" fill="#5e5e5a"/><polygon points="444.6,476.81 439.71,481.7 444.6,482.19" fill="#c8c8c4"/><polygon points="444.6,476.81 449.49,481.7 444.6,482.19" fill="#9e9e9a"/><polygon points="439.71,481.7 444.6,486.59 444.6,482.19" fill="#80807c"/><polygon points="449.49,481.7 444.6,486.59 444.6,482.19" fill="#5e5e5a"/><polygon points="455,476.81 450.11,481.7 455,482.19" fill="#c8c8c4"/><polygon points="455,476.81 459.89,481.7 455,482.19" fill="#9e9e9a"/><polygon points="450.11,481.7 455,486.59 455,482.19" fill="#80807c"/><polygon points="459.89,481.7 455,486.59 455,482.19" fill="#5e5e5a"/><polygon points="465.4,476.81 460.51,481.7 465.4,482.19" fill="#c8c8c4"/><polygon points="465.4,476.81 470.29,481.7 465.4,482.19" fill="#9e9e9a"/><polygon points="460.51,481.7 465.4,486.59 465.4,482.19" fill="#80807c"/><polygon points="470.29,481.7 465.4,486.59 465.4,482.19" fill="#5e5e5a"/><polygon points="475.8,476.81 470.91,481.7 475.8,482.19" fill="#c8c8c4"/><polygon points="475.8,476.81 480.69,481.7 475.8,482.19" fill="#9e9e9a"/><polygon points="470.91,481.7 475.8,486.59 475.8,482.19" fill="#80807c"/><polygon points="480.69,481.7 475.8,486.59 475.8,482.19" fill="#5e5e5a"/><polygon points="444.6,487.21 439.71,492.1 444.6,492.59" fill="#c8c8c4"/><polygon points="444.6,487.21 449.49,492.1 444.6,492.59" fill="#9e9e9a"/><polygon points="439.71,492.1 444.6,496.99 444.6,492.59" fill="#80807c"/><polygon points="449.49,492.1 444.6,496.99 444.6,492.59" fill="#5e5e5a"/><polygon points="455,487.21 450.11,492.1 455,492.59" fill="#c8c8c4"/><polygon points="455,487.21 459.89,492.1 455,492.59" fill="#9e9e9a"/><polygon points="450.11,492.1 455,496.99 455,492.59" fill="#80807c"/><polygon points="459.89,492.1 455,496.99 455,492.59" fill="#5e5e5a"/><polygon points="465.4,487.21 460.51,492.1 465.4,492.59" fill="#c8c8c4"/><polygon points="465.4,487.21 470.29,492.1 465.4,492.59" fill="#9e9e9a"/><polygon points="460.51,492.1 465.4,496.99 465.4,492.59" fill="#80807c"/><polygon points="470.29,492.1 465.4,496.99 465.4,492.59" fill="#5e5e5a"/><polygon points="475.8,487.21 470.91,492.1 475.8,492.59" fill="#c8c8c4"/><polygon points="475.8,487.21 480.69,492.1 475.8,492.59" fill="#9e9e9a"/><polygon points="470.91,492.1 475.8,496.99 475.8,492.59" fill="#80807c"/><polygon points="480.69,492.1 475.8,496.99 475.8,492.59" fill="#5e5e5a"/><circle cx="449.8" cy="466.1" r="1.55" fill="#22b422" /><circle cx="460.2" cy="466.1" r="1.55" fill="#22b422" /><circle cx="470.6" cy="466.1" r="1.55" fill="#22b422" /><circle cx="449.8" cy="476.5" r="1.55" fill="#e8241c" /><circle cx="460.2" cy="476.5" r="1.55" fill="#e8241c" /><circle cx="470.6" cy="476.5" r="1.55" fill="#e8241c" /><circle cx="449.8" cy="486.9" r="1.55" fill="#22b422" /><circle cx="460.2" cy="486.9" r="1.55" fill="#22b422" /><circle cx="470.6" cy="486.9" r="1.55" fill="#22b422" /><circle cx="449.8" cy="501" r="1.55" fill="#22b422" /><circle cx="460.2" cy="501" r="1.55" fill="#22b422" /><circle cx="470.6" cy="501" r="1.55" fill="#22b422" /><circle cx="444.2" cy="505.2" r="1.55" fill="#e8241c" /><circle cx="449.43" cy="505.2" r="1.55" fill="#e8241c" /><circle cx="454.66" cy="505.2" r="1.55" fill="#e8241c" /><circle cx="459.89" cy="505.2" r="1.55" fill="#e8241c" /><circle cx="465.12" cy="505.2" r="1.55" fill="#e8241c" /><circle cx="470.35" cy="505.2" r="1.55" fill="#e8241c" /><circle cx="475.58" cy="505.2" r="1.55" fill="#e8241c" /><circle cx="444.2" cy="509" r="1.55" fill="#22b422" /><circle cx="454.65" cy="509" r="1.55" fill="#22b422" /><circle cx="465.1" cy="509" r="1.55" fill="#22b422" /><circle cx="475.55" cy="509" r="1.55" fill="#22b422" /><polygon points="449.9,510.31 445.01,515.2 449.9,515.69" fill="#c8c8c4"/><polygon points="449.9,510.31 454.79,515.2 449.9,515.69" fill="#9e9e9a"/><polygon points="445.01,515.2 449.9,520.09 449.9,515.69" fill="#80807c"/><polygon points="454.79,515.2 449.9,520.09 449.9,515.69" fill="#5e5e5a"/><polygon points="460.3,510.31 455.41,515.2 460.3,515.69" fill="#c8c8c4"/><polygon points="460.3,510.31 465.19,515.2 460.3,515.69" fill="#9e9e9a"/><polygon points="455.41,515.2 460.3,520.09 460.3,515.69" fill="#80807c"/><polygon points="465.19,515.2 460.3,520.09 460.3,515.69" fill="#5e5e5a"/><polygon points="470.7,510.31 465.81,515.2 470.7,515.69" fill="#c8c8c4"/><polygon points="470.7,510.31 475.59,515.2 470.7,515.69" fill="#9e9e9a"/><polygon points="465.81,515.2 470.7,520.09 470.7,515.69" fill="#80807c"/><polygon points="475.59,515.2 470.7,520.09 470.7,515.69" fill="#5e5e5a"/><polygon points="449.9,520.71 445.01,525.6 449.9,526.09" fill="#c8c8c4"/><polygon points="449.9,520.71 454.79,525.6 449.9,526.09" fill="#9e9e9a"/><polygon points="445.01,525.6 449.9,530.49 449.9,526.09" fill="#80807c"/><polygon points="454.79,525.6 449.9,530.49 449.9,526.09" fill="#5e5e5a"/><polygon points="460.3,520.71 455.41,525.6 460.3,526.09" fill="#c8c8c4"/><polygon points="460.3,520.71 465.19,525.6 460.3,526.09" fill="#9e9e9a"/><polygon points="455.41,525.6 460.3,530.49 460.3,526.09" fill="#80807c"/><polygon points="465.19,525.6 460.3,530.49 460.3,526.09" fill="#5e5e5a"/><polygon points="470.7,520.71 465.81,525.6 470.7,526.09" fill="#c8c8c4"/><polygon points="470.7,520.71 475.59,525.6 470.7,526.09" fill="#9e9e9a"/><polygon points="465.81,525.6 470.7,530.49 470.7,526.09" fill="#80807c"/><polygon points="475.59,525.6 470.7,530.49 470.7,526.09" fill="#5e5e5a"/><polygon points="449.9,531.11 445.01,536 449.9,536.49" fill="#c8c8c4"/><polygon points="449.9,531.11 454.79,536 449.9,536.49" fill="#9e9e9a"/><polygon points="445.01,536 449.9,540.89 449.9,536.49" fill="#80807c"/><polygon points="454.79,536 449.9,540.89 449.9,536.49" fill="#5e5e5a"/><polygon points="460.3,531.11 455.41,536 460.3,536.49" fill="#c8c8c4"/><polygon points="460.3,531.11 465.19,536 460.3,536.49" fill="#9e9e9a"/><polygon points="455.41,536 460.3,540.89 460.3,536.49" fill="#80807c"/><polygon points="465.19,536 460.3,540.89 460.3,536.49" fill="#5e5e5a"/><polygon points="470.7,531.11 465.81,536 470.7,536.49" fill="#c8c8c4"/><polygon points="470.7,531.11 475.59,536 470.7,536.49" fill="#9e9e9a"/><polygon points="465.81,536 470.7,540.89 470.7,536.49" fill="#80807c"/><polygon points="475.59,536 470.7,540.89 470.7,536.49" fill="#5e5e5a"/><polygon points="449.9,541.51 445.01,546.4 449.9,546.89" fill="#c8c8c4"/><polygon points="449.9,541.51 454.79,546.4 449.9,546.89" fill="#9e9e9a"/><polygon points="445.01,546.4 449.9,551.29 449.9,546.89" fill="#80807c"/><polygon points="454.79,546.4 449.9,551.29 449.9,546.89" fill="#5e5e5a"/><polygon points="460.3,541.51 455.41,546.4 460.3,546.89" fill="#c8c8c4"/><polygon points="460.3,541.51 465.19,546.4 460.3,546.89" fill="#9e9e9a"/><polygon points="455.41,546.4 460.3,551.29 460.3,546.89" fill="#80807c"/><polygon points="465.19,546.4 460.3,551.29 460.3,546.89" fill="#5e5e5a"/><polygon points="470.7,541.51 465.81,546.4 470.7,546.89" fill="#c8c8c4"/><polygon points="470.7,541.51 475.59,546.4 470.7,546.89" fill="#9e9e9a"/><polygon points="465.81,546.4 470.7,551.29 470.7,546.89" fill="#80807c"/><polygon points="475.59,546.4 470.7,551.29 470.7,546.89" fill="#5e5e5a"/><circle cx="444.6" cy="520.4" r="1.55" fill="#22b422" /><circle cx="455" cy="520.4" r="1.55" fill="#22b422" /><circle cx="465.4" cy="520.4" r="1.55" fill="#22b422" /><circle cx="475.8" cy="520.4" r="1.55" fill="#22b422" /><circle cx="444.6" cy="530.8" r="1.55" fill="#e8241c" /><circle cx="455" cy="530.8" r="1.55" fill="#e8241c" /><circle cx="465.4" cy="530.8" r="1.55" fill="#e8241c" /><circle cx="475.8" cy="530.8" r="1.55" fill="#e8241c" /><circle cx="444.6" cy="541.2" r="1.55" fill="#22b422" /><circle cx="455" cy="541.2" r="1.55" fill="#22b422" /><circle cx="465.4" cy="541.2" r="1.55" fill="#22b422" /><circle cx="475.8" cy="541.2" r="1.55" fill="#22b422" /><polygon points="504.2,455.99 499.29,460.9 504.2,461.39" fill="#c8c8c4"/><polygon points="504.2,455.99 509.11,460.9 504.2,461.39" fill="#9e9e9a"/><polygon points="499.29,460.9 504.2,465.81 504.2,461.39" fill="#80807c"/><polygon points="509.11,460.9 504.2,465.81 504.2,461.39" fill="#5e5e5a"/><polygon points="514.65,455.99 509.74,460.9 514.65,461.39" fill="#c8c8c4"/><polygon points="514.65,455.99 519.56,460.9 514.65,461.39" fill="#9e9e9a"/><polygon points="509.74,460.9 514.65,465.81 514.65,461.39" fill="#80807c"/><polygon points="519.56,460.9 514.65,465.81 514.65,461.39" fill="#5e5e5a"/><polygon points="525.1,455.99 520.19,460.9 525.1,461.39" fill="#c8c8c4"/><polygon points="525.1,455.99 530.01,460.9 525.1,461.39" fill="#9e9e9a"/><polygon points="520.19,460.9 525.1,465.81 525.1,461.39" fill="#80807c"/><polygon points="530.01,460.9 525.1,465.81 525.1,461.39" fill="#5e5e5a"/><polygon points="535.55,455.99 530.64,460.9 535.55,461.39" fill="#c8c8c4"/><polygon points="535.55,455.99 540.46,460.9 535.55,461.39" fill="#9e9e9a"/><polygon points="530.64,460.9 535.55,465.81 535.55,461.39" fill="#80807c"/><polygon points="540.46,460.9 535.55,465.81 535.55,461.39" fill="#5e5e5a"/><polygon points="504.2,466.79 499.29,471.7 504.2,472.19" fill="#c8c8c4"/><polygon points="504.2,466.79 509.11,471.7 504.2,472.19" fill="#9e9e9a"/><polygon points="499.29,471.7 504.2,476.61 504.2,472.19" fill="#80807c"/><polygon points="509.11,471.7 504.2,476.61 504.2,472.19" fill="#5e5e5a"/><polygon points="514.65,466.79 509.74,471.7 514.65,472.19" fill="#c8c8c4"/><polygon points="514.65,466.79 519.56,471.7 514.65,472.19" fill="#9e9e9a"/><polygon points="509.74,471.7 514.65,476.61 514.65,472.19" fill="#80807c"/><polygon points="519.56,471.7 514.65,476.61 514.65,472.19" fill="#5e5e5a"/><polygon points="525.1,466.79 520.19,471.7 525.1,472.19" fill="#c8c8c4"/><polygon points="525.1,466.79 530.01,471.7 525.1,472.19" fill="#9e9e9a"/><polygon points="520.19,471.7 525.1,476.61 525.1,472.19" fill="#80807c"/><polygon points="530.01,471.7 525.1,476.61 525.1,472.19" fill="#5e5e5a"/><polygon points="535.55,466.79 530.64,471.7 535.55,472.19" fill="#c8c8c4"/><polygon points="535.55,466.79 540.46,471.7 535.55,472.19" fill="#9e9e9a"/><polygon points="530.64,471.7 535.55,476.61 535.55,472.19" fill="#80807c"/><polygon points="540.46,471.7 535.55,476.61 535.55,472.19" fill="#5e5e5a"/><polygon points="504.2,477.59 499.29,482.5 504.2,482.99" fill="#c8c8c4"/><polygon points="504.2,477.59 509.11,482.5 504.2,482.99" fill="#9e9e9a"/><polygon points="499.29,482.5 504.2,487.41 504.2,482.99" fill="#80807c"/><polygon points="509.11,482.5 504.2,487.41 504.2,482.99" fill="#5e5e5a"/><polygon points="514.65,477.59 509.74,482.5 514.65,482.99" fill="#c8c8c4"/><polygon points="514.65,477.59 519.56,482.5 514.65,482.99" fill="#9e9e9a"/><polygon points="509.74,482.5 514.65,487.41 514.65,482.99" fill="#80807c"/><polygon points="519.56,482.5 514.65,487.41 514.65,482.99" fill="#5e5e5a"/><polygon points="525.1,477.59 520.19,482.5 525.1,482.99" fill="#c8c8c4"/><polygon points="525.1,477.59 530.01,482.5 525.1,482.99" fill="#9e9e9a"/><polygon points="520.19,482.5 525.1,487.41 525.1,482.99" fill="#80807c"/><polygon points="530.01,482.5 525.1,487.41 525.1,482.99" fill="#5e5e5a"/><polygon points="535.55,477.59 530.64,482.5 535.55,482.99" fill="#c8c8c4"/><polygon points="535.55,477.59 540.46,482.5 535.55,482.99" fill="#9e9e9a"/><polygon points="530.64,482.5 535.55,487.41 535.55,482.99" fill="#80807c"/><polygon points="540.46,482.5 535.55,487.41 535.55,482.99" fill="#5e5e5a"/><polygon points="504.2,488.39 499.29,493.3 504.2,493.79" fill="#c8c8c4"/><polygon points="504.2,488.39 509.11,493.3 504.2,493.79" fill="#9e9e9a"/><polygon points="499.29,493.3 504.2,498.21 504.2,493.79" fill="#80807c"/><polygon points="509.11,493.3 504.2,498.21 504.2,493.79" fill="#5e5e5a"/><polygon points="514.65,488.39 509.74,493.3 514.65,493.79" fill="#c8c8c4"/><polygon points="514.65,488.39 519.56,493.3 514.65,493.79" fill="#9e9e9a"/><polygon points="509.74,493.3 514.65,498.21 514.65,493.79" fill="#80807c"/><polygon points="519.56,493.3 514.65,498.21 514.65,493.79" fill="#5e5e5a"/><polygon points="525.1,488.39 520.19,493.3 525.1,493.79" fill="#c8c8c4"/><polygon points="525.1,488.39 530.01,493.3 525.1,493.79" fill="#9e9e9a"/><polygon points="520.19,493.3 525.1,498.21 525.1,493.79" fill="#80807c"/><polygon points="530.01,493.3 525.1,498.21 525.1,493.79" fill="#5e5e5a"/><polygon points="535.55,488.39 530.64,493.3 535.55,493.79" fill="#c8c8c4"/><polygon points="535.55,488.39 540.46,493.3 535.55,493.79" fill="#9e9e9a"/><polygon points="530.64,493.3 535.55,498.21 535.55,493.79" fill="#80807c"/><polygon points="540.46,493.3 535.55,498.21 535.55,493.79" fill="#5e5e5a"/><polygon points="504.2,499.19 499.29,504.1 504.2,504.59" fill="#c8c8c4"/><polygon points="504.2,499.19 509.11,504.1 504.2,504.59" fill="#9e9e9a"/><polygon points="499.29,504.1 504.2,509.01 504.2,504.59" fill="#80807c"/><polygon points="509.11,504.1 504.2,509.01 504.2,504.59" fill="#5e5e5a"/><polygon points="514.65,499.19 509.74,504.1 514.65,504.59" fill="#c8c8c4"/><polygon points="514.65,499.19 519.56,504.1 514.65,504.59" fill="#9e9e9a"/><polygon points="509.74,504.1 514.65,509.01 514.65,504.59" fill="#80807c"/><polygon points="519.56,504.1 514.65,509.01 514.65,504.59" fill="#5e5e5a"/><polygon points="525.1,499.19 520.19,504.1 525.1,504.59" fill="#c8c8c4"/><polygon points="525.1,499.19 530.01,504.1 525.1,504.59" fill="#9e9e9a"/><polygon points="520.19,504.1 525.1,509.01 525.1,504.59" fill="#80807c"/><polygon points="530.01,504.1 525.1,509.01 525.1,504.59" fill="#5e5e5a"/><polygon points="535.55,499.19 530.64,504.1 535.55,504.59" fill="#c8c8c4"/><polygon points="535.55,499.19 540.46,504.1 535.55,504.59" fill="#9e9e9a"/><polygon points="530.64,504.1 535.55,509.01 535.55,504.59" fill="#80807c"/><polygon points="540.46,504.1 535.55,509.01 535.55,504.59" fill="#5e5e5a"/><polygon points="504.2,509.99 499.29,514.9 504.2,515.39" fill="#c8c8c4"/><polygon points="504.2,509.99 509.11,514.9 504.2,515.39" fill="#9e9e9a"/><polygon points="499.29,514.9 504.2,519.81 504.2,515.39" fill="#80807c"/><polygon points="509.11,514.9 504.2,519.81 504.2,515.39" fill="#5e5e5a"/><polygon points="514.65,509.99 509.74,514.9 514.65,515.39" fill="#c8c8c4"/><polygon points="514.65,509.99 519.56,514.9 514.65,515.39" fill="#9e9e9a"/><polygon points="509.74,514.9 514.65,519.81 514.65,515.39" fill="#80807c"/><polygon points="519.56,514.9 514.65,519.81 514.65,515.39" fill="#5e5e5a"/><polygon points="525.1,509.99 520.19,514.9 525.1,515.39" fill="#c8c8c4"/><polygon points="525.1,509.99 530.01,514.9 525.1,515.39" fill="#9e9e9a"/><polygon points="520.19,514.9 525.1,519.81 525.1,515.39" fill="#80807c"/><polygon points="530.01,514.9 525.1,519.81 525.1,515.39" fill="#5e5e5a"/><polygon points="535.55,509.99 530.64,514.9 535.55,515.39" fill="#c8c8c4"/><polygon points="535.55,509.99 540.46,514.9 535.55,515.39" fill="#9e9e9a"/><polygon points="530.64,514.9 535.55,519.81 535.55,515.39" fill="#80807c"/><polygon points="540.46,514.9 535.55,519.81 535.55,515.39" fill="#5e5e5a"/><polygon points="504.2,520.79 499.29,525.7 504.2,526.19" fill="#c8c8c4"/><polygon points="504.2,520.79 509.11,525.7 504.2,526.19" fill="#9e9e9a"/><polygon points="499.29,525.7 504.2,530.61 504.2,526.19" fill="#80807c"/><polygon points="509.11,525.7 504.2,530.61 504.2,526.19" fill="#5e5e5a"/><polygon points="514.65,520.79 509.74,525.7 514.65,526.19" fill="#c8c8c4"/><polygon points="514.65,520.79 519.56,525.7 514.65,526.19" fill="#9e9e9a"/><polygon points="509.74,525.7 514.65,530.61 514.65,526.19" fill="#80807c"/><polygon points="519.56,525.7 514.65,530.61 514.65,526.19" fill="#5e5e5a"/><polygon points="525.1,520.79 520.19,525.7 525.1,526.19" fill="#c8c8c4"/><polygon points="525.1,520.79 530.01,525.7 525.1,526.19" fill="#9e9e9a"/><polygon points="520.19,525.7 525.1,530.61 525.1,526.19" fill="#80807c"/><polygon points="530.01,525.7 525.1,530.61 525.1,526.19" fill="#5e5e5a"/><polygon points="535.55,520.79 530.64,525.7 535.55,526.19" fill="#c8c8c4"/><polygon points="535.55,520.79 540.46,525.7 535.55,526.19" fill="#9e9e9a"/><polygon points="530.64,525.7 535.55,530.61 535.55,526.19" fill="#80807c"/><polygon points="540.46,525.7 535.55,530.61 535.55,526.19" fill="#5e5e5a"/><polygon points="504.2,531.59 499.29,536.5 504.2,536.99" fill="#c8c8c4"/><polygon points="504.2,531.59 509.11,536.5 504.2,536.99" fill="#9e9e9a"/><polygon points="499.29,536.5 504.2,541.41 504.2,536.99" fill="#80807c"/><polygon points="509.11,536.5 504.2,541.41 504.2,536.99" fill="#5e5e5a"/><polygon points="514.65,531.59 509.74,536.5 514.65,536.99" fill="#c8c8c4"/><polygon points="514.65,531.59 519.56,536.5 514.65,536.99" fill="#9e9e9a"/><polygon points="509.74,536.5 514.65,541.41 514.65,536.99" fill="#80807c"/><polygon points="519.56,536.5 514.65,541.41 514.65,536.99" fill="#5e5e5a"/><polygon points="525.1,531.59 520.19,536.5 525.1,536.99" fill="#c8c8c4"/><polygon points="525.1,531.59 530.01,536.5 525.1,536.99" fill="#9e9e9a"/><polygon points="520.19,536.5 525.1,541.41 525.1,536.99" fill="#80807c"/><polygon points="530.01,536.5 525.1,541.41 525.1,536.99" fill="#5e5e5a"/><polygon points="535.55,531.59 530.64,536.5 535.55,536.99" fill="#c8c8c4"/><polygon points="535.55,531.59 540.46,536.5 535.55,536.99" fill="#9e9e9a"/><polygon points="530.64,536.5 535.55,541.41 535.55,536.99" fill="#80807c"/><polygon points="540.46,536.5 535.55,541.41 535.55,536.99" fill="#5e5e5a"/><circle cx="509.43" cy="466.3" r="1.55" fill="#e8241c" /><circle cx="519.88" cy="466.3" r="1.55" fill="#e8241c" /><circle cx="530.33" cy="466.3" r="1.55" fill="#e8241c" /><circle cx="509.43" cy="477.1" r="1.55" fill="#e8241c" /><circle cx="519.88" cy="477.1" r="1.55" fill="#e8241c" /><circle cx="530.33" cy="477.1" r="1.55" fill="#e8241c" /><circle cx="509.43" cy="487.9" r="1.55" fill="#e8241c" /><circle cx="519.88" cy="487.9" r="1.55" fill="#e8241c" /><circle cx="530.33" cy="487.9" r="1.55" fill="#e8241c" /><circle cx="509.43" cy="498.7" r="1.55" fill="#e8241c" /><circle cx="519.88" cy="498.7" r="1.55" fill="#e8241c" /><circle cx="530.33" cy="498.7" r="1.55" fill="#e8241c" /><circle cx="509.43" cy="509.5" r="1.55" fill="#e8241c" /><circle cx="519.88" cy="509.5" r="1.55" fill="#e8241c" /><circle cx="530.33" cy="509.5" r="1.55" fill="#e8241c" /><circle cx="509.43" cy="520.3" r="1.55" fill="#e8241c" /><circle cx="519.88" cy="520.3" r="1.55" fill="#e8241c" /><circle cx="530.33" cy="520.3" r="1.55" fill="#e8241c" /><circle cx="509.43" cy="531.1" r="1.55" fill="#e8241c" /><circle cx="519.88" cy="531.1" r="1.55" fill="#e8241c" /><circle cx="530.33" cy="531.1" r="1.55" fill="#e8241c" /><text x="338.7" y="450.5" font-family='"Liberation Sans", sans-serif' font-size="6.4" font-weight="bold" fill="#333" text-anchor="middle" textLength="24.8" lengthAdjust="spacingAndGlyphs">Bi<tspan font-size="4.2" dy="1.2">4</tspan><tspan dy="-1.2">Ti</tspan><tspan font-size="4.2" dy="1.2">3</tspan><tspan dy="-1.2">O</tspan><tspan font-size="4.2" dy="1.2">12</tspan><tspan dy="-1.2"></tspan></text><text x="460.3" y="450.5" font-family='"Liberation Sans", sans-serif' font-size="6.4" font-weight="bold" fill="#333" text-anchor="middle" textLength="41.8" lengthAdjust="spacingAndGlyphs">Bi<tspan font-size="4.2" dy="1.2">4.5</tspan><tspan dy="-1.2">Na</tspan><tspan font-size="4.2" dy="1.2">0.5</tspan><tspan dy="-1.2">Ti</tspan><tspan font-size="4.2" dy="1.2">4</tspan><tspan dy="-1.2">O</tspan><tspan font-size="4.2" dy="1.2">15</tspan><tspan dy="-1.2"></tspan></text><text x="519.9" y="450.5" font-family='"Liberation Sans", sans-serif' font-size="6.4" font-weight="bold" fill="#333" text-anchor="middle" textLength="37.7" lengthAdjust="spacingAndGlyphs">Bi<tspan font-size="4.2" dy="1.2">0.5</tspan><tspan dy="-1.2">Na</tspan><tspan font-size="4.2" dy="1.2">0.5</tspan><tspan dy="-1.2">TiO</tspan><tspan font-size="4.2" dy="1.2">3</tspan><tspan dy="-1.2"></tspan></text><text x="282.9" y="472.3" font-family='"Liberation Sans", sans-serif' font-size="6.8" font-weight="bold" fill="#333" text-anchor="middle" textLength="56.8" lengthAdjust="spacingAndGlyphs">pseudo-perovskite</text><text x="283.7" y="480.3" font-family='"Liberation Sans", sans-serif' font-size="6.6" font-weight="bold" fill="#333" text-anchor="middle" textLength="55.3" lengthAdjust="spacingAndGlyphs">(Bi<tspan font-size="4.2" dy="1.2">2</tspan><tspan dy="-1.2">Ti</tspan><tspan font-size="4.2" dy="1.2">2</tspan><tspan dy="-1.2">O</tspan><tspan font-size="4.2" dy="1.2">10</tspan><tspan dy="-1.2">)<tspan font-size="4.2" dy="-2.4">2-</tspan><tspan dy="2.4"> block</tspan></tspan></text><text x="394.4" y="474.3" font-family='"Liberation Sans", sans-serif' font-size="6.8" font-weight="bold" fill="#333" text-anchor="middle" textLength="52.7" lengthAdjust="spacingAndGlyphs">pseudo-perovskite</text><text x="393.6" y="481.3" font-family='"Liberation Sans", sans-serif' font-size="6.6" font-weight="bold" fill="#333" text-anchor="middle" textLength="66.5" lengthAdjust="spacingAndGlyphs">(Bi<tspan font-size="4.2" dy="1.2">2.5</tspan><tspan dy="-1.2">Na</tspan><tspan font-size="4.2" dy="1.2">0.5</tspan><tspan dy="-1.2">Ti</tspan><tspan font-size="4.2" dy="1.2">4</tspan><tspan dy="-1.2">O</tspan><tspan font-size="4.2" dy="1.2">13</tspan><tspan dy="-1.2">)<tspan font-size="4.2" dy="-2.4">2-</tspan><tspan dy="2.4"> block</tspan></tspan></text><text x="397.9" y="501.3" font-family='"Liberation Sans", sans-serif' font-size="6.6" font-weight="bold" fill="#333" text-anchor="middle" textLength="40.6" lengthAdjust="spacingAndGlyphs">(Bi<tspan font-size="4.2" dy="1.2">2</tspan><tspan dy="-1.2">O</tspan><tspan font-size="4.2" dy="1.2">2</tspan><tspan dy="-1.2">)<tspan font-size="4.2" dy="-2.4">2+</tspan><tspan dy="2.4"> layer</tspan></tspan></text><path d="M316,457 L313.5,457 L313.5,484 L316,484 M313.5,470.5 L311.5,470.5" fill="none" stroke="#444" stroke-width="0.7"/><path d="M437,460 L434.5,460 L434.5,493 L437,493 M434.5,477.5 L432.5,477.5" fill="none" stroke="#444" stroke-width="0.7"/><path d="M375.9,497.3 L362,495.8" stroke="#444" stroke-width="0.6"/><path d="M360.2,495.6 L363.6,494.6 L363.3,497.2 Z" fill="#444"/><path d="M420.8,500.8 L436,503.9" stroke="#444" stroke-width="0.6"/><path d="M438,504.3 L434.5,505.3 L435,502.6 Z" fill="#444"/><circle cx="257.9" cy="517.5" r="1.3" fill="#e8241c" /><text x="264.5" y="519.2" font-family='"Liberation Sans", sans-serif' font-size="6.2" font-weight="bold" fill="#333" text-anchor="start">O</text><circle cx="257.5" cy="528.4" r="1.3" fill="#22b422" /><text x="264.5" y="530.3" font-family='"Liberation Sans", sans-serif' font-size="6.2" font-weight="bold" fill="#333" text-anchor="start">Bi</text><circle cx="257.5" cy="539.2" r="1.3" fill="#e8241c" /><text x="264.5" y="541.1" font-family='"Liberation Sans", sans-serif' font-size="6.2" font-weight="bold" fill="#333" text-anchor="start" textLength="24.9" lengthAdjust="spacingAndGlyphs">Bi<tspan font-size="4.2" dy="1.2">0.5</tspan><tspan dy="-1.2">Na</tspan><tspan font-size="4.2" dy="1.2">0.5</tspan><tspan dy="-1.2"></tspan></text><polygon points="257.5,545.6 252.8,550.3 257.5,550.77" fill="#c8c8c4"/><polygon points="257.5,545.6 262.2,550.3 257.5,550.77" fill="#9e9e9a"/><polygon points="252.8,550.3 257.5,555 257.5,550.77" fill="#80807c"/><polygon points="262.2,550.3 257.5,555 257.5,550.77" fill="#5e5e5a"/><text x="264.5" y="551.9" font-family='"Liberation Sans", sans-serif' font-size="6.4" font-weight="bold" fill="#333" text-anchor="start" textLength="47.2" lengthAdjust="spacingAndGlyphs">TiO<tspan font-size="4.2" dy="1.2">6</tspan><tspan dy="-1.2"> octahedron</tspan></text><polyline points="10.4,6.3 540,6.3" fill="none" stroke="#1f9ae6" stroke-width="1.75" stroke-dasharray="0 3.8" stroke-linecap="round"/><polyline points="10.4,6.3 9.1,130 7.3,252.7 5.9,427.6 4,577.9" fill="none" stroke="#1f9ae6" stroke-width="1.75" stroke-dasharray="0 3.8" stroke-linecap="round"/><polyline points="540,6.3 540.9,139.7 541.9,300 543.2,427.6 544.2,577.4" fill="none" stroke="#1f9ae6" stroke-width="1.75" stroke-dasharray="0 3.8" stroke-linecap="round"/><polyline points="329.1,6.3 329.1,139.7" fill="none" stroke="#1f9ae6" stroke-width="1.75" stroke-dasharray="0 3.8" stroke-linecap="round"/><polyline points="329.1,139.7 540.9,139.7" fill="none" stroke="#1f9ae6" stroke-width="1.75" stroke-dasharray="0 3.8" stroke-linecap="round"/><polyline points="370.2,139.7 370.2,427.6" fill="none" stroke="#1f9ae6" stroke-width="1.75" stroke-dasharray="0 3.8" stroke-linecap="round"/><polyline points="7.3,252.7 370.2,252.7" fill="none" stroke="#1f9ae6" stroke-width="1.75" stroke-dasharray="0 3.8" stroke-linecap="round"/><polyline points="370.2,291.6 541.9,291.6" fill="none" stroke="#1f9ae6" stroke-width="1.75" stroke-dasharray="0 3.8" stroke-linecap="round"/><polyline points="5.9,427.6 543.2,427.6" fill="none" stroke="#1f9ae6" stroke-width="1.75" stroke-dasharray="0 3.8" stroke-linecap="round"/><polyline points="244,427.6 243.6,577.6" fill="none" stroke="#1f9ae6" stroke-width="1.75" stroke-dasharray="0 3.8" stroke-linecap="round"/><polyline points="4,577.9 243.6,577.6 544.2,577.4" fill="none" stroke="#1f9ae6" stroke-width="1.75" stroke-dasharray="0 3.8" stroke-linecap="round"/></svg></body></html>
